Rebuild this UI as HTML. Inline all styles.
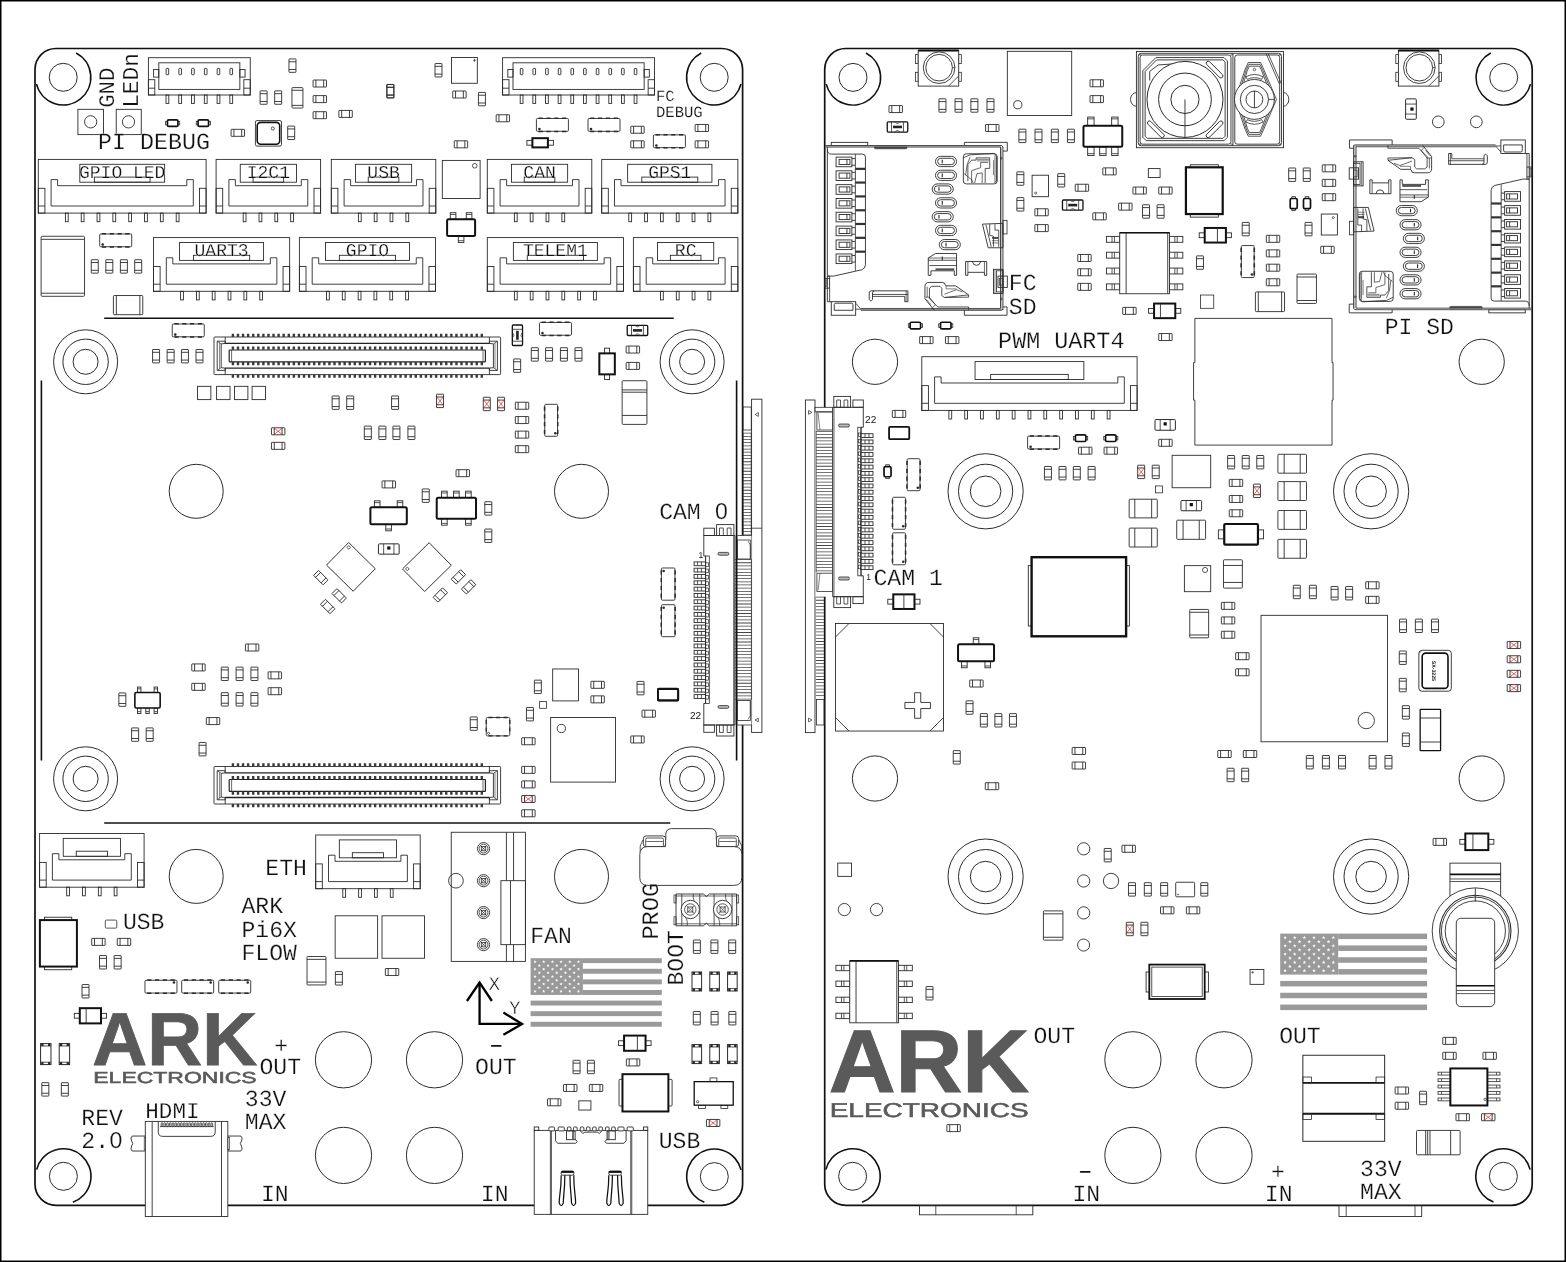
<!DOCTYPE html>
<html><head><meta charset="utf-8"><title>ARK Pi6X Flow</title>
<style>
html,body{margin:0;padding:0;background:#fff;}
body{width:1566px;height:1262px;overflow:hidden;}
svg{display:block;will-change:transform}
text{text-rendering:geometricPrecision;}
.t{font-family:"Liberation Mono","DejaVu Sans Mono",monospace;}
.s{font-family:"Liberation Sans","DejaVu Sans",sans-serif;}
</style></head><body>
<svg width="1566" height="1262" viewBox="0 0 1566 1262">
<rect x="0" y="0" width="1566" height="1262" fill="#fff"/>
<rect x="0.75" y="0.75" width="1564.5" height="1260.5" fill="none" stroke="#000" stroke-width="1.5"/>
<rect x="35" y="48.5" width="707.6" height="1156.8" rx="21" fill="none" stroke="#111" stroke-width="1.7"/>
<line x1="41.4" y1="380.5" x2="41.4" y2="760.4" stroke="#111" stroke-width="1.6"/>
<line x1="736.6" y1="380.5" x2="736.6" y2="760.4" stroke="#111" stroke-width="1.6"/>
<line x1="104.2" y1="318.3" x2="673.7" y2="318.3" stroke="#111" stroke-width="1.6"/>
<line x1="104.2" y1="823" x2="670.3" y2="823" stroke="#111" stroke-width="1.6"/>
<circle cx="63.2" cy="77.3" r="14" fill="none" stroke="#2b2b2b" stroke-width="1"/>
<path d="M76.16 52.93A27.6 27.6 0 1 1 36.42 83.98" fill="none" stroke="#111" stroke-width="1.6"/>
<circle cx="714.2" cy="77.3" r="14" fill="none" stroke="#2b2b2b" stroke-width="1"/>
<path d="M740.98 83.98A27.6 27.6 0 1 1 701.24 52.93" fill="none" stroke="#111" stroke-width="1.6"/>
<circle cx="63.4" cy="1176.3" r="14" fill="none" stroke="#2b2b2b" stroke-width="1"/>
<path d="M36.62 1169.62A27.6 27.6 0 1 1 72.84 1202.24" fill="none" stroke="#111" stroke-width="1.6"/>
<circle cx="714.3" cy="1176.6" r="14" fill="none" stroke="#2b2b2b" stroke-width="1"/>
<path d="M704.41 1202.37A27.6 27.6 0 1 1 741.08 1169.92" fill="none" stroke="#111" stroke-width="1.6"/>
<circle cx="85.6" cy="361.8" r="32" fill="none" stroke="#2b2b2b" stroke-width="1"/>
<circle cx="85.6" cy="361.8" r="22.7" fill="none" stroke="#2b2b2b" stroke-width="1"/>
<circle cx="85.6" cy="361.8" r="12.5" fill="none" stroke="#2b2b2b" stroke-width="1"/>
<circle cx="692.1" cy="361.8" r="32" fill="none" stroke="#2b2b2b" stroke-width="1"/>
<circle cx="692.1" cy="361.8" r="22.7" fill="none" stroke="#2b2b2b" stroke-width="1"/>
<circle cx="692.1" cy="361.8" r="12.5" fill="none" stroke="#2b2b2b" stroke-width="1"/>
<circle cx="85.6" cy="778.8" r="32" fill="none" stroke="#2b2b2b" stroke-width="1"/>
<circle cx="85.6" cy="778.8" r="22.7" fill="none" stroke="#2b2b2b" stroke-width="1"/>
<circle cx="85.6" cy="778.8" r="12.5" fill="none" stroke="#2b2b2b" stroke-width="1"/>
<circle cx="692.1" cy="778.8" r="32" fill="none" stroke="#2b2b2b" stroke-width="1"/>
<circle cx="692.1" cy="778.8" r="22.7" fill="none" stroke="#2b2b2b" stroke-width="1"/>
<circle cx="692.1" cy="778.8" r="12.5" fill="none" stroke="#2b2b2b" stroke-width="1"/>
<circle cx="196.2" cy="491.3" r="27" fill="none" stroke="#2b2b2b" stroke-width="1"/>
<circle cx="581.5" cy="491.3" r="27" fill="none" stroke="#2b2b2b" stroke-width="1"/>
<circle cx="196.2" cy="876.4" r="27" fill="none" stroke="#2b2b2b" stroke-width="1"/>
<circle cx="581.5" cy="876.4" r="27" fill="none" stroke="#2b2b2b" stroke-width="1"/>
<circle cx="343.5" cy="1059.8" r="28.1" fill="none" stroke="#2b2b2b" stroke-width="1"/>
<circle cx="434.5" cy="1059.8" r="28.1" fill="none" stroke="#2b2b2b" stroke-width="1"/>
<circle cx="343.5" cy="1155.4" r="28.1" fill="none" stroke="#2b2b2b" stroke-width="1"/>
<circle cx="434.5" cy="1155.4" r="28.1" fill="none" stroke="#2b2b2b" stroke-width="1"/>
<text class="t" dx="-1" x="113.67" y="106.77" font-size="22.3" text-anchor="start" fill="#111" font-weight="normal" stroke="#fff" stroke-width="0.22" transform="rotate(-90 113.67 106.77)">GND</text>
<text class="t" dx="-1.03" x="137.93" y="106.77" font-size="22.8" text-anchor="start" fill="#111" font-weight="normal" stroke="#fff" stroke-width="0.22" transform="rotate(-90 137.93 106.77)">LEDn</text>
<rect x="77.91" y="109.32" width="25.54" height="25.29" fill="none" stroke="#2b2b2b" stroke-width="0.9"/>
<circle cx="90.68" cy="121.84" r="6.13" fill="none" stroke="#2b2b2b" stroke-width="0.9"/>
<rect x="116.22" y="109.32" width="25.03" height="25.29" fill="none" stroke="#2b2b2b" stroke-width="0.9"/>
<circle cx="128.48" cy="121.84" r="6.13" fill="none" stroke="#2b2b2b" stroke-width="0.9"/>
<text class="t" dx="-1.05" x="99.11" y="148.91" font-size="23.3" text-anchor="start" fill="#111" font-weight="normal" stroke="#fff" stroke-width="0.22">PI DEBUG</text>
<rect x="148.4" y="57.7" width="101.85" height="37.3" fill="none" stroke="#2b2b2b" stroke-width="0.9"/>
<rect x="158.8" y="62.8" width="81.05" height="26.6" fill="none" stroke="#2b2b2b" stroke-width="0.9"/>
<rect x="153.6" y="69.5" width="5.2" height="7.6" fill="none" stroke="#2b2b2b" stroke-width="0.9"/>
<rect x="239.85" y="69.5" width="5.2" height="7.6" fill="none" stroke="#2b2b2b" stroke-width="0.9"/>
<rect x="148.4" y="79.7" width="6.4" height="15.3" fill="none" stroke="#2b2b2b" stroke-width="0.9"/>
<line x1="148.4" y1="88.2" x2="154.8" y2="88.2" stroke="#2b2b2b" stroke-width="0.9"/>
<rect x="243.85" y="79.7" width="6.4" height="15.3" fill="none" stroke="#2b2b2b" stroke-width="0.9"/>
<line x1="243.85" y1="88.2" x2="250.25" y2="88.2" stroke="#2b2b2b" stroke-width="0.9"/>
<rect x="166.1" y="68.4" width="2.6" height="6.3" rx="0.6" fill="none" stroke="#2b2b2b" stroke-width="0.9"/>
<rect x="166" y="95" width="2.8" height="8.4" fill="none" stroke="#2b2b2b" stroke-width="0.9"/>
<rect x="178.87" y="68.4" width="2.6" height="6.3" rx="0.6" fill="none" stroke="#2b2b2b" stroke-width="0.9"/>
<rect x="178.77" y="95" width="2.8" height="8.4" fill="none" stroke="#2b2b2b" stroke-width="0.9"/>
<rect x="191.64" y="68.4" width="2.6" height="6.3" rx="0.6" fill="none" stroke="#2b2b2b" stroke-width="0.9"/>
<rect x="191.54" y="95" width="2.8" height="8.4" fill="none" stroke="#2b2b2b" stroke-width="0.9"/>
<rect x="204.41" y="68.4" width="2.6" height="6.3" rx="0.6" fill="none" stroke="#2b2b2b" stroke-width="0.9"/>
<rect x="204.31" y="95" width="2.8" height="8.4" fill="none" stroke="#2b2b2b" stroke-width="0.9"/>
<rect x="217.18" y="68.4" width="2.6" height="6.3" rx="0.6" fill="none" stroke="#2b2b2b" stroke-width="0.9"/>
<rect x="217.08" y="95" width="2.8" height="8.4" fill="none" stroke="#2b2b2b" stroke-width="0.9"/>
<rect x="229.95" y="68.4" width="2.6" height="6.3" rx="0.6" fill="none" stroke="#2b2b2b" stroke-width="0.9"/>
<rect x="229.85" y="95" width="2.8" height="8.4" fill="none" stroke="#2b2b2b" stroke-width="0.9"/>
<g transform="translate(292.46 65.64) rotate(90)" fill="none" stroke="#2b2b2b" stroke-width="0.9"><rect x="-6.7" y="-3.5" width="13.4" height="7" rx="0.35"/><path d="M-3.89 -3.5V3.5M3.89 -3.5V3.5"/></g>
<g transform="translate(263.6 97.57) rotate(90)" fill="none" stroke="#2b2b2b" stroke-width="0.9"><rect x="-6.7" y="-3.5" width="13.4" height="7" rx="0.35"/><path d="M-3.89 -3.5V3.5M3.89 -3.5V3.5"/></g>
<g transform="translate(278.16 97.57) rotate(90)" fill="none" stroke="#2b2b2b" stroke-width="0.9"><rect x="-6.7" y="-3.5" width="13.4" height="7" rx="0.35"/><path d="M-3.89 -3.5V3.5M3.89 -3.5V3.5"/></g>
<g transform="translate(390.29 91.19) rotate(90)" fill="none" stroke="#2b2b2b" stroke-width="0.9"><rect x="-6.7" y="-3.5" width="13.4" height="7" rx="0.35"/><path d="M-3.89 -3.5V3.5M3.89 -3.5V3.5"/></g>
<rect x="291.95" y="87.61" width="10.98" height="20.43" rx="0.8" fill="none" stroke="#2b2b2b" stroke-width="0.9"/>
<line x1="291.95" y1="90.27" x2="302.94" y2="90.27" stroke="#2b2b2b" stroke-width="0.9"/>
<line x1="291.95" y1="105.39" x2="302.94" y2="105.39" stroke="#2b2b2b" stroke-width="0.9"/>
<g transform="translate(319.8 83.52)" fill="none" stroke="#2b2b2b" stroke-width="0.9"><rect x="-6.7" y="-3.5" width="13.4" height="7" rx="0.35"/><path d="M-3.89 -3.5V3.5M3.89 -3.5V3.5"/></g>
<g transform="translate(319.8 99.11)" fill="none" stroke="#2b2b2b" stroke-width="0.9"><rect x="-6.7" y="-3.5" width="13.4" height="7" rx="0.35"/><path d="M-3.89 -3.5V3.5M3.89 -3.5V3.5"/></g>
<g transform="translate(319.8 115.2)" fill="none" stroke="#2b2b2b" stroke-width="0.9"><rect x="-6.7" y="-3.5" width="13.4" height="7" rx="0.35"/><path d="M-3.89 -3.5V3.5M3.89 -3.5V3.5"/></g>
<g transform="translate(345.59 113.92)" fill="none" stroke="#2b2b2b" stroke-width="0.9"><rect x="-6.7" y="-3.5" width="13.4" height="7" rx="0.35"/><path d="M-3.89 -3.5V3.5M3.89 -3.5V3.5"/></g>
<g transform="translate(172.67 123.12)"><rect x="-7.05" y="-1.8" width="14.1" height="3.6" fill="none" stroke="#2b2b2b" stroke-width="0.8"/><rect x="-5.25" y="-3.3" width="10.5" height="6.6" rx="1.4" fill="#fff" stroke="#111" stroke-width="1.7"/></g>
<g transform="translate(203.32 123.12)"><rect x="-7.05" y="-1.8" width="14.1" height="3.6" fill="none" stroke="#2b2b2b" stroke-width="0.8"/><rect x="-5.25" y="-3.3" width="10.5" height="6.6" rx="1.4" fill="#fff" stroke="#111" stroke-width="1.7"/></g>
<g transform="translate(237.8 132.82)" fill="none" stroke="#2b2b2b" stroke-width="0.9"><rect x="-6.7" y="-3.5" width="13.4" height="7" rx="0.35"/><path d="M-3.89 -3.5V3.5M3.89 -3.5V3.5"/></g>
<g transform="translate(291.19 132.82) rotate(90)" fill="none" stroke="#2b2b2b" stroke-width="0.9"><rect x="-6.7" y="-3.5" width="13.4" height="7" rx="0.35"/><path d="M-3.89 -3.5V3.5M3.89 -3.5V3.5"/></g>
<rect x="255.43" y="120.56" width="26.05" height="25.54" rx="1.5" fill="none" stroke="#2b2b2b" stroke-width="0.9"/>
<rect x="257.22" y="122.35" width="22.48" height="21.97" rx="3.5" fill="none" stroke="#111" stroke-width="1.6"/>
<circle cx="272.8" cy="128.48" r="1.53" fill="none" stroke="#2b2b2b" stroke-width="0.8"/>
<rect x="41.12" y="236.27" width="43.42" height="60.03" rx="1" fill="none" stroke="#2b2b2b" stroke-width="0.9"/>
<line x1="41.12" y1="239.34" x2="84.55" y2="239.34" stroke="#2b2b2b" stroke-width="0.9"/>
<line x1="41.12" y1="293.23" x2="84.55" y2="293.23" stroke="#2b2b2b" stroke-width="0.9"/>
<g transform="translate(115.71 240.36)"><rect x="-16" y="-6.4" width="32" height="12.8" rx="1" fill="none" stroke="#2b2b2b" stroke-width="0.9"/><path d="M-13.8 -6.6H15M-13.8 6.6H15" stroke="#2b2b2b" stroke-width="1.5" stroke-dasharray="4.2 3.6" fill="none"/><circle cx="-13" cy="4.2" r="1.3" fill="#2b2b2b"/></g>
<g transform="translate(94.76 266.41) rotate(90)" fill="none" stroke="#2b2b2b" stroke-width="0.9"><rect x="-6.7" y="-3.5" width="13.4" height="7" rx="0.35"/><path d="M-3.89 -3.5V3.5M3.89 -3.5V3.5"/></g>
<g transform="translate(109.32 266.41) rotate(90)" fill="none" stroke="#2b2b2b" stroke-width="0.9"><rect x="-6.7" y="-3.5" width="13.4" height="7" rx="0.35"/><path d="M-3.89 -3.5V3.5M3.89 -3.5V3.5"/></g>
<g transform="translate(123.88 266.41) rotate(90)" fill="none" stroke="#2b2b2b" stroke-width="0.9"><rect x="-6.7" y="-3.5" width="13.4" height="7" rx="0.35"/><path d="M-3.89 -3.5V3.5M3.89 -3.5V3.5"/></g>
<g transform="translate(138.19 266.41) rotate(90)" fill="none" stroke="#2b2b2b" stroke-width="0.9"><rect x="-6.7" y="-3.5" width="13.4" height="7" rx="0.35"/><path d="M-3.89 -3.5V3.5M3.89 -3.5V3.5"/></g>
<rect x="113.41" y="295.53" width="29.37" height="19.16" rx="0.8" fill="none" stroke="#2b2b2b" stroke-width="0.9"/>
<line x1="116.35" y1="295.53" x2="116.35" y2="314.69" stroke="#2b2b2b" stroke-width="0.9"/>
<line x1="139.85" y1="295.53" x2="139.85" y2="314.69" stroke="#2b2b2b" stroke-width="0.9"/>
<rect x="38.3" y="159.4" width="167.81" height="53.7" fill="none" stroke="#2b2b2b" stroke-width="0.9"/>
<rect x="79.81" y="164.3" width="84.8" height="17.9" fill="none" stroke="#2b2b2b" stroke-width="0.9"/>
<rect x="94.36" y="177.1" width="55.7" height="5.1" fill="none" stroke="#2b2b2b" stroke-width="0.9"/>
<path d="M51.1 179.6 L57.6 179.6 L57.6 185.7 L186.81 185.7 L186.81 179.6 L193.31 179.6 L193.31 206 L51.1 206 Z" fill="#fff" stroke="#2b2b2b" stroke-width="0.9"/>
<rect x="38.3" y="188.3" width="6.6" height="24.8" fill="none" stroke="#2b2b2b" stroke-width="0.9"/>
<line x1="38.3" y1="206" x2="44.9" y2="206" stroke="#2b2b2b" stroke-width="0.9"/>
<rect x="199.51" y="188.3" width="6.6" height="24.8" fill="none" stroke="#2b2b2b" stroke-width="0.9"/>
<line x1="199.51" y1="206" x2="206.11" y2="206" stroke="#2b2b2b" stroke-width="0.9"/>
<rect x="65.4" y="213.1" width="2.8" height="8.6" fill="none" stroke="#2b2b2b" stroke-width="0.9"/>
<rect x="81.23" y="213.1" width="2.8" height="8.6" fill="none" stroke="#2b2b2b" stroke-width="0.9"/>
<rect x="97.06" y="213.1" width="2.8" height="8.6" fill="none" stroke="#2b2b2b" stroke-width="0.9"/>
<rect x="112.89" y="213.1" width="2.8" height="8.6" fill="none" stroke="#2b2b2b" stroke-width="0.9"/>
<rect x="128.72" y="213.1" width="2.8" height="8.6" fill="none" stroke="#2b2b2b" stroke-width="0.9"/>
<rect x="144.55" y="213.1" width="2.8" height="8.6" fill="none" stroke="#2b2b2b" stroke-width="0.9"/>
<rect x="160.38" y="213.1" width="2.8" height="8.6" fill="none" stroke="#2b2b2b" stroke-width="0.9"/>
<rect x="176.21" y="213.1" width="2.8" height="8.6" fill="none" stroke="#2b2b2b" stroke-width="0.9"/>
<text class="t" x="122.21" y="178.2" font-size="18" text-anchor="middle" fill="#111" font-weight="normal" stroke="#fff" stroke-width="0.22">GPIO LED</text>
<rect x="216.1" y="159.4" width="104.49" height="53.7" fill="none" stroke="#2b2b2b" stroke-width="0.9"/>
<rect x="240.25" y="164.3" width="56.2" height="17.9" fill="none" stroke="#2b2b2b" stroke-width="0.9"/>
<rect x="253.05" y="177.1" width="30.6" height="5.1" fill="none" stroke="#2b2b2b" stroke-width="0.9"/>
<path d="M228.9 179.6 L235.4 179.6 L235.4 185.7 L301.29 185.7 L301.29 179.6 L307.79 179.6 L307.79 206 L228.9 206 Z" fill="#fff" stroke="#2b2b2b" stroke-width="0.9"/>
<rect x="216.1" y="188.3" width="6.6" height="24.8" fill="none" stroke="#2b2b2b" stroke-width="0.9"/>
<line x1="216.1" y1="206" x2="222.7" y2="206" stroke="#2b2b2b" stroke-width="0.9"/>
<rect x="313.99" y="188.3" width="6.6" height="24.8" fill="none" stroke="#2b2b2b" stroke-width="0.9"/>
<line x1="313.99" y1="206" x2="320.59" y2="206" stroke="#2b2b2b" stroke-width="0.9"/>
<rect x="243.2" y="213.1" width="2.8" height="8.6" fill="none" stroke="#2b2b2b" stroke-width="0.9"/>
<rect x="259.03" y="213.1" width="2.8" height="8.6" fill="none" stroke="#2b2b2b" stroke-width="0.9"/>
<rect x="274.86" y="213.1" width="2.8" height="8.6" fill="none" stroke="#2b2b2b" stroke-width="0.9"/>
<rect x="290.69" y="213.1" width="2.8" height="8.6" fill="none" stroke="#2b2b2b" stroke-width="0.9"/>
<text class="t" x="268.35" y="178.2" font-size="18" text-anchor="middle" fill="#111" font-weight="normal" stroke="#fff" stroke-width="0.22">I2C1</text>
<rect x="331.3" y="159.4" width="104.49" height="53.7" fill="none" stroke="#2b2b2b" stroke-width="0.9"/>
<rect x="355.44" y="164.3" width="56.2" height="17.9" fill="none" stroke="#2b2b2b" stroke-width="0.9"/>
<rect x="368.25" y="177.1" width="30.6" height="5.1" fill="none" stroke="#2b2b2b" stroke-width="0.9"/>
<path d="M344.1 179.6 L350.6 179.6 L350.6 185.7 L416.49 185.7 L416.49 179.6 L422.99 179.6 L422.99 206 L344.1 206 Z" fill="#fff" stroke="#2b2b2b" stroke-width="0.9"/>
<rect x="331.3" y="188.3" width="6.6" height="24.8" fill="none" stroke="#2b2b2b" stroke-width="0.9"/>
<line x1="331.3" y1="206" x2="337.9" y2="206" stroke="#2b2b2b" stroke-width="0.9"/>
<rect x="429.19" y="188.3" width="6.6" height="24.8" fill="none" stroke="#2b2b2b" stroke-width="0.9"/>
<line x1="429.19" y1="206" x2="435.79" y2="206" stroke="#2b2b2b" stroke-width="0.9"/>
<rect x="358.4" y="213.1" width="2.8" height="8.6" fill="none" stroke="#2b2b2b" stroke-width="0.9"/>
<rect x="374.23" y="213.1" width="2.8" height="8.6" fill="none" stroke="#2b2b2b" stroke-width="0.9"/>
<rect x="390.06" y="213.1" width="2.8" height="8.6" fill="none" stroke="#2b2b2b" stroke-width="0.9"/>
<rect x="405.89" y="213.1" width="2.8" height="8.6" fill="none" stroke="#2b2b2b" stroke-width="0.9"/>
<text class="t" x="383.55" y="178.2" font-size="18" text-anchor="middle" fill="#111" font-weight="normal" stroke="#fff" stroke-width="0.22">USB</text>
<rect x="487.3" y="159.4" width="104.49" height="53.7" fill="none" stroke="#2b2b2b" stroke-width="0.9"/>
<rect x="511.44" y="164.3" width="56.2" height="17.9" fill="none" stroke="#2b2b2b" stroke-width="0.9"/>
<rect x="524.25" y="177.1" width="30.6" height="5.1" fill="none" stroke="#2b2b2b" stroke-width="0.9"/>
<path d="M500.1 179.6 L506.6 179.6 L506.6 185.7 L572.49 185.7 L572.49 179.6 L578.99 179.6 L578.99 206 L500.1 206 Z" fill="#fff" stroke="#2b2b2b" stroke-width="0.9"/>
<rect x="487.3" y="188.3" width="6.6" height="24.8" fill="none" stroke="#2b2b2b" stroke-width="0.9"/>
<line x1="487.3" y1="206" x2="493.9" y2="206" stroke="#2b2b2b" stroke-width="0.9"/>
<rect x="585.19" y="188.3" width="6.6" height="24.8" fill="none" stroke="#2b2b2b" stroke-width="0.9"/>
<line x1="585.19" y1="206" x2="591.79" y2="206" stroke="#2b2b2b" stroke-width="0.9"/>
<rect x="514.4" y="213.1" width="2.8" height="8.6" fill="none" stroke="#2b2b2b" stroke-width="0.9"/>
<rect x="530.23" y="213.1" width="2.8" height="8.6" fill="none" stroke="#2b2b2b" stroke-width="0.9"/>
<rect x="546.06" y="213.1" width="2.8" height="8.6" fill="none" stroke="#2b2b2b" stroke-width="0.9"/>
<rect x="561.89" y="213.1" width="2.8" height="8.6" fill="none" stroke="#2b2b2b" stroke-width="0.9"/>
<text class="t" x="539.54" y="178.2" font-size="18" text-anchor="middle" fill="#111" font-weight="normal" stroke="#fff" stroke-width="0.22">CAN</text>
<rect x="601.7" y="159.4" width="136.15" height="53.7" fill="none" stroke="#2b2b2b" stroke-width="0.9"/>
<rect x="627.63" y="164.3" width="84.3" height="17.9" fill="none" stroke="#2b2b2b" stroke-width="0.9"/>
<rect x="641.78" y="177.1" width="56" height="5.1" fill="none" stroke="#2b2b2b" stroke-width="0.9"/>
<path d="M614.5 179.6 L621 179.6 L621 185.7 L718.55 185.7 L718.55 179.6 L725.05 179.6 L725.05 206 L614.5 206 Z" fill="#fff" stroke="#2b2b2b" stroke-width="0.9"/>
<rect x="601.7" y="188.3" width="6.6" height="24.8" fill="none" stroke="#2b2b2b" stroke-width="0.9"/>
<line x1="601.7" y1="206" x2="608.3" y2="206" stroke="#2b2b2b" stroke-width="0.9"/>
<rect x="731.25" y="188.3" width="6.6" height="24.8" fill="none" stroke="#2b2b2b" stroke-width="0.9"/>
<line x1="731.25" y1="206" x2="737.85" y2="206" stroke="#2b2b2b" stroke-width="0.9"/>
<rect x="628.8" y="213.1" width="2.8" height="8.6" fill="none" stroke="#2b2b2b" stroke-width="0.9"/>
<rect x="644.63" y="213.1" width="2.8" height="8.6" fill="none" stroke="#2b2b2b" stroke-width="0.9"/>
<rect x="660.46" y="213.1" width="2.8" height="8.6" fill="none" stroke="#2b2b2b" stroke-width="0.9"/>
<rect x="676.29" y="213.1" width="2.8" height="8.6" fill="none" stroke="#2b2b2b" stroke-width="0.9"/>
<rect x="692.12" y="213.1" width="2.8" height="8.6" fill="none" stroke="#2b2b2b" stroke-width="0.9"/>
<rect x="707.95" y="213.1" width="2.8" height="8.6" fill="none" stroke="#2b2b2b" stroke-width="0.9"/>
<text class="t" x="669.78" y="178.2" font-size="18" text-anchor="middle" fill="#111" font-weight="normal" stroke="#fff" stroke-width="0.22">GPS1</text>
<rect x="153.5" y="237.6" width="136.15" height="53.7" fill="none" stroke="#2b2b2b" stroke-width="0.9"/>
<rect x="179.57" y="242.5" width="84" height="17.9" fill="none" stroke="#2b2b2b" stroke-width="0.9"/>
<rect x="193.47" y="255.3" width="56.2" height="5.1" fill="none" stroke="#2b2b2b" stroke-width="0.9"/>
<path d="M166.3 257.8 L172.8 257.8 L172.8 263.9 L270.35 263.9 L270.35 257.8 L276.85 257.8 L276.85 284.2 L166.3 284.2 Z" fill="#fff" stroke="#2b2b2b" stroke-width="0.9"/>
<rect x="153.5" y="266.5" width="6.6" height="24.8" fill="none" stroke="#2b2b2b" stroke-width="0.9"/>
<line x1="153.5" y1="284.2" x2="160.1" y2="284.2" stroke="#2b2b2b" stroke-width="0.9"/>
<rect x="283.05" y="266.5" width="6.6" height="24.8" fill="none" stroke="#2b2b2b" stroke-width="0.9"/>
<line x1="283.05" y1="284.2" x2="289.65" y2="284.2" stroke="#2b2b2b" stroke-width="0.9"/>
<rect x="180.6" y="291.3" width="2.8" height="8.6" fill="none" stroke="#2b2b2b" stroke-width="0.9"/>
<rect x="196.43" y="291.3" width="2.8" height="8.6" fill="none" stroke="#2b2b2b" stroke-width="0.9"/>
<rect x="212.26" y="291.3" width="2.8" height="8.6" fill="none" stroke="#2b2b2b" stroke-width="0.9"/>
<rect x="228.09" y="291.3" width="2.8" height="8.6" fill="none" stroke="#2b2b2b" stroke-width="0.9"/>
<rect x="243.92" y="291.3" width="2.8" height="8.6" fill="none" stroke="#2b2b2b" stroke-width="0.9"/>
<rect x="259.75" y="291.3" width="2.8" height="8.6" fill="none" stroke="#2b2b2b" stroke-width="0.9"/>
<text class="t" x="221.57" y="256.4" font-size="18" text-anchor="middle" fill="#111" font-weight="normal" stroke="#fff" stroke-width="0.22">UART3</text>
<rect x="299.4" y="237.6" width="136.15" height="53.7" fill="none" stroke="#2b2b2b" stroke-width="0.9"/>
<rect x="325.47" y="242.5" width="84" height="17.9" fill="none" stroke="#2b2b2b" stroke-width="0.9"/>
<rect x="339.37" y="255.3" width="56.2" height="5.1" fill="none" stroke="#2b2b2b" stroke-width="0.9"/>
<path d="M312.2 257.8 L318.7 257.8 L318.7 263.9 L416.25 263.9 L416.25 257.8 L422.75 257.8 L422.75 284.2 L312.2 284.2 Z" fill="#fff" stroke="#2b2b2b" stroke-width="0.9"/>
<rect x="299.4" y="266.5" width="6.6" height="24.8" fill="none" stroke="#2b2b2b" stroke-width="0.9"/>
<line x1="299.4" y1="284.2" x2="306" y2="284.2" stroke="#2b2b2b" stroke-width="0.9"/>
<rect x="428.95" y="266.5" width="6.6" height="24.8" fill="none" stroke="#2b2b2b" stroke-width="0.9"/>
<line x1="428.95" y1="284.2" x2="435.55" y2="284.2" stroke="#2b2b2b" stroke-width="0.9"/>
<rect x="326.5" y="291.3" width="2.8" height="8.6" fill="none" stroke="#2b2b2b" stroke-width="0.9"/>
<rect x="342.33" y="291.3" width="2.8" height="8.6" fill="none" stroke="#2b2b2b" stroke-width="0.9"/>
<rect x="358.16" y="291.3" width="2.8" height="8.6" fill="none" stroke="#2b2b2b" stroke-width="0.9"/>
<rect x="373.99" y="291.3" width="2.8" height="8.6" fill="none" stroke="#2b2b2b" stroke-width="0.9"/>
<rect x="389.82" y="291.3" width="2.8" height="8.6" fill="none" stroke="#2b2b2b" stroke-width="0.9"/>
<rect x="405.65" y="291.3" width="2.8" height="8.6" fill="none" stroke="#2b2b2b" stroke-width="0.9"/>
<text class="t" x="367.47" y="256.4" font-size="18" text-anchor="middle" fill="#111" font-weight="normal" stroke="#fff" stroke-width="0.22">GPIO</text>
<rect x="487.3" y="237.6" width="136.15" height="53.7" fill="none" stroke="#2b2b2b" stroke-width="0.9"/>
<rect x="513.38" y="242.5" width="84" height="17.9" fill="none" stroke="#2b2b2b" stroke-width="0.9"/>
<rect x="527.27" y="255.3" width="56.2" height="5.1" fill="none" stroke="#2b2b2b" stroke-width="0.9"/>
<path d="M500.1 257.8 L506.6 257.8 L506.6 263.9 L604.15 263.9 L604.15 257.8 L610.65 257.8 L610.65 284.2 L500.1 284.2 Z" fill="#fff" stroke="#2b2b2b" stroke-width="0.9"/>
<rect x="487.3" y="266.5" width="6.6" height="24.8" fill="none" stroke="#2b2b2b" stroke-width="0.9"/>
<line x1="487.3" y1="284.2" x2="493.9" y2="284.2" stroke="#2b2b2b" stroke-width="0.9"/>
<rect x="616.85" y="266.5" width="6.6" height="24.8" fill="none" stroke="#2b2b2b" stroke-width="0.9"/>
<line x1="616.85" y1="284.2" x2="623.45" y2="284.2" stroke="#2b2b2b" stroke-width="0.9"/>
<rect x="514.4" y="291.3" width="2.8" height="8.6" fill="none" stroke="#2b2b2b" stroke-width="0.9"/>
<rect x="530.23" y="291.3" width="2.8" height="8.6" fill="none" stroke="#2b2b2b" stroke-width="0.9"/>
<rect x="546.06" y="291.3" width="2.8" height="8.6" fill="none" stroke="#2b2b2b" stroke-width="0.9"/>
<rect x="561.89" y="291.3" width="2.8" height="8.6" fill="none" stroke="#2b2b2b" stroke-width="0.9"/>
<rect x="577.72" y="291.3" width="2.8" height="8.6" fill="none" stroke="#2b2b2b" stroke-width="0.9"/>
<rect x="593.55" y="291.3" width="2.8" height="8.6" fill="none" stroke="#2b2b2b" stroke-width="0.9"/>
<text class="t" x="555.38" y="256.4" font-size="18" text-anchor="middle" fill="#111" font-weight="normal" stroke="#fff" stroke-width="0.22">TELEM1</text>
<rect x="633.4" y="237.6" width="104.49" height="53.7" fill="none" stroke="#2b2b2b" stroke-width="0.9"/>
<rect x="657.54" y="242.5" width="56.2" height="17.9" fill="none" stroke="#2b2b2b" stroke-width="0.9"/>
<rect x="670.35" y="255.3" width="30.6" height="5.1" fill="none" stroke="#2b2b2b" stroke-width="0.9"/>
<path d="M646.2 257.8 L652.7 257.8 L652.7 263.9 L718.59 263.9 L718.59 257.8 L725.09 257.8 L725.09 284.2 L646.2 284.2 Z" fill="#fff" stroke="#2b2b2b" stroke-width="0.9"/>
<rect x="633.4" y="266.5" width="6.6" height="24.8" fill="none" stroke="#2b2b2b" stroke-width="0.9"/>
<line x1="633.4" y1="284.2" x2="640" y2="284.2" stroke="#2b2b2b" stroke-width="0.9"/>
<rect x="731.29" y="266.5" width="6.6" height="24.8" fill="none" stroke="#2b2b2b" stroke-width="0.9"/>
<line x1="731.29" y1="284.2" x2="737.89" y2="284.2" stroke="#2b2b2b" stroke-width="0.9"/>
<rect x="660.5" y="291.3" width="2.8" height="8.6" fill="none" stroke="#2b2b2b" stroke-width="0.9"/>
<rect x="676.33" y="291.3" width="2.8" height="8.6" fill="none" stroke="#2b2b2b" stroke-width="0.9"/>
<rect x="692.16" y="291.3" width="2.8" height="8.6" fill="none" stroke="#2b2b2b" stroke-width="0.9"/>
<rect x="707.99" y="291.3" width="2.8" height="8.6" fill="none" stroke="#2b2b2b" stroke-width="0.9"/>
<text class="t" x="685.64" y="256.4" font-size="18" text-anchor="middle" fill="#111" font-weight="normal" stroke="#fff" stroke-width="0.22">RC</text>
<g transform="translate(438.49 70.24) rotate(90)" fill="none" stroke="#2b2b2b" stroke-width="0.9"><rect x="-6.7" y="-3.5" width="13.4" height="7" rx="0.35"/><path d="M-3.89 -3.5V3.5M3.89 -3.5V3.5"/></g>
<g transform="translate(390.47 91.19) rotate(90)" fill="none" stroke="#2b2b2b" stroke-width="0.9"><rect x="-6.7" y="-3.5" width="13.4" height="7" rx="0.35"/><path d="M-3.89 -3.5V3.5M3.89 -3.5V3.5"/></g>
<rect x="451.52" y="57.47" width="25.8" height="25.8" fill="none" stroke="#2b2b2b" stroke-width="0.9"/>
<line x1="472.98" y1="60.28" x2="476.04" y2="60.28" stroke="#2b2b2b" stroke-width="0.7"/>
<line x1="474.51" y1="58.75" x2="474.51" y2="61.81" stroke="#2b2b2b" stroke-width="0.7"/>
<g transform="translate(459.44 94.51)" fill="none" stroke="#2b2b2b" stroke-width="0.9"><rect x="-6.7" y="-3.5" width="13.4" height="7" rx="0.35"/><path d="M-3.89 -3.5V3.5M3.89 -3.5V3.5"/></g>
<g transform="translate(481.92 99.11) rotate(90)" fill="none" stroke="#2b2b2b" stroke-width="0.9"><rect x="-6.7" y="-3.5" width="13.4" height="7" rx="0.35"/><path d="M-3.89 -3.5V3.5M3.89 -3.5V3.5"/></g>
<g transform="translate(502.86 118.26)" fill="none" stroke="#2b2b2b" stroke-width="0.9"><rect x="-6.7" y="-3.5" width="13.4" height="7" rx="0.35"/><path d="M-3.89 -3.5V3.5M3.89 -3.5V3.5"/></g>
<g transform="translate(460.97 144.32)" fill="none" stroke="#2b2b2b" stroke-width="0.9"><rect x="-6.7" y="-3.5" width="13.4" height="7" rx="0.35"/><path d="M-3.89 -3.5V3.5M3.89 -3.5V3.5"/></g>
<g transform="translate(552.41 124.9)"><rect x="-16" y="-6.4" width="32" height="12.8" rx="1" fill="none" stroke="#2b2b2b" stroke-width="0.9"/><path d="M-13.8 -6.6H15M-13.8 6.6H15" stroke="#2b2b2b" stroke-width="1.5" stroke-dasharray="4.2 3.6" fill="none"/><circle cx="-13" cy="4.2" r="1.3" fill="#2b2b2b"/></g>
<g transform="translate(604.01 124.9)"><rect x="-16" y="-6.4" width="32" height="12.8" rx="1" fill="none" stroke="#2b2b2b" stroke-width="0.9"/><path d="M-13.8 -6.6H15M-13.8 6.6H15" stroke="#2b2b2b" stroke-width="1.5" stroke-dasharray="4.2 3.6" fill="none"/><circle cx="-13" cy="4.2" r="1.3" fill="#2b2b2b"/></g>
<g transform="translate(669.4 141.25)"><rect x="-16" y="-6.4" width="32" height="12.8" rx="1" fill="none" stroke="#2b2b2b" stroke-width="0.9"/><path d="M-13.8 -6.6H15M-13.8 6.6H15" stroke="#2b2b2b" stroke-width="1.5" stroke-dasharray="4.2 3.6" fill="none"/><circle cx="-13" cy="4.2" r="1.3" fill="#2b2b2b"/></g>
<g transform="translate(637.47 129.76)" fill="none" stroke="#2b2b2b" stroke-width="0.9"><rect x="-6.7" y="-3.5" width="13.4" height="7" rx="0.35"/><path d="M-3.89 -3.5V3.5M3.89 -3.5V3.5"/></g>
<g transform="translate(637.47 144.32)" fill="none" stroke="#2b2b2b" stroke-width="0.9"><rect x="-6.7" y="-3.5" width="13.4" height="7" rx="0.35"/><path d="M-3.89 -3.5V3.5M3.89 -3.5V3.5"/></g>
<g transform="translate(701.84 127.97)" fill="none" stroke="#2b2b2b" stroke-width="0.9"><rect x="-6.7" y="-3.5" width="13.4" height="7" rx="0.35"/><path d="M-3.89 -3.5V3.5M3.89 -3.5V3.5"/></g>
<g transform="translate(701.84 144.32)" fill="none" stroke="#2b2b2b" stroke-width="0.9"><rect x="-6.7" y="-3.5" width="13.4" height="7" rx="0.35"/><path d="M-3.89 -3.5V3.5M3.89 -3.5V3.5"/></g>
<rect x="526.9" y="140.38" width="26.5" height="4.8" fill="none" stroke="#2b2b2b" stroke-width="0.9"/>
<rect x="532.4" y="138.18" width="15.5" height="9.2" fill="#fff" stroke="#111" stroke-width="2"/>
<rect x="502.6" y="57.7" width="151.94" height="37.3" fill="none" stroke="#2b2b2b" stroke-width="0.9"/>
<rect x="513" y="62.8" width="131.14" height="26.6" fill="none" stroke="#2b2b2b" stroke-width="0.9"/>
<rect x="507.8" y="69.5" width="5.2" height="7.6" fill="none" stroke="#2b2b2b" stroke-width="0.9"/>
<rect x="644.14" y="69.5" width="5.2" height="7.6" fill="none" stroke="#2b2b2b" stroke-width="0.9"/>
<rect x="502.6" y="79.7" width="6.4" height="15.3" fill="none" stroke="#2b2b2b" stroke-width="0.9"/>
<line x1="502.6" y1="88.2" x2="509" y2="88.2" stroke="#2b2b2b" stroke-width="0.9"/>
<rect x="648.14" y="79.7" width="6.4" height="15.3" fill="none" stroke="#2b2b2b" stroke-width="0.9"/>
<line x1="648.14" y1="88.2" x2="654.54" y2="88.2" stroke="#2b2b2b" stroke-width="0.9"/>
<rect x="520.3" y="68.4" width="2.6" height="6.3" rx="0.6" fill="none" stroke="#2b2b2b" stroke-width="0.9"/>
<rect x="520.2" y="95" width="2.8" height="8.4" fill="none" stroke="#2b2b2b" stroke-width="0.9"/>
<rect x="532.96" y="68.4" width="2.6" height="6.3" rx="0.6" fill="none" stroke="#2b2b2b" stroke-width="0.9"/>
<rect x="532.86" y="95" width="2.8" height="8.4" fill="none" stroke="#2b2b2b" stroke-width="0.9"/>
<rect x="545.62" y="68.4" width="2.6" height="6.3" rx="0.6" fill="none" stroke="#2b2b2b" stroke-width="0.9"/>
<rect x="545.52" y="95" width="2.8" height="8.4" fill="none" stroke="#2b2b2b" stroke-width="0.9"/>
<rect x="558.28" y="68.4" width="2.6" height="6.3" rx="0.6" fill="none" stroke="#2b2b2b" stroke-width="0.9"/>
<rect x="558.18" y="95" width="2.8" height="8.4" fill="none" stroke="#2b2b2b" stroke-width="0.9"/>
<rect x="570.94" y="68.4" width="2.6" height="6.3" rx="0.6" fill="none" stroke="#2b2b2b" stroke-width="0.9"/>
<rect x="570.84" y="95" width="2.8" height="8.4" fill="none" stroke="#2b2b2b" stroke-width="0.9"/>
<rect x="583.6" y="68.4" width="2.6" height="6.3" rx="0.6" fill="none" stroke="#2b2b2b" stroke-width="0.9"/>
<rect x="583.5" y="95" width="2.8" height="8.4" fill="none" stroke="#2b2b2b" stroke-width="0.9"/>
<rect x="596.26" y="68.4" width="2.6" height="6.3" rx="0.6" fill="none" stroke="#2b2b2b" stroke-width="0.9"/>
<rect x="596.16" y="95" width="2.8" height="8.4" fill="none" stroke="#2b2b2b" stroke-width="0.9"/>
<rect x="608.92" y="68.4" width="2.6" height="6.3" rx="0.6" fill="none" stroke="#2b2b2b" stroke-width="0.9"/>
<rect x="608.82" y="95" width="2.8" height="8.4" fill="none" stroke="#2b2b2b" stroke-width="0.9"/>
<rect x="621.58" y="68.4" width="2.6" height="6.3" rx="0.6" fill="none" stroke="#2b2b2b" stroke-width="0.9"/>
<rect x="621.48" y="95" width="2.8" height="8.4" fill="none" stroke="#2b2b2b" stroke-width="0.9"/>
<rect x="634.24" y="68.4" width="2.6" height="6.3" rx="0.6" fill="none" stroke="#2b2b2b" stroke-width="0.9"/>
<rect x="634.14" y="95" width="2.8" height="8.4" fill="none" stroke="#2b2b2b" stroke-width="0.9"/>
<text class="t" dx="-0.7" x="656.63" y="101.4" font-size="15.6" text-anchor="start" fill="#111" font-weight="normal" stroke="#fff" stroke-width="0.15">FC</text>
<text class="t" dx="-0.7" x="656.63" y="116.99" font-size="15.6" text-anchor="start" fill="#111" font-weight="normal" stroke="#fff" stroke-width="0.15">DEBUG</text>
<rect x="442.32" y="160.41" width="37.8" height="38.06" fill="none" stroke="#2b2b2b" stroke-width="0.9"/>
<circle cx="474.76" cy="165.77" r="2.3" fill="none" stroke="#2b2b2b" stroke-width="0.8"/>
<rect x="450.3" y="212.69" width="5.6" height="6.5" fill="none" stroke="#2b2b2b" stroke-width="0.9"/>
<line x1="450.3" y1="214.49" x2="455.9" y2="214.49" stroke="#2b2b2b" stroke-width="0.8"/>
<rect x="466.3" y="212.69" width="5.6" height="6.5" fill="none" stroke="#2b2b2b" stroke-width="0.9"/>
<line x1="466.3" y1="214.49" x2="471.9" y2="214.49" stroke="#2b2b2b" stroke-width="0.8"/>
<rect x="458.3" y="235.99" width="5.6" height="6.5" fill="none" stroke="#2b2b2b" stroke-width="0.9"/>
<line x1="458.3" y1="240.69" x2="463.9" y2="240.69" stroke="#2b2b2b" stroke-width="0.8"/>
<rect x="447.1" y="219.19" width="28" height="16.8" rx="1.5" fill="#fff" stroke="#111" stroke-width="2"/>
<g transform="translate(188.25 330.4)"><rect x="-16" y="-6.4" width="32" height="12.8" rx="1" fill="none" stroke="#2b2b2b" stroke-width="0.9"/><path d="M-13.8 -6.6H15M-13.8 6.6H15" stroke="#2b2b2b" stroke-width="1.5" stroke-dasharray="4.2 3.6" fill="none"/><circle cx="-13" cy="4.2" r="1.3" fill="#2b2b2b"/></g>
<g transform="translate(156.07 356.19) rotate(90)" fill="none" stroke="#2b2b2b" stroke-width="0.9"><rect x="-6.7" y="-3.5" width="13.4" height="7" rx="0.35"/><path d="M-3.89 -3.5V3.5M3.89 -3.5V3.5"/></g>
<g transform="translate(170.63 356.19) rotate(90)" fill="none" stroke="#2b2b2b" stroke-width="0.9"><rect x="-6.7" y="-3.5" width="13.4" height="7" rx="0.35"/><path d="M-3.89 -3.5V3.5M3.89 -3.5V3.5"/></g>
<g transform="translate(184.93 356.19) rotate(90)" fill="none" stroke="#2b2b2b" stroke-width="0.9"><rect x="-6.7" y="-3.5" width="13.4" height="7" rx="0.35"/><path d="M-3.89 -3.5V3.5M3.89 -3.5V3.5"/></g>
<g transform="translate(199.49 356.19) rotate(90)" fill="none" stroke="#2b2b2b" stroke-width="0.9"><rect x="-6.7" y="-3.5" width="13.4" height="7" rx="0.35"/><path d="M-3.89 -3.5V3.5M3.89 -3.5V3.5"/></g>
<rect x="214" y="337" width="286.6" height="37.6" rx="0.8" fill="none" stroke="#2b2b2b" stroke-width="0.9"/>
<path d="M217.2 341.2 L225.2 341.2 L225.2 343.4 L221.2 343.9 L221.2 367.7 L225.2 368.1 L225.2 370.4 L217.2 370.4 Z" fill="none" stroke="#2b2b2b" stroke-width="0.9"/>
<line x1="217.2" y1="341.2" x2="221.2" y2="343.9" stroke="#2b2b2b" stroke-width="0.7"/>
<line x1="217.2" y1="370.4" x2="221.2" y2="367.7" stroke="#2b2b2b" stroke-width="0.7"/>
<line x1="219.6" y1="343" x2="219.6" y2="368.6" stroke="#2b2b2b" stroke-width="0.6"/>
<line x1="225.2" y1="337" x2="225.2" y2="343.4" stroke="#2b2b2b" stroke-width="0.9"/>
<line x1="225.2" y1="374.6" x2="225.2" y2="368.1" stroke="#2b2b2b" stroke-width="0.9"/>
<path d="M497.4 341.2 L489.4 341.2 L489.4 343.4 L493.4 343.9 L493.4 367.7 L489.4 368.1 L489.4 370.4 L497.4 370.4 Z" fill="none" stroke="#2b2b2b" stroke-width="0.9"/>
<line x1="497.4" y1="341.2" x2="493.4" y2="343.9" stroke="#2b2b2b" stroke-width="0.7"/>
<line x1="497.4" y1="370.4" x2="493.4" y2="367.7" stroke="#2b2b2b" stroke-width="0.7"/>
<line x1="495" y1="343" x2="495" y2="368.6" stroke="#2b2b2b" stroke-width="0.6"/>
<line x1="489.4" y1="337" x2="489.4" y2="343.4" stroke="#2b2b2b" stroke-width="0.9"/>
<line x1="489.4" y1="374.6" x2="489.4" y2="368.1" stroke="#2b2b2b" stroke-width="0.9"/>
<line x1="225.2" y1="343.4" x2="489.4" y2="343.4" stroke="#222" stroke-width="1.4"/>
<line x1="225.2" y1="368.1" x2="489.4" y2="368.1" stroke="#222" stroke-width="1.4"/>
<rect x="229.2" y="350" width="256.2" height="11.9" rx="0.6" fill="none" stroke="#222" stroke-width="1.2"/>
<line x1="231.6" y1="350" x2="231.6" y2="361.9" stroke="#2b2b2b" stroke-width="0.7"/>
<line x1="483" y1="350" x2="483" y2="361.9" stroke="#2b2b2b" stroke-width="0.7"/>
<line x1="231.7" y1="335.4" x2="483" y2="335.4" stroke="#3a3a3a" stroke-width="3.2" stroke-dasharray="2.4 2.68"/>
<line x1="231.7" y1="348.2" x2="483" y2="348.2" stroke="#3a3a3a" stroke-width="3.2" stroke-dasharray="2.4 2.68"/>
<line x1="231.7" y1="363.7" x2="483" y2="363.7" stroke="#3a3a3a" stroke-width="3.2" stroke-dasharray="2.4 2.68"/>
<line x1="231.7" y1="376.2" x2="483" y2="376.2" stroke="#3a3a3a" stroke-width="3.2" stroke-dasharray="2.4 2.68"/>
<rect x="197.45" y="386.33" width="13.41" height="13.28" fill="none" stroke="#2b2b2b" stroke-width="0.9"/>
<rect x="216.6" y="386.33" width="13.41" height="13.28" fill="none" stroke="#2b2b2b" stroke-width="0.9"/>
<rect x="234.48" y="386.33" width="13.41" height="13.28" fill="none" stroke="#2b2b2b" stroke-width="0.9"/>
<rect x="252.11" y="386.33" width="13.41" height="13.28" fill="none" stroke="#2b2b2b" stroke-width="0.9"/>
<g transform="translate(335.63 402.68) rotate(90)" fill="none" stroke="#2b2b2b" stroke-width="0.9"><rect x="-6.7" y="-3.5" width="13.4" height="7" rx="0.35"/><path d="M-3.89 -3.5V3.5M3.89 -3.5V3.5"/></g>
<g transform="translate(350.19 402.68) rotate(90)" fill="none" stroke="#2b2b2b" stroke-width="0.9"><rect x="-6.7" y="-3.5" width="13.4" height="7" rx="0.35"/><path d="M-3.89 -3.5V3.5M3.89 -3.5V3.5"/></g>
<g transform="translate(278.16 431.29)" fill="none" stroke="#2b2b2b" stroke-width="0.9"><rect x="-6.7" y="-3.5" width="13.4" height="7" rx="0.35"/><path d="M-3.89 -3.5V3.5M3.89 -3.5V3.5"/><path d="M-3.89 -3L3.89 3M-3.89 3L3.89 -3" stroke="#e02020" stroke-width="0.7"/></g>
<g transform="translate(278.16 445.85)" fill="none" stroke="#2b2b2b" stroke-width="0.9"><rect x="-6.7" y="-3.5" width="13.4" height="7" rx="0.35"/><path d="M-3.89 -3.5V3.5M3.89 -3.5V3.5"/></g>
<g transform="translate(367.82 432.82) rotate(90)" fill="none" stroke="#2b2b2b" stroke-width="0.9"><rect x="-6.7" y="-3.5" width="13.4" height="7" rx="0.35"/><path d="M-3.89 -3.5V3.5M3.89 -3.5V3.5"/></g>
<g transform="translate(382.38 432.82) rotate(90)" fill="none" stroke="#2b2b2b" stroke-width="0.9"><rect x="-6.7" y="-3.5" width="13.4" height="7" rx="0.35"/><path d="M-3.89 -3.5V3.5M3.89 -3.5V3.5"/></g>
<g transform="translate(396.42 432.82) rotate(90)" fill="none" stroke="#2b2b2b" stroke-width="0.9"><rect x="-6.7" y="-3.5" width="13.4" height="7" rx="0.35"/><path d="M-3.89 -3.5V3.5M3.89 -3.5V3.5"/></g>
<g transform="translate(388.76 484.42)" fill="none" stroke="#2b2b2b" stroke-width="0.9"><rect x="-6.7" y="-3.5" width="13.4" height="7" rx="0.35"/><path d="M-3.89 -3.5V3.5M3.89 -3.5V3.5"/></g>
<rect x="374.4" y="500.8" width="5.6" height="6.5" fill="none" stroke="#2b2b2b" stroke-width="0.9"/>
<line x1="374.4" y1="502.6" x2="380" y2="502.6" stroke="#2b2b2b" stroke-width="0.8"/>
<rect x="397.2" y="500.8" width="5.6" height="6.5" fill="none" stroke="#2b2b2b" stroke-width="0.9"/>
<line x1="397.2" y1="502.6" x2="402.8" y2="502.6" stroke="#2b2b2b" stroke-width="0.8"/>
<rect x="385.8" y="524.3" width="5.6" height="6.5" fill="none" stroke="#2b2b2b" stroke-width="0.9"/>
<line x1="385.8" y1="529" x2="391.4" y2="529" stroke="#2b2b2b" stroke-width="0.8"/>
<rect x="370.4" y="507.3" width="36.4" height="17" rx="1.5" fill="#fff" stroke="#111" stroke-width="2"/>
<g transform="translate(388.8 549)"><rect x="-10.35" y="-5.15" width="20.7" height="10.3" rx="1" fill="#fff" stroke="#2b2b2b" stroke-width="1"/><path d="M-5.15 -5.15V5.15M5.15 -5.15V5.15" stroke="#2b2b2b" stroke-width="0.8"/><rect x="-1.6" y="-2.6" width="3.2" height="3.2" fill="#111"/></g>
<g transform="translate(350.9 566.9) rotate(44.5)"><rect x="-18.7" y="-15.8" width="37.4" height="31.6" fill="none" stroke="#2b2b2b" stroke-width="0.9"/><circle cx="-15.2" cy="-12.4" r="1.5" fill="none" stroke="#2b2b2b" stroke-width="0.7"/></g>
<g transform="translate(426.9 567.1) rotate(-44.5)"><rect x="-18.7" y="-15.8" width="37.4" height="31.6" fill="none" stroke="#2b2b2b" stroke-width="0.9"/><circle cx="-15.2" cy="-12.4" r="1.5" fill="none" stroke="#2b2b2b" stroke-width="0.7"/></g>
<g transform="translate(320.82 577.65) rotate(45)" fill="none" stroke="#2b2b2b" stroke-width="0.9"><rect x="-6.7" y="-3.5" width="13.4" height="7" rx="0.35"/><path d="M-3.89 -3.5V3.5M3.89 -3.5V3.5"/></g>
<g transform="translate(339.21 595.79) rotate(45)" fill="none" stroke="#2b2b2b" stroke-width="0.9"><rect x="-6.7" y="-3.5" width="13.4" height="7" rx="0.35"/><path d="M-3.89 -3.5V3.5M3.89 -3.5V3.5"/></g>
<g transform="translate(327.71 606.51) rotate(45)" fill="none" stroke="#2b2b2b" stroke-width="0.9"><rect x="-6.7" y="-3.5" width="13.4" height="7" rx="0.35"/><path d="M-3.89 -3.5V3.5M3.89 -3.5V3.5"/></g>
<g transform="translate(458.42 576.88) rotate(-45)" fill="none" stroke="#2b2b2b" stroke-width="0.9"><rect x="-6.7" y="-3.5" width="13.4" height="7" rx="0.35"/><path d="M-3.89 -3.5V3.5M3.89 -3.5V3.5"/></g>
<g transform="translate(468.63 586.85) rotate(-45)" fill="none" stroke="#2b2b2b" stroke-width="0.9"><rect x="-6.7" y="-3.5" width="13.4" height="7" rx="0.35"/><path d="M-3.89 -3.5V3.5M3.89 -3.5V3.5"/></g>
<g transform="translate(440.28 595.02) rotate(-45)" fill="none" stroke="#2b2b2b" stroke-width="0.9"><rect x="-6.7" y="-3.5" width="13.4" height="7" rx="0.35"/><path d="M-3.89 -3.5V3.5M3.89 -3.5V3.5"/></g>
<g transform="translate(517.42 335.25) rotate(90)"><rect x="-10.25" y="-5.1" width="20.5" height="10.2" rx="1" fill="#fff" stroke="#111" stroke-width="1.3"/><path d="M-5.95 -5.1V5.1M5.95 -5.1V5.1" stroke="#2b2b2b" stroke-width="0.8"/><rect x="-4.5" y="-1.3" width="9" height="2.6" fill="#222"/><path d="M-2.5 -5.1Q0 -1.9 2.5 -5.1M-2.5 5.1Q0 1.9 2.5 5.1" stroke="#2b2b2b" stroke-width="0.7" fill="none"/></g>
<g transform="translate(555.48 328.86)"><rect x="-16" y="-6.4" width="32" height="12.8" rx="1" fill="none" stroke="#2b2b2b" stroke-width="0.9"/><path d="M-13.8 -6.6H15M-13.8 6.6H15" stroke="#2b2b2b" stroke-width="1.5" stroke-dasharray="4.2 3.6" fill="none"/><circle cx="-13" cy="4.2" r="1.3" fill="#2b2b2b"/></g>
<g transform="translate(637.47 330.4)"><rect x="-10.25" y="-5.1" width="20.5" height="10.2" rx="1" fill="#fff" stroke="#111" stroke-width="1.3"/><path d="M-5.95 -5.1V5.1M5.95 -5.1V5.1" stroke="#2b2b2b" stroke-width="0.8"/><rect x="-4.5" y="-1.3" width="9" height="2.6" fill="#222"/><path d="M-2.5 -5.1Q0 -1.9 2.5 -5.1M-2.5 5.1Q0 1.9 2.5 5.1" stroke="#2b2b2b" stroke-width="0.7" fill="none"/></g>
<g transform="translate(534.79 354.41) rotate(90)" fill="none" stroke="#2b2b2b" stroke-width="0.9"><rect x="-6.7" y="-3.5" width="13.4" height="7" rx="0.35"/><path d="M-3.89 -3.5V3.5M3.89 -3.5V3.5"/></g>
<g transform="translate(549.09 354.41) rotate(90)" fill="none" stroke="#2b2b2b" stroke-width="0.9"><rect x="-6.7" y="-3.5" width="13.4" height="7" rx="0.35"/><path d="M-3.89 -3.5V3.5M3.89 -3.5V3.5"/></g>
<g transform="translate(563.91 354.41) rotate(90)" fill="none" stroke="#2b2b2b" stroke-width="0.9"><rect x="-6.7" y="-3.5" width="13.4" height="7" rx="0.35"/><path d="M-3.89 -3.5V3.5M3.89 -3.5V3.5"/></g>
<g transform="translate(578.47 354.41) rotate(90)" fill="none" stroke="#2b2b2b" stroke-width="0.9"><rect x="-6.7" y="-3.5" width="13.4" height="7" rx="0.35"/><path d="M-3.89 -3.5V3.5M3.89 -3.5V3.5"/></g>
<g transform="translate(517.16 365.64) rotate(90)" fill="none" stroke="#2b2b2b" stroke-width="0.9"><rect x="-6.7" y="-3.5" width="13.4" height="7" rx="0.35"/><path d="M-3.89 -3.5V3.5M3.89 -3.5V3.5"/></g>
<rect x="604.58" y="348.16" width="5" height="31.4" fill="none" stroke="#2b2b2b" stroke-width="0.9"/>
<rect x="599.33" y="353.36" width="15.5" height="21" fill="#fff" stroke="#111" stroke-width="2"/>
<g transform="translate(632.87 349.55)" fill="none" stroke="#2b2b2b" stroke-width="0.9"><rect x="-6.7" y="-3.5" width="13.4" height="7" rx="0.35"/><path d="M-3.89 -3.5V3.5M3.89 -3.5V3.5"/></g>
<g transform="translate(632.87 365.9)" fill="none" stroke="#2b2b2b" stroke-width="0.9"><rect x="-6.7" y="-3.5" width="13.4" height="7" rx="0.35"/><path d="M-3.89 -3.5V3.5M3.89 -3.5V3.5"/></g>
<rect x="622.15" y="380.72" width="24.78" height="43.68" rx="1" fill="none" stroke="#2b2b2b" stroke-width="0.9"/>
<line x1="622.15" y1="389.91" x2="646.92" y2="389.91" stroke="#2b2b2b" stroke-width="0.9"/>
<line x1="622.15" y1="392.21" x2="646.92" y2="392.21" stroke="#2b2b2b" stroke-width="0.9"/>
<line x1="622.15" y1="415.45" x2="646.92" y2="415.45" stroke="#2b2b2b" stroke-width="0.9"/>
<g transform="translate(395.07 402.68) rotate(90)" fill="none" stroke="#2b2b2b" stroke-width="0.9"><rect x="-6.7" y="-3.5" width="13.4" height="7" rx="0.35"/><path d="M-3.89 -3.5V3.5M3.89 -3.5V3.5"/></g>
<g transform="translate(440.03 400.89) rotate(90)" fill="none" stroke="#2b2b2b" stroke-width="0.9"><rect x="-6.7" y="-3.5" width="13.4" height="7" rx="0.35"/><path d="M-3.89 -3.5V3.5M3.89 -3.5V3.5"/><path d="M-3.89 -3L3.89 3M-3.89 3L3.89 -3" stroke="#e02020" stroke-width="0.7"/></g>
<g transform="translate(486.77 403.96) rotate(90)" fill="none" stroke="#2b2b2b" stroke-width="0.9"><rect x="-6.7" y="-3.5" width="13.4" height="7" rx="0.35"/><path d="M-3.89 -3.5V3.5M3.89 -3.5V3.5"/><path d="M-3.89 -3L3.89 3M-3.89 3L3.89 -3" stroke="#e02020" stroke-width="0.7"/></g>
<g transform="translate(501.07 403.96) rotate(90)" fill="none" stroke="#2b2b2b" stroke-width="0.9"><rect x="-6.7" y="-3.5" width="13.4" height="7" rx="0.35"/><path d="M-3.89 -3.5V3.5M3.89 -3.5V3.5"/><path d="M-3.89 -3L3.89 3M-3.89 3L3.89 -3" stroke="#e02020" stroke-width="0.7"/></g>
<g transform="translate(411.42 432.82) rotate(90)" fill="none" stroke="#2b2b2b" stroke-width="0.9"><rect x="-6.7" y="-3.5" width="13.4" height="7" rx="0.35"/><path d="M-3.89 -3.5V3.5M3.89 -3.5V3.5"/></g>
<g transform="translate(522.02 405.75)" fill="none" stroke="#2b2b2b" stroke-width="0.9"><rect x="-6.7" y="-3.5" width="13.4" height="7" rx="0.35"/><path d="M-3.89 -3.5V3.5M3.89 -3.5V3.5"/></g>
<g transform="translate(522.02 420.05)" fill="none" stroke="#2b2b2b" stroke-width="0.9"><rect x="-6.7" y="-3.5" width="13.4" height="7" rx="0.35"/><path d="M-3.89 -3.5V3.5M3.89 -3.5V3.5"/></g>
<g transform="translate(522.02 434.61)" fill="none" stroke="#2b2b2b" stroke-width="0.9"><rect x="-6.7" y="-3.5" width="13.4" height="7" rx="0.35"/><path d="M-3.89 -3.5V3.5M3.89 -3.5V3.5"/></g>
<g transform="translate(522.02 449.17)" fill="none" stroke="#2b2b2b" stroke-width="0.9"><rect x="-6.7" y="-3.5" width="13.4" height="7" rx="0.35"/><path d="M-3.89 -3.5V3.5M3.89 -3.5V3.5"/></g>
<g transform="translate(551.14 420.31) rotate(90)"><rect x="-16" y="-6.4" width="32" height="12.8" rx="1" fill="none" stroke="#2b2b2b" stroke-width="0.9"/><path d="M-13.8 -6.6H15M-13.8 6.6H15" stroke="#2b2b2b" stroke-width="1.5" stroke-dasharray="4.2 3.6" fill="none"/><circle cx="13" cy="-4.2" r="1.3" fill="#2b2b2b"/></g>
<g transform="translate(462.76 473.18)" fill="none" stroke="#2b2b2b" stroke-width="0.9"><rect x="-6.7" y="-3.5" width="13.4" height="7" rx="0.35"/><path d="M-3.89 -3.5V3.5M3.89 -3.5V3.5"/></g>
<g transform="translate(425.72 495.66) rotate(90)" fill="none" stroke="#2b2b2b" stroke-width="0.9"><rect x="-6.7" y="-3.5" width="13.4" height="7" rx="0.35"/><path d="M-3.89 -3.5V3.5M3.89 -3.5V3.5"/></g>
<rect x="441.57" y="491.17" width="5.6" height="6.5" fill="none" stroke="#2b2b2b" stroke-width="0.9"/>
<line x1="441.57" y1="492.97" x2="447.17" y2="492.97" stroke="#2b2b2b" stroke-width="0.8"/>
<rect x="453.57" y="491.17" width="5.6" height="6.5" fill="none" stroke="#2b2b2b" stroke-width="0.9"/>
<line x1="453.57" y1="492.97" x2="459.17" y2="492.97" stroke="#2b2b2b" stroke-width="0.8"/>
<rect x="465.57" y="491.17" width="5.6" height="6.5" fill="none" stroke="#2b2b2b" stroke-width="0.9"/>
<line x1="465.57" y1="492.97" x2="471.17" y2="492.97" stroke="#2b2b2b" stroke-width="0.8"/>
<rect x="441.57" y="518.67" width="5.6" height="6.5" fill="none" stroke="#2b2b2b" stroke-width="0.9"/>
<line x1="441.57" y1="523.37" x2="447.17" y2="523.37" stroke="#2b2b2b" stroke-width="0.8"/>
<rect x="465.57" y="518.67" width="5.6" height="6.5" fill="none" stroke="#2b2b2b" stroke-width="0.9"/>
<line x1="465.57" y1="523.37" x2="471.17" y2="523.37" stroke="#2b2b2b" stroke-width="0.8"/>
<rect x="436.72" y="497.67" width="39.3" height="21" rx="1.5" fill="#fff" stroke="#111" stroke-width="2"/>
<g transform="translate(488.3 508.43) rotate(90)" fill="none" stroke="#2b2b2b" stroke-width="0.9"><rect x="-6.7" y="-3.5" width="13.4" height="7" rx="0.35"/><path d="M-3.89 -3.5V3.5M3.89 -3.5V3.5"/></g>
<g transform="translate(488.3 535.76) rotate(90)" fill="none" stroke="#2b2b2b" stroke-width="0.9"><rect x="-6.7" y="-3.5" width="13.4" height="7" rx="0.35"/><path d="M-3.89 -3.5V3.5M3.89 -3.5V3.5"/></g>
<text class="t" dx="-1.04" x="660.2" y="519.16" font-size="23.1" text-anchor="start" fill="#111" font-weight="normal" stroke="#fff" stroke-width="0.22">CAM <tspan class="s" dx="0.4">0</tspan></text>
<g transform="translate(252.11 647.51)" fill="none" stroke="#2b2b2b" stroke-width="0.9"><rect x="-6.7" y="-3.5" width="13.4" height="7" rx="0.35"/><path d="M-3.89 -3.5V3.5M3.89 -3.5V3.5"/></g>
<g transform="translate(198.47 667.43)" fill="none" stroke="#2b2b2b" stroke-width="0.9"><rect x="-6.7" y="-3.5" width="13.4" height="7" rx="0.35"/><path d="M-3.89 -3.5V3.5M3.89 -3.5V3.5"/></g>
<g transform="translate(198.47 686.85)" fill="none" stroke="#2b2b2b" stroke-width="0.9"><rect x="-6.7" y="-3.5" width="13.4" height="7" rx="0.35"/><path d="M-3.89 -3.5V3.5M3.89 -3.5V3.5"/></g>
<g transform="translate(224.78 673.82) rotate(90)" fill="none" stroke="#2b2b2b" stroke-width="0.9"><rect x="-6.7" y="-3.5" width="13.4" height="7" rx="0.35"/><path d="M-3.89 -3.5V3.5M3.89 -3.5V3.5"/></g>
<g transform="translate(224.78 699.36) rotate(90)" fill="none" stroke="#2b2b2b" stroke-width="0.9"><rect x="-6.7" y="-3.5" width="13.4" height="7" rx="0.35"/><path d="M-3.89 -3.5V3.5M3.89 -3.5V3.5"/></g>
<g transform="translate(239.59 673.82) rotate(90)" fill="none" stroke="#2b2b2b" stroke-width="0.9"><rect x="-6.7" y="-3.5" width="13.4" height="7" rx="0.35"/><path d="M-3.89 -3.5V3.5M3.89 -3.5V3.5"/></g>
<g transform="translate(239.59 699.36) rotate(90)" fill="none" stroke="#2b2b2b" stroke-width="0.9"><rect x="-6.7" y="-3.5" width="13.4" height="7" rx="0.35"/><path d="M-3.89 -3.5V3.5M3.89 -3.5V3.5"/></g>
<g transform="translate(254.41 673.82) rotate(90)" fill="none" stroke="#2b2b2b" stroke-width="0.9"><rect x="-6.7" y="-3.5" width="13.4" height="7" rx="0.35"/><path d="M-3.89 -3.5V3.5M3.89 -3.5V3.5"/></g>
<g transform="translate(254.41 699.36) rotate(90)" fill="none" stroke="#2b2b2b" stroke-width="0.9"><rect x="-6.7" y="-3.5" width="13.4" height="7" rx="0.35"/><path d="M-3.89 -3.5V3.5M3.89 -3.5V3.5"/></g>
<g transform="translate(274.84 675.35)" fill="none" stroke="#2b2b2b" stroke-width="0.9"><rect x="-6.7" y="-3.5" width="13.4" height="7" rx="0.35"/><path d="M-3.89 -3.5V3.5M3.89 -3.5V3.5"/></g>
<g transform="translate(274.84 691.19)" fill="none" stroke="#2b2b2b" stroke-width="0.9"><rect x="-6.7" y="-3.5" width="13.4" height="7" rx="0.35"/><path d="M-3.89 -3.5V3.5M3.89 -3.5V3.5"/></g>
<g transform="translate(122.35 699.62) rotate(90)" fill="none" stroke="#2b2b2b" stroke-width="0.9"><rect x="-6.7" y="-3.5" width="13.4" height="7" rx="0.35"/><path d="M-3.89 -3.5V3.5M3.89 -3.5V3.5"/></g>
<rect x="137.51" y="687.06" width="3.4" height="5.4" fill="none" stroke="#2b2b2b" stroke-width="0.9"/>
<line x1="137.51" y1="688.86" x2="140.91" y2="688.86" stroke="#2b2b2b" stroke-width="0.8"/>
<rect x="154.11" y="687.06" width="3.4" height="5.4" fill="none" stroke="#2b2b2b" stroke-width="0.9"/>
<line x1="154.11" y1="688.86" x2="157.51" y2="688.86" stroke="#2b2b2b" stroke-width="0.8"/>
<rect x="137.51" y="708.06" width="3.4" height="5.4" fill="none" stroke="#2b2b2b" stroke-width="0.9"/>
<line x1="137.51" y1="711.66" x2="140.91" y2="711.66" stroke="#2b2b2b" stroke-width="0.8"/>
<rect x="145.81" y="708.06" width="3.4" height="5.4" fill="none" stroke="#2b2b2b" stroke-width="0.9"/>
<line x1="145.81" y1="711.66" x2="149.21" y2="711.66" stroke="#2b2b2b" stroke-width="0.8"/>
<rect x="154.11" y="708.06" width="3.4" height="5.4" fill="none" stroke="#2b2b2b" stroke-width="0.9"/>
<line x1="154.11" y1="711.66" x2="157.51" y2="711.66" stroke="#2b2b2b" stroke-width="0.8"/>
<rect x="134.86" y="692.46" width="25.3" height="15.6" rx="1.5" fill="#fff" stroke="#111" stroke-width="1.6"/>
<g transform="translate(213.03 721.07)" fill="none" stroke="#2b2b2b" stroke-width="0.9"><rect x="-6.7" y="-3.5" width="13.4" height="7" rx="0.35"/><path d="M-3.89 -3.5V3.5M3.89 -3.5V3.5"/></g>
<g transform="translate(135.12 734.61) rotate(90)" fill="none" stroke="#2b2b2b" stroke-width="0.9"><rect x="-6.7" y="-3.5" width="13.4" height="7" rx="0.35"/><path d="M-3.89 -3.5V3.5M3.89 -3.5V3.5"/></g>
<g transform="translate(149.68 734.61) rotate(90)" fill="none" stroke="#2b2b2b" stroke-width="0.9"><rect x="-6.7" y="-3.5" width="13.4" height="7" rx="0.35"/><path d="M-3.89 -3.5V3.5M3.89 -3.5V3.5"/></g>
<g transform="translate(202.55 749.17) rotate(90)" fill="none" stroke="#2b2b2b" stroke-width="0.9"><rect x="-6.7" y="-3.5" width="13.4" height="7" rx="0.35"/><path d="M-3.89 -3.5V3.5M3.89 -3.5V3.5"/></g>
<rect x="214" y="766.5" width="286.6" height="37.5" rx="0.8" fill="none" stroke="#2b2b2b" stroke-width="0.9"/>
<path d="M217.2 770.7 L225.2 770.7 L225.2 772.9 L221.2 773.4 L221.2 797.1 L225.2 797.5 L225.2 799.8 L217.2 799.8 Z" fill="none" stroke="#2b2b2b" stroke-width="0.9"/>
<line x1="217.2" y1="770.7" x2="221.2" y2="773.4" stroke="#2b2b2b" stroke-width="0.7"/>
<line x1="217.2" y1="799.8" x2="221.2" y2="797.1" stroke="#2b2b2b" stroke-width="0.7"/>
<line x1="219.6" y1="772.5" x2="219.6" y2="798" stroke="#2b2b2b" stroke-width="0.6"/>
<line x1="225.2" y1="766.5" x2="225.2" y2="772.9" stroke="#2b2b2b" stroke-width="0.9"/>
<line x1="225.2" y1="804" x2="225.2" y2="797.5" stroke="#2b2b2b" stroke-width="0.9"/>
<path d="M497.4 770.7 L489.4 770.7 L489.4 772.9 L493.4 773.4 L493.4 797.1 L489.4 797.5 L489.4 799.8 L497.4 799.8 Z" fill="none" stroke="#2b2b2b" stroke-width="0.9"/>
<line x1="497.4" y1="770.7" x2="493.4" y2="773.4" stroke="#2b2b2b" stroke-width="0.7"/>
<line x1="497.4" y1="799.8" x2="493.4" y2="797.1" stroke="#2b2b2b" stroke-width="0.7"/>
<line x1="495" y1="772.5" x2="495" y2="798" stroke="#2b2b2b" stroke-width="0.6"/>
<line x1="489.4" y1="766.5" x2="489.4" y2="772.9" stroke="#2b2b2b" stroke-width="0.9"/>
<line x1="489.4" y1="804" x2="489.4" y2="797.5" stroke="#2b2b2b" stroke-width="0.9"/>
<line x1="225.2" y1="772.9" x2="489.4" y2="772.9" stroke="#222" stroke-width="1.4"/>
<line x1="225.2" y1="797.5" x2="489.4" y2="797.5" stroke="#222" stroke-width="1.4"/>
<rect x="229.2" y="779.5" width="256.2" height="11.8" rx="0.6" fill="none" stroke="#222" stroke-width="1.2"/>
<line x1="231.6" y1="779.5" x2="231.6" y2="791.3" stroke="#2b2b2b" stroke-width="0.7"/>
<line x1="483" y1="779.5" x2="483" y2="791.3" stroke="#2b2b2b" stroke-width="0.7"/>
<line x1="231.7" y1="764.9" x2="483" y2="764.9" stroke="#3a3a3a" stroke-width="3.2" stroke-dasharray="2.4 2.68"/>
<line x1="231.7" y1="777.7" x2="483" y2="777.7" stroke="#3a3a3a" stroke-width="3.2" stroke-dasharray="2.4 2.68"/>
<line x1="231.7" y1="793.1" x2="483" y2="793.1" stroke="#3a3a3a" stroke-width="3.2" stroke-dasharray="2.4 2.68"/>
<line x1="231.7" y1="805.6" x2="483" y2="805.6" stroke="#3a3a3a" stroke-width="3.2" stroke-dasharray="2.4 2.68"/>
<rect x="39.6" y="833.5" width="104.49" height="53.7" fill="none" stroke="#2b2b2b" stroke-width="0.9"/>
<rect x="63.24" y="838.4" width="57.2" height="17.9" fill="none" stroke="#2b2b2b" stroke-width="0.9"/>
<rect x="76.25" y="851.2" width="31.2" height="5.1" fill="none" stroke="#2b2b2b" stroke-width="0.9"/>
<path d="M52.4 853.7 L58.9 853.7 L58.9 859.8 L124.79 859.8 L124.79 853.7 L131.29 853.7 L131.29 880.1 L52.4 880.1 Z" fill="#fff" stroke="#2b2b2b" stroke-width="0.9"/>
<rect x="39.6" y="862.4" width="6.6" height="24.8" fill="none" stroke="#2b2b2b" stroke-width="0.9"/>
<line x1="39.6" y1="880.1" x2="46.2" y2="880.1" stroke="#2b2b2b" stroke-width="0.9"/>
<rect x="137.49" y="862.4" width="6.6" height="24.8" fill="none" stroke="#2b2b2b" stroke-width="0.9"/>
<line x1="137.49" y1="880.1" x2="144.09" y2="880.1" stroke="#2b2b2b" stroke-width="0.9"/>
<rect x="66.7" y="887.2" width="2.8" height="8.6" fill="none" stroke="#2b2b2b" stroke-width="0.9"/>
<rect x="82.53" y="887.2" width="2.8" height="8.6" fill="none" stroke="#2b2b2b" stroke-width="0.9"/>
<rect x="98.36" y="887.2" width="2.8" height="8.6" fill="none" stroke="#2b2b2b" stroke-width="0.9"/>
<rect x="114.19" y="887.2" width="2.8" height="8.6" fill="none" stroke="#2b2b2b" stroke-width="0.9"/>
<text class="t" dx="-1.04" x="266.41" y="875.35" font-size="23.1" text-anchor="start" fill="#111" font-weight="normal" stroke="#fff" stroke-width="0.22">ETH</text>
<rect x="315.7" y="835" width="104.49" height="53.7" fill="none" stroke="#2b2b2b" stroke-width="0.9"/>
<rect x="339.34" y="839.9" width="57.2" height="17.9" fill="none" stroke="#2b2b2b" stroke-width="0.9"/>
<rect x="352.34" y="852.7" width="31.2" height="5.1" fill="none" stroke="#2b2b2b" stroke-width="0.9"/>
<path d="M328.5 855.2 L335 855.2 L335 861.3 L400.89 861.3 L400.89 855.2 L407.39 855.2 L407.39 881.6 L328.5 881.6 Z" fill="#fff" stroke="#2b2b2b" stroke-width="0.9"/>
<rect x="315.7" y="863.9" width="6.6" height="24.8" fill="none" stroke="#2b2b2b" stroke-width="0.9"/>
<line x1="315.7" y1="881.6" x2="322.3" y2="881.6" stroke="#2b2b2b" stroke-width="0.9"/>
<rect x="413.59" y="863.9" width="6.6" height="24.8" fill="none" stroke="#2b2b2b" stroke-width="0.9"/>
<line x1="413.59" y1="881.6" x2="420.19" y2="881.6" stroke="#2b2b2b" stroke-width="0.9"/>
<rect x="342.8" y="888.7" width="2.8" height="8.6" fill="none" stroke="#2b2b2b" stroke-width="0.9"/>
<rect x="358.63" y="888.7" width="2.8" height="8.6" fill="none" stroke="#2b2b2b" stroke-width="0.9"/>
<rect x="374.46" y="888.7" width="2.8" height="8.6" fill="none" stroke="#2b2b2b" stroke-width="0.9"/>
<rect x="390.29" y="888.7" width="2.8" height="8.6" fill="none" stroke="#2b2b2b" stroke-width="0.9"/>
<g transform="translate(537.85 686.85) rotate(90)" fill="none" stroke="#2b2b2b" stroke-width="0.9"><rect x="-6.7" y="-3.5" width="13.4" height="7" rx="0.35"/><path d="M-3.89 -3.5V3.5M3.89 -3.5V3.5"/></g>
<rect x="552.67" y="668.97" width="25.8" height="31.93" fill="none" stroke="#2b2b2b" stroke-width="0.9"/>
<g transform="translate(597.62 684.8)" fill="none" stroke="#2b2b2b" stroke-width="0.9"><rect x="-6.7" y="-3.5" width="13.4" height="7" rx="0.35"/><path d="M-3.89 -3.5V3.5M3.89 -3.5V3.5"/></g>
<g transform="translate(597.62 699.36)" fill="none" stroke="#2b2b2b" stroke-width="0.9"><rect x="-6.7" y="-3.5" width="13.4" height="7" rx="0.35"/><path d="M-3.89 -3.5V3.5M3.89 -3.5V3.5"/></g>
<g transform="translate(640.54 688.12) rotate(90)" fill="none" stroke="#2b2b2b" stroke-width="0.9"><rect x="-6.7" y="-3.5" width="13.4" height="7" rx="0.35"/><path d="M-3.89 -3.5V3.5M3.89 -3.5V3.5"/></g>
<rect x="657.91" y="688.63" width="20.18" height="11.75" rx="1" fill="none" stroke="#111" stroke-width="1.8"/>
<rect x="539.64" y="701.4" width="6.9" height="6.9" fill="none" stroke="#2b2b2b" stroke-width="0.8"/>
<g transform="translate(529.94 714.18) rotate(90)" fill="none" stroke="#2b2b2b" stroke-width="0.9"><rect x="-6.7" y="-3.5" width="13.4" height="7" rx="0.35"/><path d="M-3.89 -3.5V3.5M3.89 -3.5V3.5"/></g>
<g transform="translate(648.71 713.67)" fill="none" stroke="#2b2b2b" stroke-width="0.9"><rect x="-6.7" y="-3.5" width="13.4" height="7" rx="0.35"/><path d="M-3.89 -3.5V3.5M3.89 -3.5V3.5"/></g>
<g transform="translate(473.74 723.63) rotate(90)" fill="none" stroke="#2b2b2b" stroke-width="0.9"><rect x="-6.7" y="-3.5" width="13.4" height="7" rx="0.35"/><path d="M-3.89 -3.5V3.5M3.89 -3.5V3.5"/></g>
<rect x="486.26" y="717.5" width="23.5" height="18.39" rx="1.2" fill="none" stroke="#2b2b2b" stroke-width="0.9"/>
<line x1="488.56" y1="717.5" x2="507.71" y2="717.5" stroke="#2b2b2b" stroke-width="1.3" stroke-dasharray="4 3.5"/>
<line x1="488.56" y1="735.89" x2="507.71" y2="735.89" stroke="#2b2b2b" stroke-width="1.3" stroke-dasharray="4 3.5"/>
<line x1="486.26" y1="720.05" x2="486.26" y2="733.84" stroke="#2b2b2b" stroke-width="1.3" stroke-dasharray="4 3.5"/>
<line x1="509.76" y1="720.05" x2="509.76" y2="733.84" stroke="#2b2b2b" stroke-width="1.3" stroke-dasharray="4 3.5"/>
<circle cx="488.56" cy="733.33" r="1.02" fill="none" stroke="#2b2b2b" stroke-width="0.7"/>
<rect x="550.63" y="717.5" width="64.88" height="64.62" fill="none" stroke="#2b2b2b" stroke-width="0.9"/>
<circle cx="561.35" cy="728.48" r="4.09" fill="none" stroke="#2b2b2b" stroke-width="0.9"/>
<g transform="translate(528.4 741.25)" fill="none" stroke="#2b2b2b" stroke-width="0.9"><rect x="-6.7" y="-3.5" width="13.4" height="7" rx="0.35"/><path d="M-3.89 -3.5V3.5M3.89 -3.5V3.5"/></g>
<g transform="translate(637.47 739.46)" fill="none" stroke="#2b2b2b" stroke-width="0.9"><rect x="-6.7" y="-3.5" width="13.4" height="7" rx="0.35"/><path d="M-3.89 -3.5V3.5M3.89 -3.5V3.5"/></g>
<g transform="translate(528.4 769.86)" fill="none" stroke="#2b2b2b" stroke-width="0.9"><rect x="-6.7" y="-3.5" width="13.4" height="7" rx="0.35"/><path d="M-3.89 -3.5V3.5M3.89 -3.5V3.5"/></g>
<g transform="translate(528.4 784.42)" fill="none" stroke="#2b2b2b" stroke-width="0.9"><rect x="-6.7" y="-3.5" width="13.4" height="7" rx="0.35"/><path d="M-3.89 -3.5V3.5M3.89 -3.5V3.5"/></g>
<g transform="translate(528.4 798.98)" fill="none" stroke="#2b2b2b" stroke-width="0.9"><rect x="-6.7" y="-3.5" width="13.4" height="7" rx="0.35"/><path d="M-3.89 -3.5V3.5M3.89 -3.5V3.5"/><path d="M-3.89 -3L3.89 3M-3.89 3L3.89 -3" stroke="#e02020" stroke-width="0.7"/></g>
<g transform="translate(528.4 813.28)" fill="none" stroke="#2b2b2b" stroke-width="0.9"><rect x="-6.7" y="-3.5" width="13.4" height="7" rx="0.35"/><path d="M-3.89 -3.5V3.5M3.89 -3.5V3.5"/></g>
<rect x="751.6" y="399.2" width="10.3" height="333.2" fill="none" stroke="#2b2b2b" stroke-width="0.9"/>
<line x1="751.6" y1="528.2" x2="761.9" y2="528.2" stroke="#2b2b2b" stroke-width="0.8"/>
<path d="M755 414.5 L758.4 412.6 L758.4 416.4 Z" fill="none" stroke="#2b2b2b" stroke-width="0.7"/>
<path d="M755 720 L758.4 718.1 L758.4 721.9 Z" fill="none" stroke="#2b2b2b" stroke-width="0.7"/>
<rect x="743" y="407" width="8.2" height="23" fill="none" stroke="#2b2b2b" stroke-width="0.8"/>
<path d="M747.1 432.8V534.7" stroke="#444" stroke-width="8.2" stroke-dasharray="0.8 2.37" fill="none"/>
<line x1="743" y1="432.8" x2="743" y2="534.7" stroke="#2b2b2b" stroke-width="0.7"/>
<line x1="751.2" y1="432.8" x2="751.2" y2="534.7" stroke="#2b2b2b" stroke-width="0.7"/>
<rect x="737.4" y="535.5" width="14" height="189.5" fill="#fff"/>
<path d="M742.9 559.2V699.5" stroke="#444" stroke-width="17" stroke-dasharray="0.8 2.37" fill="none"/>
<line x1="734.4" y1="559.2" x2="734.4" y2="699.5" stroke="#2b2b2b" stroke-width="0.7"/>
<line x1="751.4" y1="559.2" x2="751.4" y2="699.5" stroke="#2b2b2b" stroke-width="0.7"/>
<line x1="736.6" y1="535.5" x2="736.6" y2="725" stroke="#111" stroke-width="1.6"/>
<rect x="737.4" y="540" width="12.9" height="19" fill="none" stroke="#2b2b2b" stroke-width="0.8"/>
<rect x="737.4" y="700.5" width="12.9" height="20" fill="none" stroke="#2b2b2b" stroke-width="0.8"/>
<path d="M748 541 L750.3 545 L750.3 559" fill="none" stroke="#2b2b2b" stroke-width="0.6"/>
<path d="M748 719.5 L750.3 715.5 L750.3 700.5" fill="none" stroke="#2b2b2b" stroke-width="0.6"/>
<line x1="737.4" y1="535.5" x2="751.6" y2="535.5" stroke="#2b2b2b" stroke-width="0.8"/>
<line x1="737.4" y1="725" x2="751.6" y2="725" stroke="#2b2b2b" stroke-width="0.8"/>
<path d="M703.8 535.5 L734.8 535.5 L734.8 725 L703.8 725 L703.8 703.5 L705.6 703.5 L705.6 556 L703.8 556 Z" fill="#fff" stroke="#2b2b2b" stroke-width="0.9"/>
<rect x="703.8" y="528.2" width="10.6" height="7.3" fill="none" stroke="#2b2b2b" stroke-width="0.9"/>
<rect x="716.6" y="524.6" width="17.3" height="10.9" fill="none" stroke="#2b2b2b" stroke-width="0.9"/>
<path d="M719.5 535.5 L719.5 528 L723.3 528 L723.3 535.5" fill="none" stroke="#2b2b2b" stroke-width="0.8"/>
<path d="M727.2 535.5 L727.2 528 L731 528 L731 535.5" fill="none" stroke="#2b2b2b" stroke-width="0.8"/>
<rect x="703.8" y="725" width="10.6" height="7.3" fill="none" stroke="#2b2b2b" stroke-width="0.9"/>
<rect x="716.6" y="725" width="17.3" height="11" fill="none" stroke="#2b2b2b" stroke-width="0.9"/>
<path d="M719.5 725 L719.5 732.5 L723.3 732.5 L723.3 725" fill="none" stroke="#2b2b2b" stroke-width="0.8"/>
<path d="M727.2 725 L727.2 732.5 L731 732.5 L731 725" fill="none" stroke="#2b2b2b" stroke-width="0.8"/>
<rect x="718" y="552.4" width="10.8" height="2.8" rx="1.2" fill="#bbb" stroke="#2b2b2b" stroke-width="0.8"/>
<rect x="718" y="705.6" width="10.8" height="2.7" rx="1.2" fill="#bbb" stroke="#2b2b2b" stroke-width="0.8"/>
<line x1="733.6" y1="535.5" x2="733.6" y2="725" stroke="#2b2b2b" stroke-width="0.7"/>
<rect x="705.6" y="556" width="3.7" height="147.5" fill="none" stroke="#2b2b2b" stroke-width="0.8"/>
<rect x="694.1" y="561.9" width="11.5" height="3.8" fill="#fff" stroke="#2b2b2b" stroke-width="0.9"/>
<line x1="697.6" y1="561.9" x2="697.6" y2="565.7" stroke="#2b2b2b" stroke-width="0.8"/>
<line x1="701.4" y1="561.9" x2="701.4" y2="565.7" stroke="#2b2b2b" stroke-width="0.8"/>
<rect x="705.6" y="562.8" width="2.8" height="3.6" fill="none" stroke="#2b2b2b" stroke-width="0.7"/>
<rect x="694.1" y="568.22" width="11.5" height="3.8" fill="#fff" stroke="#2b2b2b" stroke-width="0.9"/>
<line x1="697.6" y1="568.22" x2="697.6" y2="572.02" stroke="#2b2b2b" stroke-width="0.8"/>
<line x1="701.4" y1="568.22" x2="701.4" y2="572.02" stroke="#2b2b2b" stroke-width="0.8"/>
<rect x="705.6" y="569.12" width="2.8" height="3.6" fill="none" stroke="#2b2b2b" stroke-width="0.7"/>
<rect x="694.1" y="574.54" width="11.5" height="3.8" fill="#fff" stroke="#2b2b2b" stroke-width="0.9"/>
<line x1="697.6" y1="574.54" x2="697.6" y2="578.34" stroke="#2b2b2b" stroke-width="0.8"/>
<line x1="701.4" y1="574.54" x2="701.4" y2="578.34" stroke="#2b2b2b" stroke-width="0.8"/>
<rect x="705.6" y="575.44" width="2.8" height="3.6" fill="none" stroke="#2b2b2b" stroke-width="0.7"/>
<rect x="694.1" y="580.86" width="11.5" height="3.8" fill="#fff" stroke="#2b2b2b" stroke-width="0.9"/>
<line x1="697.6" y1="580.86" x2="697.6" y2="584.66" stroke="#2b2b2b" stroke-width="0.8"/>
<line x1="701.4" y1="580.86" x2="701.4" y2="584.66" stroke="#2b2b2b" stroke-width="0.8"/>
<rect x="705.6" y="581.76" width="2.8" height="3.6" fill="none" stroke="#2b2b2b" stroke-width="0.7"/>
<rect x="694.1" y="587.18" width="11.5" height="3.8" fill="#fff" stroke="#2b2b2b" stroke-width="0.9"/>
<line x1="697.6" y1="587.18" x2="697.6" y2="590.98" stroke="#2b2b2b" stroke-width="0.8"/>
<line x1="701.4" y1="587.18" x2="701.4" y2="590.98" stroke="#2b2b2b" stroke-width="0.8"/>
<rect x="705.6" y="588.08" width="2.8" height="3.6" fill="none" stroke="#2b2b2b" stroke-width="0.7"/>
<rect x="694.1" y="593.5" width="11.5" height="3.8" fill="#fff" stroke="#2b2b2b" stroke-width="0.9"/>
<line x1="697.6" y1="593.5" x2="697.6" y2="597.3" stroke="#2b2b2b" stroke-width="0.8"/>
<line x1="701.4" y1="593.5" x2="701.4" y2="597.3" stroke="#2b2b2b" stroke-width="0.8"/>
<rect x="705.6" y="594.4" width="2.8" height="3.6" fill="none" stroke="#2b2b2b" stroke-width="0.7"/>
<rect x="694.1" y="599.82" width="11.5" height="3.8" fill="#fff" stroke="#2b2b2b" stroke-width="0.9"/>
<line x1="697.6" y1="599.82" x2="697.6" y2="603.62" stroke="#2b2b2b" stroke-width="0.8"/>
<line x1="701.4" y1="599.82" x2="701.4" y2="603.62" stroke="#2b2b2b" stroke-width="0.8"/>
<rect x="705.6" y="600.72" width="2.8" height="3.6" fill="none" stroke="#2b2b2b" stroke-width="0.7"/>
<rect x="694.1" y="606.14" width="11.5" height="3.8" fill="#fff" stroke="#2b2b2b" stroke-width="0.9"/>
<line x1="697.6" y1="606.14" x2="697.6" y2="609.94" stroke="#2b2b2b" stroke-width="0.8"/>
<line x1="701.4" y1="606.14" x2="701.4" y2="609.94" stroke="#2b2b2b" stroke-width="0.8"/>
<rect x="705.6" y="607.04" width="2.8" height="3.6" fill="none" stroke="#2b2b2b" stroke-width="0.7"/>
<rect x="694.1" y="612.46" width="11.5" height="3.8" fill="#fff" stroke="#2b2b2b" stroke-width="0.9"/>
<line x1="697.6" y1="612.46" x2="697.6" y2="616.26" stroke="#2b2b2b" stroke-width="0.8"/>
<line x1="701.4" y1="612.46" x2="701.4" y2="616.26" stroke="#2b2b2b" stroke-width="0.8"/>
<rect x="705.6" y="613.36" width="2.8" height="3.6" fill="none" stroke="#2b2b2b" stroke-width="0.7"/>
<rect x="694.1" y="618.78" width="11.5" height="3.8" fill="#fff" stroke="#2b2b2b" stroke-width="0.9"/>
<line x1="697.6" y1="618.78" x2="697.6" y2="622.58" stroke="#2b2b2b" stroke-width="0.8"/>
<line x1="701.4" y1="618.78" x2="701.4" y2="622.58" stroke="#2b2b2b" stroke-width="0.8"/>
<rect x="705.6" y="619.68" width="2.8" height="3.6" fill="none" stroke="#2b2b2b" stroke-width="0.7"/>
<rect x="694.1" y="625.1" width="11.5" height="3.8" fill="#fff" stroke="#2b2b2b" stroke-width="0.9"/>
<line x1="697.6" y1="625.1" x2="697.6" y2="628.9" stroke="#2b2b2b" stroke-width="0.8"/>
<line x1="701.4" y1="625.1" x2="701.4" y2="628.9" stroke="#2b2b2b" stroke-width="0.8"/>
<rect x="705.6" y="626" width="2.8" height="3.6" fill="none" stroke="#2b2b2b" stroke-width="0.7"/>
<rect x="694.1" y="631.42" width="11.5" height="3.8" fill="#fff" stroke="#2b2b2b" stroke-width="0.9"/>
<line x1="697.6" y1="631.42" x2="697.6" y2="635.22" stroke="#2b2b2b" stroke-width="0.8"/>
<line x1="701.4" y1="631.42" x2="701.4" y2="635.22" stroke="#2b2b2b" stroke-width="0.8"/>
<rect x="705.6" y="632.32" width="2.8" height="3.6" fill="none" stroke="#2b2b2b" stroke-width="0.7"/>
<rect x="694.1" y="637.74" width="11.5" height="3.8" fill="#fff" stroke="#2b2b2b" stroke-width="0.9"/>
<line x1="697.6" y1="637.74" x2="697.6" y2="641.54" stroke="#2b2b2b" stroke-width="0.8"/>
<line x1="701.4" y1="637.74" x2="701.4" y2="641.54" stroke="#2b2b2b" stroke-width="0.8"/>
<rect x="705.6" y="638.64" width="2.8" height="3.6" fill="none" stroke="#2b2b2b" stroke-width="0.7"/>
<rect x="694.1" y="644.06" width="11.5" height="3.8" fill="#fff" stroke="#2b2b2b" stroke-width="0.9"/>
<line x1="697.6" y1="644.06" x2="697.6" y2="647.86" stroke="#2b2b2b" stroke-width="0.8"/>
<line x1="701.4" y1="644.06" x2="701.4" y2="647.86" stroke="#2b2b2b" stroke-width="0.8"/>
<rect x="705.6" y="644.96" width="2.8" height="3.6" fill="none" stroke="#2b2b2b" stroke-width="0.7"/>
<rect x="694.1" y="650.38" width="11.5" height="3.8" fill="#fff" stroke="#2b2b2b" stroke-width="0.9"/>
<line x1="697.6" y1="650.38" x2="697.6" y2="654.18" stroke="#2b2b2b" stroke-width="0.8"/>
<line x1="701.4" y1="650.38" x2="701.4" y2="654.18" stroke="#2b2b2b" stroke-width="0.8"/>
<rect x="705.6" y="651.28" width="2.8" height="3.6" fill="none" stroke="#2b2b2b" stroke-width="0.7"/>
<rect x="694.1" y="656.7" width="11.5" height="3.8" fill="#fff" stroke="#2b2b2b" stroke-width="0.9"/>
<line x1="697.6" y1="656.7" x2="697.6" y2="660.5" stroke="#2b2b2b" stroke-width="0.8"/>
<line x1="701.4" y1="656.7" x2="701.4" y2="660.5" stroke="#2b2b2b" stroke-width="0.8"/>
<rect x="705.6" y="657.6" width="2.8" height="3.6" fill="none" stroke="#2b2b2b" stroke-width="0.7"/>
<rect x="694.1" y="663.02" width="11.5" height="3.8" fill="#fff" stroke="#2b2b2b" stroke-width="0.9"/>
<line x1="697.6" y1="663.02" x2="697.6" y2="666.82" stroke="#2b2b2b" stroke-width="0.8"/>
<line x1="701.4" y1="663.02" x2="701.4" y2="666.82" stroke="#2b2b2b" stroke-width="0.8"/>
<rect x="705.6" y="663.92" width="2.8" height="3.6" fill="none" stroke="#2b2b2b" stroke-width="0.7"/>
<rect x="694.1" y="669.34" width="11.5" height="3.8" fill="#fff" stroke="#2b2b2b" stroke-width="0.9"/>
<line x1="697.6" y1="669.34" x2="697.6" y2="673.14" stroke="#2b2b2b" stroke-width="0.8"/>
<line x1="701.4" y1="669.34" x2="701.4" y2="673.14" stroke="#2b2b2b" stroke-width="0.8"/>
<rect x="705.6" y="670.24" width="2.8" height="3.6" fill="none" stroke="#2b2b2b" stroke-width="0.7"/>
<rect x="694.1" y="675.66" width="11.5" height="3.8" fill="#fff" stroke="#2b2b2b" stroke-width="0.9"/>
<line x1="697.6" y1="675.66" x2="697.6" y2="679.46" stroke="#2b2b2b" stroke-width="0.8"/>
<line x1="701.4" y1="675.66" x2="701.4" y2="679.46" stroke="#2b2b2b" stroke-width="0.8"/>
<rect x="705.6" y="676.56" width="2.8" height="3.6" fill="none" stroke="#2b2b2b" stroke-width="0.7"/>
<rect x="694.1" y="681.98" width="11.5" height="3.8" fill="#fff" stroke="#2b2b2b" stroke-width="0.9"/>
<line x1="697.6" y1="681.98" x2="697.6" y2="685.78" stroke="#2b2b2b" stroke-width="0.8"/>
<line x1="701.4" y1="681.98" x2="701.4" y2="685.78" stroke="#2b2b2b" stroke-width="0.8"/>
<rect x="705.6" y="682.88" width="2.8" height="3.6" fill="none" stroke="#2b2b2b" stroke-width="0.7"/>
<rect x="694.1" y="688.3" width="11.5" height="3.8" fill="#fff" stroke="#2b2b2b" stroke-width="0.9"/>
<line x1="697.6" y1="688.3" x2="697.6" y2="692.1" stroke="#2b2b2b" stroke-width="0.8"/>
<line x1="701.4" y1="688.3" x2="701.4" y2="692.1" stroke="#2b2b2b" stroke-width="0.8"/>
<rect x="705.6" y="689.2" width="2.8" height="3.6" fill="none" stroke="#2b2b2b" stroke-width="0.7"/>
<rect x="694.1" y="694.62" width="11.5" height="3.8" fill="#fff" stroke="#2b2b2b" stroke-width="0.9"/>
<line x1="697.6" y1="694.62" x2="697.6" y2="698.42" stroke="#2b2b2b" stroke-width="0.8"/>
<line x1="701.4" y1="694.62" x2="701.4" y2="698.42" stroke="#2b2b2b" stroke-width="0.8"/>
<rect x="705.6" y="695.52" width="2.8" height="3.6" fill="none" stroke="#2b2b2b" stroke-width="0.7"/>
<text class="s" x="698.6" y="558.3" font-size="8.5" text-anchor="start" fill="#111" font-weight="normal">1</text>
<text class="s" x="690" y="718.5" font-size="10" text-anchor="start" fill="#111" font-weight="normal">22</text>
<g transform="translate(668.2 584.1) rotate(90)"><rect x="-16.1" y="-6.75" width="32.2" height="13.5" rx="1" fill="none" stroke="#2b2b2b" stroke-width="0.9"/><path d="M-13.9 -6.95H15.1M-13.9 6.95H15.1" stroke="#2b2b2b" stroke-width="1.5" stroke-dasharray="4.2 3.6" fill="none"/><circle cx="-13.1" cy="4.55" r="1.3" fill="#2b2b2b"/></g>
<g transform="translate(668.2 620.7) rotate(90)"><rect x="-16" y="-6.75" width="32" height="13.5" rx="1" fill="none" stroke="#2b2b2b" stroke-width="0.9"/><path d="M-13.8 -6.95H15M-13.8 6.95H15" stroke="#2b2b2b" stroke-width="1.5" stroke-dasharray="4.2 3.6" fill="none"/><circle cx="-13" cy="4.55" r="1.3" fill="#2b2b2b"/></g>
<rect x="657.9" y="689" width="20.4" height="11.5" rx="1" fill="none" stroke="#111" stroke-width="1.8"/>
<rect x="451.24" y="832.26" width="74.17" height="129.14" fill="none" stroke="#2b2b2b" stroke-width="0.9"/>
<line x1="506.41" y1="832.26" x2="506.41" y2="880.69" stroke="#2b2b2b" stroke-width="0.9"/>
<line x1="513.56" y1="832.26" x2="513.56" y2="880.69" stroke="#2b2b2b" stroke-width="0.9"/>
<line x1="506.41" y1="944.64" x2="506.41" y2="961.4" stroke="#2b2b2b" stroke-width="0.9"/>
<line x1="513.56" y1="944.64" x2="513.56" y2="961.4" stroke="#2b2b2b" stroke-width="0.9"/>
<rect x="500.89" y="880.69" width="24.52" height="63.96" fill="none" stroke="#2b2b2b" stroke-width="0.9"/>
<line x1="510.49" y1="880.69" x2="510.49" y2="944.64" stroke="#2b2b2b" stroke-width="0.9"/>
<circle cx="455.94" cy="880.69" r="7.36" fill="none" stroke="#2b2b2b" stroke-width="0.9"/>
<circle cx="483.52" cy="848.61" r="6.1" fill="none" stroke="#2b2b2b" stroke-width="0.9"/>
<circle cx="483.52" cy="848.61" r="4.4" fill="none" stroke="#2b2b2b" stroke-width="0.8"/>
<rect x="481.32" y="846.41" width="4.4" height="4.4" fill="none" stroke="#2b2b2b" stroke-width="0.8"/>
<line x1="480.44" y1="845.53" x2="486.6" y2="851.69" stroke="#2b2b2b" stroke-width="0.7"/>
<line x1="480.44" y1="851.69" x2="486.6" y2="845.53" stroke="#2b2b2b" stroke-width="0.7"/>
<circle cx="483.52" cy="880.69" r="6.1" fill="none" stroke="#2b2b2b" stroke-width="0.9"/>
<circle cx="483.52" cy="880.69" r="4.4" fill="none" stroke="#2b2b2b" stroke-width="0.8"/>
<rect x="481.32" y="878.49" width="4.4" height="4.4" fill="none" stroke="#2b2b2b" stroke-width="0.8"/>
<line x1="480.44" y1="877.61" x2="486.6" y2="883.77" stroke="#2b2b2b" stroke-width="0.7"/>
<line x1="480.44" y1="883.77" x2="486.6" y2="877.61" stroke="#2b2b2b" stroke-width="0.7"/>
<circle cx="483.52" cy="912.56" r="6.1" fill="none" stroke="#2b2b2b" stroke-width="0.9"/>
<circle cx="483.52" cy="912.56" r="4.4" fill="none" stroke="#2b2b2b" stroke-width="0.8"/>
<rect x="481.32" y="910.36" width="4.4" height="4.4" fill="none" stroke="#2b2b2b" stroke-width="0.8"/>
<line x1="480.44" y1="909.48" x2="486.6" y2="915.64" stroke="#2b2b2b" stroke-width="0.7"/>
<line x1="480.44" y1="915.64" x2="486.6" y2="909.48" stroke="#2b2b2b" stroke-width="0.7"/>
<circle cx="483.52" cy="944.64" r="6.1" fill="none" stroke="#2b2b2b" stroke-width="0.9"/>
<circle cx="483.52" cy="944.64" r="4.4" fill="none" stroke="#2b2b2b" stroke-width="0.8"/>
<rect x="481.32" y="942.44" width="4.4" height="4.4" fill="none" stroke="#2b2b2b" stroke-width="0.8"/>
<line x1="480.44" y1="941.56" x2="486.6" y2="947.72" stroke="#2b2b2b" stroke-width="0.7"/>
<line x1="480.44" y1="947.72" x2="486.6" y2="941.56" stroke="#2b2b2b" stroke-width="0.7"/>
<rect x="643.3" y="835.9" width="22.5" height="10.9" rx="3" fill="none" stroke="#2b2b2b" stroke-width="0.9"/>
<rect x="645.7" y="838" width="17.7" height="8.8" rx="1.5" fill="none" stroke="#2b2b2b" stroke-width="0.8"/>
<line x1="646.3" y1="841.5" x2="662.8" y2="841.5" stroke="#2b2b2b" stroke-width="0.7"/>
<rect x="716.3" y="835.9" width="22.4" height="10.9" rx="3" fill="none" stroke="#2b2b2b" stroke-width="0.9"/>
<rect x="718.7" y="838" width="17.6" height="8.8" rx="1.5" fill="none" stroke="#2b2b2b" stroke-width="0.8"/>
<line x1="719.3" y1="841.5" x2="735.7" y2="841.5" stroke="#2b2b2b" stroke-width="0.7"/>
<path d="M643 840 L640.2 846 L640.2 852" fill="none" stroke="#2b2b2b" stroke-width="0.8"/>
<path d="M739 840 L741.7 846 L741.7 852" fill="none" stroke="#2b2b2b" stroke-width="0.8"/>
<path d="M665.8 846.6V834.6Q665.8 828.6 671.8 828.6H710.3Q716.3 828.6 716.3 834.6V846.6" fill="#fff" stroke="#2b2b2b" stroke-width="0.9"/>
<path d="M665.8 846.6H647.8Q639.8 846.6 639.8 854.6V877.4Q639.8 885.4 647.8 885.4H733.8Q741.8 885.4 741.8 877.4V854.6Q741.8 846.6 733.8 846.6H716.3" fill="#fff" stroke="#2b2b2b" stroke-width="0.9"/>
<rect x="666.3" y="840" width="49.5" height="10" fill="#fff"/>
<text class="t" dx="-1.06" x="658.23" y="938.51" font-size="23.6" text-anchor="start" fill="#111" font-weight="normal" stroke="#fff" stroke-width="0.22" transform="rotate(-90 658.23 938.51)">PROG</text>
<text class="t" dx="-1.04" x="682.75" y="984.49" font-size="23.1" text-anchor="start" fill="#111" font-weight="normal" stroke="#fff" stroke-width="0.22" transform="rotate(-90 682.75 984.49)">BOOT</text>
<path d="M676 894H703.35L706.35 896.6L709.35 894H736.7V925.8H709.35L706.35 923.2L703.35 925.8H676Z" fill="none" stroke="#2b2b2b" stroke-width="0.9"/>
<line x1="676" y1="896" x2="736.7" y2="896" stroke="#2b2b2b" stroke-width="0.7"/>
<line x1="676" y1="923.8" x2="736.7" y2="923.8" stroke="#2b2b2b" stroke-width="0.7"/>
<line x1="681.8" y1="894" x2="681.8" y2="925.8" stroke="#2b2b2b" stroke-width="0.8"/>
<line x1="699.8" y1="894" x2="699.8" y2="925.8" stroke="#2b2b2b" stroke-width="0.8"/>
<path d="M693.3 894V898Q693.3 902 697.3 903.5" fill="none" stroke="#2b2b2b" stroke-width="0.7"/>
<path d="M687.3 925.8V921.8Q687.3 917.8 683.3 915.5" fill="none" stroke="#2b2b2b" stroke-width="0.7"/>
<circle cx="690.3" cy="909.5" r="9.2" fill="#fff" stroke="#2b2b2b" stroke-width="0.9"/>
<circle cx="690.3" cy="909.5" r="5.7" fill="none" stroke="#2b2b2b" stroke-width="0.8"/>
<rect x="687.8" y="907" width="5" height="5" fill="none" stroke="#2b2b2b" stroke-width="0.8"/>
<line x1="686.3" y1="905.5" x2="694.3" y2="913.5" stroke="#2b2b2b" stroke-width="0.6"/>
<line x1="686.3" y1="913.5" x2="694.3" y2="905.5" stroke="#2b2b2b" stroke-width="0.6"/>
<line x1="714.1" y1="894" x2="714.1" y2="925.8" stroke="#2b2b2b" stroke-width="0.8"/>
<line x1="732.1" y1="894" x2="732.1" y2="925.8" stroke="#2b2b2b" stroke-width="0.8"/>
<path d="M725.6 894V898Q725.6 902 729.6 903.5" fill="none" stroke="#2b2b2b" stroke-width="0.7"/>
<path d="M719.6 925.8V921.8Q719.6 917.8 715.6 915.5" fill="none" stroke="#2b2b2b" stroke-width="0.7"/>
<circle cx="722.6" cy="909.5" r="9.2" fill="#fff" stroke="#2b2b2b" stroke-width="0.9"/>
<circle cx="722.6" cy="909.5" r="5.7" fill="none" stroke="#2b2b2b" stroke-width="0.8"/>
<rect x="720.1" y="907" width="5" height="5" fill="none" stroke="#2b2b2b" stroke-width="0.8"/>
<line x1="718.6" y1="905.5" x2="726.6" y2="913.5" stroke="#2b2b2b" stroke-width="0.6"/>
<line x1="718.6" y1="913.5" x2="726.6" y2="905.5" stroke="#2b2b2b" stroke-width="0.6"/>
<rect x="674" y="895" width="2" height="8" fill="none" stroke="#2b2b2b" stroke-width="0.7"/>
<rect x="674" y="916.8" width="2" height="8" fill="none" stroke="#2b2b2b" stroke-width="0.7"/>
<rect x="736.7" y="895" width="2" height="8" fill="none" stroke="#2b2b2b" stroke-width="0.7"/>
<rect x="736.7" y="916.8" width="2" height="8" fill="none" stroke="#2b2b2b" stroke-width="0.7"/>
<g transform="translate(696.85 946.69) rotate(90)" fill="none" stroke="#2b2b2b" stroke-width="0.9"><rect x="-6.7" y="-3.5" width="13.4" height="7" rx="0.35"/><path d="M-3.89 -3.5V3.5M3.89 -3.5V3.5"/></g>
<g transform="translate(714.42 946.69) rotate(90)" fill="none" stroke="#2b2b2b" stroke-width="0.9"><rect x="-6.7" y="-3.5" width="13.4" height="7" rx="0.35"/><path d="M-3.89 -3.5V3.5M3.89 -3.5V3.5"/></g>
<g transform="translate(732.19 946.69) rotate(90)" fill="none" stroke="#2b2b2b" stroke-width="0.9"><rect x="-6.7" y="-3.5" width="13.4" height="7" rx="0.35"/><path d="M-3.89 -3.5V3.5M3.89 -3.5V3.5"/></g>
<rect x="691.99" y="971.99" width="9.6" height="19" fill="none" stroke="#2b2b2b" stroke-width="1"/>
<line x1="691.99" y1="974.39" x2="701.59" y2="974.39" stroke="#2b2b2b" stroke-width="0.8"/>
<line x1="691.99" y1="988.59" x2="701.59" y2="988.59" stroke="#2b2b2b" stroke-width="0.8"/>
<rect x="692.69" y="971.99" width="2.2" height="2.4" fill="#222" stroke="#2b2b2b" stroke-width="0.1"/>
<rect x="698.69" y="971.99" width="2.2" height="2.4" fill="#222" stroke="#2b2b2b" stroke-width="0.1"/>
<rect x="692.69" y="988.59" width="2.2" height="2.4" fill="#222" stroke="#2b2b2b" stroke-width="0.1"/>
<rect x="698.69" y="988.59" width="2.2" height="2.4" fill="#222" stroke="#2b2b2b" stroke-width="0.1"/>
<g transform="translate(696.79 1018.22) rotate(90)" fill="none" stroke="#2b2b2b" stroke-width="0.9"><rect x="-6.7" y="-3.5" width="13.4" height="7" rx="0.35"/><path d="M-3.89 -3.5V3.5M3.89 -3.5V3.5"/></g>
<rect x="691.99" y="1044.59" width="9.6" height="19" fill="none" stroke="#2b2b2b" stroke-width="1"/>
<line x1="691.99" y1="1046.99" x2="701.59" y2="1046.99" stroke="#2b2b2b" stroke-width="0.8"/>
<line x1="691.99" y1="1061.19" x2="701.59" y2="1061.19" stroke="#2b2b2b" stroke-width="0.8"/>
<rect x="692.69" y="1044.59" width="2.2" height="2.4" fill="#222" stroke="#2b2b2b" stroke-width="0.1"/>
<rect x="698.69" y="1044.59" width="2.2" height="2.4" fill="#222" stroke="#2b2b2b" stroke-width="0.1"/>
<rect x="692.69" y="1061.19" width="2.2" height="2.4" fill="#222" stroke="#2b2b2b" stroke-width="0.1"/>
<rect x="698.69" y="1061.19" width="2.2" height="2.4" fill="#222" stroke="#2b2b2b" stroke-width="0.1"/>
<rect x="709.78" y="971.99" width="9.6" height="19" fill="none" stroke="#2b2b2b" stroke-width="1"/>
<line x1="709.78" y1="974.39" x2="719.38" y2="974.39" stroke="#2b2b2b" stroke-width="0.8"/>
<line x1="709.78" y1="988.59" x2="719.38" y2="988.59" stroke="#2b2b2b" stroke-width="0.8"/>
<rect x="710.48" y="971.99" width="2.2" height="2.4" fill="#222" stroke="#2b2b2b" stroke-width="0.1"/>
<rect x="716.48" y="971.99" width="2.2" height="2.4" fill="#222" stroke="#2b2b2b" stroke-width="0.1"/>
<rect x="710.48" y="988.59" width="2.2" height="2.4" fill="#222" stroke="#2b2b2b" stroke-width="0.1"/>
<rect x="716.48" y="988.59" width="2.2" height="2.4" fill="#222" stroke="#2b2b2b" stroke-width="0.1"/>
<g transform="translate(714.58 1018.22) rotate(90)" fill="none" stroke="#2b2b2b" stroke-width="0.9"><rect x="-6.7" y="-3.5" width="13.4" height="7" rx="0.35"/><path d="M-3.89 -3.5V3.5M3.89 -3.5V3.5"/></g>
<rect x="709.78" y="1044.59" width="9.6" height="19" fill="none" stroke="#2b2b2b" stroke-width="1"/>
<line x1="709.78" y1="1046.99" x2="719.38" y2="1046.99" stroke="#2b2b2b" stroke-width="0.8"/>
<line x1="709.78" y1="1061.19" x2="719.38" y2="1061.19" stroke="#2b2b2b" stroke-width="0.8"/>
<rect x="710.48" y="1044.59" width="2.2" height="2.4" fill="#222" stroke="#2b2b2b" stroke-width="0.1"/>
<rect x="716.48" y="1044.59" width="2.2" height="2.4" fill="#222" stroke="#2b2b2b" stroke-width="0.1"/>
<rect x="710.48" y="1061.19" width="2.2" height="2.4" fill="#222" stroke="#2b2b2b" stroke-width="0.1"/>
<rect x="716.48" y="1061.19" width="2.2" height="2.4" fill="#222" stroke="#2b2b2b" stroke-width="0.1"/>
<rect x="727.57" y="971.99" width="9.6" height="19" fill="none" stroke="#2b2b2b" stroke-width="1"/>
<line x1="727.57" y1="974.39" x2="737.17" y2="974.39" stroke="#2b2b2b" stroke-width="0.8"/>
<line x1="727.57" y1="988.59" x2="737.17" y2="988.59" stroke="#2b2b2b" stroke-width="0.8"/>
<rect x="728.27" y="971.99" width="2.2" height="2.4" fill="#222" stroke="#2b2b2b" stroke-width="0.1"/>
<rect x="734.27" y="971.99" width="2.2" height="2.4" fill="#222" stroke="#2b2b2b" stroke-width="0.1"/>
<rect x="728.27" y="988.59" width="2.2" height="2.4" fill="#222" stroke="#2b2b2b" stroke-width="0.1"/>
<rect x="734.27" y="988.59" width="2.2" height="2.4" fill="#222" stroke="#2b2b2b" stroke-width="0.1"/>
<g transform="translate(732.37 1018.22) rotate(90)" fill="none" stroke="#2b2b2b" stroke-width="0.9"><rect x="-6.7" y="-3.5" width="13.4" height="7" rx="0.35"/><path d="M-3.89 -3.5V3.5M3.89 -3.5V3.5"/></g>
<rect x="727.57" y="1044.59" width="9.6" height="19" fill="none" stroke="#2b2b2b" stroke-width="1"/>
<line x1="727.57" y1="1046.99" x2="737.17" y2="1046.99" stroke="#2b2b2b" stroke-width="0.8"/>
<line x1="727.57" y1="1061.19" x2="737.17" y2="1061.19" stroke="#2b2b2b" stroke-width="0.8"/>
<rect x="728.27" y="1044.59" width="2.2" height="2.4" fill="#222" stroke="#2b2b2b" stroke-width="0.1"/>
<rect x="734.27" y="1044.59" width="2.2" height="2.4" fill="#222" stroke="#2b2b2b" stroke-width="0.1"/>
<rect x="728.27" y="1061.19" width="2.2" height="2.4" fill="#222" stroke="#2b2b2b" stroke-width="0.1"/>
<rect x="734.27" y="1061.19" width="2.2" height="2.4" fill="#222" stroke="#2b2b2b" stroke-width="0.1"/>
<text class="t" dx="-1.04" x="531.22" y="943.04" font-size="23.1" text-anchor="start" fill="#111" font-weight="normal" stroke="#fff" stroke-width="0.22">FAN</text>
<g fill="#9a9a9a"><rect x="530.6" y="958.2" width="52.3" height="36.73"/><rect x="582.9" y="958.2" width="78.9" height="4.93"/><rect x="582.9" y="968.8" width="78.9" height="4.93"/><rect x="582.9" y="979.4" width="78.9" height="4.93"/><rect x="582.9" y="990" width="78.9" height="4.93"/><rect x="530.6" y="1000.6" width="131.2" height="4.93"/><rect x="530.6" y="1011.2" width="131.2" height="4.93"/><rect x="530.6" y="1021.8" width="131.2" height="4.93"/></g><g fill="#fff"><path d="M535 960.05L535.41 961.23L536.66 961.26L535.67 962.02L536.03 963.22L535 962.5L533.97 963.22L534.33 962.02L533.34 961.26L534.59 961.23ZM543.7 960.05L544.11 961.23L545.36 961.26L544.37 962.02L544.73 963.22L543.7 962.5L542.67 963.22L543.03 962.02L542.04 961.26L543.29 961.23ZM552.4 960.05L552.81 961.23L554.06 961.26L553.07 962.02L553.43 963.22L552.4 962.5L551.37 963.22L551.73 962.02L550.74 961.26L551.99 961.23ZM561.1 960.05L561.51 961.23L562.76 961.26L561.77 962.02L562.13 963.22L561.1 962.5L560.07 963.22L560.43 962.02L559.44 961.26L560.69 961.23ZM569.8 960.05L570.21 961.23L571.46 961.26L570.47 962.02L570.83 963.22L569.8 962.5L568.77 963.22L569.13 962.02L568.14 961.26L569.39 961.23ZM578.5 960.05L578.91 961.23L580.16 961.26L579.17 962.02L579.53 963.22L578.5 962.5L577.47 963.22L577.83 962.02L576.84 961.26L578.09 961.23ZM539.35 963.74L539.76 964.92L541.01 964.95L540.02 965.71L540.38 966.91L539.35 966.19L538.32 966.91L538.68 965.71L537.69 964.95L538.94 964.92ZM548.05 963.74L548.46 964.92L549.71 964.95L548.72 965.71L549.08 966.91L548.05 966.19L547.02 966.91L547.38 965.71L546.39 964.95L547.64 964.92ZM556.75 963.74L557.16 964.92L558.41 964.95L557.42 965.71L557.78 966.91L556.75 966.19L555.72 966.91L556.08 965.71L555.09 964.95L556.34 964.92ZM565.45 963.74L565.86 964.92L567.11 964.95L566.12 965.71L566.48 966.91L565.45 966.19L564.42 966.91L564.78 965.71L563.79 964.95L565.04 964.92ZM574.15 963.74L574.56 964.92L575.81 964.95L574.82 965.71L575.18 966.91L574.15 966.19L573.12 966.91L573.48 965.71L572.49 964.95L573.74 964.92ZM535 967.43L535.41 968.62L536.66 968.64L535.67 969.4L536.03 970.6L535 969.88L533.97 970.6L534.33 969.4L533.34 968.64L534.59 968.62ZM543.7 967.43L544.11 968.62L545.36 968.64L544.37 969.4L544.73 970.6L543.7 969.88L542.67 970.6L543.03 969.4L542.04 968.64L543.29 968.62ZM552.4 967.43L552.81 968.62L554.06 968.64L553.07 969.4L553.43 970.6L552.4 969.88L551.37 970.6L551.73 969.4L550.74 968.64L551.99 968.62ZM561.1 967.43L561.51 968.62L562.76 968.64L561.77 969.4L562.13 970.6L561.1 969.88L560.07 970.6L560.43 969.4L559.44 968.64L560.69 968.62ZM569.8 967.43L570.21 968.62L571.46 968.64L570.47 969.4L570.83 970.6L569.8 969.88L568.77 970.6L569.13 969.4L568.14 968.64L569.39 968.62ZM578.5 967.43L578.91 968.62L580.16 968.64L579.17 969.4L579.53 970.6L578.5 969.88L577.47 970.6L577.83 969.4L576.84 968.64L578.09 968.62ZM539.35 971.12L539.76 972.31L541.01 972.33L540.02 973.09L540.38 974.29L539.35 973.57L538.32 974.29L538.68 973.09L537.69 972.33L538.94 972.31ZM548.05 971.12L548.46 972.31L549.71 972.33L548.72 973.09L549.08 974.29L548.05 973.57L547.02 974.29L547.38 973.09L546.39 972.33L547.64 972.31ZM556.75 971.12L557.16 972.31L558.41 972.33L557.42 973.09L557.78 974.29L556.75 973.57L555.72 974.29L556.08 973.09L555.09 972.33L556.34 972.31ZM565.45 971.12L565.86 972.31L567.11 972.33L566.12 973.09L566.48 974.29L565.45 973.57L564.42 974.29L564.78 973.09L563.79 972.33L565.04 972.31ZM574.15 971.12L574.56 972.31L575.81 972.33L574.82 973.09L575.18 974.29L574.15 973.57L573.12 974.29L573.48 973.09L572.49 972.33L573.74 972.31ZM535 974.81L535.41 976L536.66 976.02L535.67 976.78L536.03 977.98L535 977.26L533.97 977.98L534.33 976.78L533.34 976.02L534.59 976ZM543.7 974.81L544.11 976L545.36 976.02L544.37 976.78L544.73 977.98L543.7 977.26L542.67 977.98L543.03 976.78L542.04 976.02L543.29 976ZM552.4 974.81L552.81 976L554.06 976.02L553.07 976.78L553.43 977.98L552.4 977.26L551.37 977.98L551.73 976.78L550.74 976.02L551.99 976ZM561.1 974.81L561.51 976L562.76 976.02L561.77 976.78L562.13 977.98L561.1 977.26L560.07 977.98L560.43 976.78L559.44 976.02L560.69 976ZM569.8 974.81L570.21 976L571.46 976.02L570.47 976.78L570.83 977.98L569.8 977.26L568.77 977.98L569.13 976.78L568.14 976.02L569.39 976ZM578.5 974.81L578.91 976L580.16 976.02L579.17 976.78L579.53 977.98L578.5 977.26L577.47 977.98L577.83 976.78L576.84 976.02L578.09 976ZM539.35 978.51L539.76 979.69L541.01 979.71L540.02 980.47L540.38 981.67L539.35 980.96L538.32 981.67L538.68 980.47L537.69 979.71L538.94 979.69ZM548.05 978.51L548.46 979.69L549.71 979.71L548.72 980.47L549.08 981.67L548.05 980.96L547.02 981.67L547.38 980.47L546.39 979.71L547.64 979.69ZM556.75 978.51L557.16 979.69L558.41 979.71L557.42 980.47L557.78 981.67L556.75 980.96L555.72 981.67L556.08 980.47L555.09 979.71L556.34 979.69ZM565.45 978.51L565.86 979.69L567.11 979.71L566.12 980.47L566.48 981.67L565.45 980.96L564.42 981.67L564.78 980.47L563.79 979.71L565.04 979.69ZM574.15 978.51L574.56 979.69L575.81 979.71L574.82 980.47L575.18 981.67L574.15 980.96L573.12 981.67L573.48 980.47L572.49 979.71L573.74 979.69ZM535 982.2L535.41 983.38L536.66 983.41L535.67 984.16L536.03 985.36L535 984.65L533.97 985.36L534.33 984.16L533.34 983.41L534.59 983.38ZM543.7 982.2L544.11 983.38L545.36 983.41L544.37 984.16L544.73 985.36L543.7 984.65L542.67 985.36L543.03 984.16L542.04 983.41L543.29 983.38ZM552.4 982.2L552.81 983.38L554.06 983.41L553.07 984.16L553.43 985.36L552.4 984.65L551.37 985.36L551.73 984.16L550.74 983.41L551.99 983.38ZM561.1 982.2L561.51 983.38L562.76 983.41L561.77 984.16L562.13 985.36L561.1 984.65L560.07 985.36L560.43 984.16L559.44 983.41L560.69 983.38ZM569.8 982.2L570.21 983.38L571.46 983.41L570.47 984.16L570.83 985.36L569.8 984.65L568.77 985.36L569.13 984.16L568.14 983.41L569.39 983.38ZM578.5 982.2L578.91 983.38L580.16 983.41L579.17 984.16L579.53 985.36L578.5 984.65L577.47 985.36L577.83 984.16L576.84 983.41L578.09 983.38ZM539.35 985.89L539.76 987.07L541.01 987.1L540.02 987.85L540.38 989.05L539.35 988.34L538.32 989.05L538.68 987.85L537.69 987.1L538.94 987.07ZM548.05 985.89L548.46 987.07L549.71 987.1L548.72 987.85L549.08 989.05L548.05 988.34L547.02 989.05L547.38 987.85L546.39 987.1L547.64 987.07ZM556.75 985.89L557.16 987.07L558.41 987.1L557.42 987.85L557.78 989.05L556.75 988.34L555.72 989.05L556.08 987.85L555.09 987.1L556.34 987.07ZM565.45 985.89L565.86 987.07L567.11 987.1L566.12 987.85L566.48 989.05L565.45 988.34L564.42 989.05L564.78 987.85L563.79 987.1L565.04 987.07ZM574.15 985.89L574.56 987.07L575.81 987.1L574.82 987.85L575.18 989.05L574.15 988.34L573.12 989.05L573.48 987.85L572.49 987.1L573.74 987.07ZM535 989.58L535.41 990.76L536.66 990.79L535.67 991.55L536.03 992.74L535 992.03L533.97 992.74L534.33 991.55L533.34 990.79L534.59 990.76ZM543.7 989.58L544.11 990.76L545.36 990.79L544.37 991.55L544.73 992.74L543.7 992.03L542.67 992.74L543.03 991.55L542.04 990.79L543.29 990.76ZM552.4 989.58L552.81 990.76L554.06 990.79L553.07 991.55L553.43 992.74L552.4 992.03L551.37 992.74L551.73 991.55L550.74 990.79L551.99 990.76ZM561.1 989.58L561.51 990.76L562.76 990.79L561.77 991.55L562.13 992.74L561.1 992.03L560.07 992.74L560.43 991.55L559.44 990.79L560.69 990.76ZM569.8 989.58L570.21 990.76L571.46 990.79L570.47 991.55L570.83 992.74L569.8 992.03L568.77 992.74L569.13 991.55L568.14 990.79L569.39 990.76ZM578.5 989.58L578.91 990.76L580.16 990.79L579.17 991.55L579.53 992.74L578.5 992.03L577.47 992.74L577.83 991.55L576.84 990.79L578.09 990.76Z"/></g>
<path d="M479.57 983.21 L479.57 1023.96 L521.46 1023.96" fill="none" stroke="#000" stroke-width="2.3"/>
<path d="M466.94 1001 L479.57 982.64 L491.91 1001" fill="none" stroke="#000" stroke-width="2.3"/>
<path d="M503.39 1012.48 L522.04 1023.96 L503.39 1034.86" fill="none" stroke="#000" stroke-width="2.3"/>
<text class="t" dx="-0.88" x="489.33" y="990.39" font-size="19.5" text-anchor="start" fill="#111" font-weight="normal" stroke="#fff" stroke-width="0.45">X</text>
<text class="t" dx="-0.88" x="509.99" y="1014.2" font-size="19.5" text-anchor="start" fill="#111" font-weight="normal" stroke="#fff" stroke-width="0.45">Y</text>
<text class="t" x="0" y="1051.82" font-size="23.1" fill="#111" stroke="#fff" stroke-width="0.2" textLength="13.86" lengthAdjust="spacingAndGlyphs" transform="translate(496.36 0) scale(1.7 1) translate(-6.93 0)">-</text>
<text class="t" dx="-1.04" x="476.13" y="1074.18" font-size="23.1" text-anchor="start" fill="#111" font-weight="normal" stroke="#fff" stroke-width="0.22">OUT</text>
<text class="t" dx="-1.04" x="481.87" y="1201.29" font-size="23.1" text-anchor="start" fill="#111" font-weight="normal" stroke="#fff" stroke-width="0.22">IN</text>
<rect x="382.01" y="915.78" width="42.47" height="42.47" fill="none" stroke="#2b2b2b" stroke-width="0.9"/>
<g transform="translate(392.05 972.02)" fill="none" stroke="#2b2b2b" stroke-width="0.9"><rect x="-6.7" y="-3.5" width="13.4" height="7" rx="0.35"/><path d="M-3.89 -3.5V3.5M3.89 -3.5V3.5"/></g>
<rect x="618.56" y="1040.79" width="32.5" height="4.8" fill="none" stroke="#2b2b2b" stroke-width="0.9"/>
<rect x="624.06" y="1035.59" width="21.5" height="15.2" fill="#fff" stroke="#111" stroke-width="2"/>
<line x1="637.39" y1="1035.59" x2="637.39" y2="1050.79" stroke="#2b2b2b" stroke-width="0.9"/>
<g transform="translate(633.08 1062.41)" fill="none" stroke="#2b2b2b" stroke-width="0.9"><rect x="-6.7" y="-3.5" width="13.4" height="7" rx="0.35"/><path d="M-3.89 -3.5V3.5M3.89 -3.5V3.5"/></g>
<g transform="translate(576.56 1067) rotate(90)" fill="none" stroke="#2b2b2b" stroke-width="0.9"><rect x="-6.7" y="-3.5" width="13.4" height="7" rx="0.35"/><path d="M-3.89 -3.5V3.5M3.89 -3.5V3.5"/></g>
<g transform="translate(590.9 1067) rotate(90)" fill="none" stroke="#2b2b2b" stroke-width="0.9"><rect x="-6.7" y="-3.5" width="13.4" height="7" rx="0.35"/><path d="M-3.89 -3.5V3.5M3.89 -3.5V3.5"/></g>
<g transform="translate(570.24 1087.95)" fill="none" stroke="#2b2b2b" stroke-width="0.9"><rect x="-6.7" y="-3.5" width="13.4" height="7" rx="0.35"/><path d="M-3.89 -3.5V3.5M3.89 -3.5V3.5"/></g>
<g transform="translate(596.07 1087.95)" fill="none" stroke="#2b2b2b" stroke-width="0.9"><rect x="-6.7" y="-3.5" width="13.4" height="7" rx="0.35"/><path d="M-3.89 -3.5V3.5M3.89 -3.5V3.5"/></g>
<g transform="translate(554.18 1102.3)" fill="none" stroke="#2b2b2b" stroke-width="0.9"><rect x="-6.7" y="-3.5" width="13.4" height="7" rx="0.35"/><path d="M-3.89 -3.5V3.5M3.89 -3.5V3.5"/></g>
<rect x="578.85" y="1100.86" width="12.05" height="9.18" fill="none" stroke="#2b2b2b" stroke-width="0.9"/>
<rect x="619.02" y="1079.34" width="53.08" height="26.69" rx="1" fill="none" stroke="#2b2b2b" stroke-width="0.9"/>
<rect x="622.47" y="1074.18" width="45.91" height="37.3" fill="#fff" stroke="#111" stroke-width="2"/>
<rect x="709.99" y="1077.91" width="6.89" height="3.73" fill="none" stroke="#2b2b2b" stroke-width="0.8"/>
<rect x="698.51" y="1105.16" width="6.89" height="3.44" fill="none" stroke="#2b2b2b" stroke-width="0.8"/>
<rect x="720.89" y="1105.16" width="6.89" height="3.44" fill="none" stroke="#2b2b2b" stroke-width="0.8"/>
<rect x="694.2" y="1081.64" width="39.02" height="23.53" fill="#fff" stroke="#111" stroke-width="1.3"/>
<circle cx="697.65" cy="1101.72" r="1.15" fill="none" stroke="#2b2b2b" stroke-width="0.7"/>
<g transform="translate(713.14 1122.96)" fill="none" stroke="#2b2b2b" stroke-width="0.9"><rect x="-6.7" y="-3.5" width="13.4" height="7" rx="0.35"/><path d="M-3.89 -3.5V3.5M3.89 -3.5V3.5"/><path d="M-3.89 -3L3.89 3M-3.89 3L3.89 -3" stroke="#e02020" stroke-width="0.7"/></g>
<text class="t" dx="-1.04" x="659.77" y="1148.21" font-size="23.1" text-anchor="start" fill="#111" font-weight="normal" stroke="#fff" stroke-width="0.22">USB</text>
<rect x="534.22" y="1130.39" width="113.53" height="83.96" fill="#fff" stroke="#2b2b2b" stroke-width="0.9"/>
<line x1="550.39" y1="1130.39" x2="550.39" y2="1214.35" stroke="#2b2b2b" stroke-width="0.8"/>
<line x1="551.42" y1="1130.39" x2="551.42" y2="1214.35" stroke="#2b2b2b" stroke-width="0.8"/>
<line x1="630.74" y1="1130.39" x2="630.74" y2="1214.35" stroke="#2b2b2b" stroke-width="0.8"/>
<line x1="631.78" y1="1130.39" x2="631.78" y2="1214.35" stroke="#2b2b2b" stroke-width="0.8"/>
<rect x="534.22" y="1126.99" width="4.53" height="3.4" fill="none" stroke="#2b2b2b" stroke-width="0.9"/>
<rect x="643.42" y="1126.99" width="4.33" height="3.4" fill="none" stroke="#2b2b2b" stroke-width="0.9"/>
<rect x="548.85" y="1126.99" width="5.67" height="3.91" rx="1" fill="#fff" stroke="#2b2b2b" stroke-width="0.9"/>
<rect x="558.12" y="1126.99" width="6.18" height="3.91" rx="1" fill="#fff" stroke="#2b2b2b" stroke-width="0.9"/>
<rect x="567.39" y="1126.99" width="3.61" height="3.91" rx="1" fill="#fff" stroke="#2b2b2b" stroke-width="0.9"/>
<rect x="573.57" y="1126.99" width="3.61" height="3.91" rx="1" fill="#fff" stroke="#2b2b2b" stroke-width="0.9"/>
<rect x="580.27" y="1126.99" width="3.61" height="3.91" rx="1" fill="#fff" stroke="#2b2b2b" stroke-width="0.9"/>
<rect x="586.45" y="1126.99" width="3.61" height="3.91" rx="1" fill="#fff" stroke="#2b2b2b" stroke-width="0.9"/>
<rect x="592.63" y="1126.99" width="3.61" height="3.91" rx="1" fill="#fff" stroke="#2b2b2b" stroke-width="0.9"/>
<rect x="598.81" y="1126.99" width="3.61" height="3.91" rx="1" fill="#fff" stroke="#2b2b2b" stroke-width="0.9"/>
<rect x="605.51" y="1126.99" width="3.61" height="3.91" rx="1" fill="#fff" stroke="#2b2b2b" stroke-width="0.9"/>
<rect x="611.69" y="1126.99" width="3.61" height="3.91" rx="1" fill="#fff" stroke="#2b2b2b" stroke-width="0.9"/>
<rect x="617.87" y="1126.99" width="6.18" height="3.91" rx="1" fill="#fff" stroke="#2b2b2b" stroke-width="0.9"/>
<rect x="627.14" y="1126.99" width="6.18" height="3.91" rx="1" fill="#fff" stroke="#2b2b2b" stroke-width="0.9"/>
<path d="M555.54 1130.91 L555.54 1140.69 L557.6 1143.27 L575.63 1143.27 L577.18 1141.72 L575.63 1139.66 L575.11 1139.66" fill="none" stroke="#2b2b2b" stroke-width="0.9"/>
<rect x="566.56" y="1130.91" width="8.55" height="8.76" fill="none" stroke="#2b2b2b" stroke-width="0.9"/>
<line x1="572.54" y1="1130.91" x2="572.54" y2="1139.66" stroke="#2b2b2b" stroke-width="0.7"/>
<line x1="573.57" y1="1130.91" x2="573.57" y2="1139.66" stroke="#2b2b2b" stroke-width="0.7"/>
<path d="M626.11 1130.91 L626.11 1140.69 L624.05 1143.27 L606.54 1143.27 L604.99 1141.72 L606.54 1139.66 L607.05 1139.66" fill="none" stroke="#2b2b2b" stroke-width="0.9"/>
<rect x="607.05" y="1130.91" width="8.24" height="8.76" fill="none" stroke="#2b2b2b" stroke-width="0.9"/>
<line x1="608.08" y1="1130.91" x2="608.08" y2="1139.66" stroke="#2b2b2b" stroke-width="0.7"/>
<line x1="609.11" y1="1130.91" x2="609.11" y2="1139.66" stroke="#2b2b2b" stroke-width="0.7"/>
<path d="M580.27 1130.91 L582.84 1133.48 L584.9 1132.14 L597.26 1132.14 L599.32 1133.48 L601.9 1130.91" fill="none" stroke="#2b2b2b" stroke-width="0.9"/>
<rect x="561.21" y="1171.08" width="12.57" height="4.12" rx="1.5" fill="none" stroke="#2b2b2b" stroke-width="0.9"/>
<line x1="561.21" y1="1171.91" x2="573.78" y2="1171.91" stroke="#111" stroke-width="2"/>
<path d="M561.21 1175.2C561.21 1190.66 559.15 1195.81 559.15 1203.02Q561.21 1208.17 563.27 1203.02C563.27 1195.81 564.81 1190.66 564.81 1175.2" fill="none" stroke="#111" stroke-width="1.25"/>
<path d="M569.96 1175.2C569.96 1190.66 571.51 1195.81 571.51 1203.02Q573.57 1208.17 575.63 1203.02C575.63 1195.81 573.78 1190.66 573.78 1175.2" fill="none" stroke="#111" stroke-width="1.25"/>
<rect x="608.8" y="1171.08" width="12.57" height="4.12" rx="1.5" fill="none" stroke="#2b2b2b" stroke-width="0.9"/>
<line x1="608.8" y1="1171.91" x2="621.37" y2="1171.91" stroke="#111" stroke-width="2"/>
<path d="M608.8 1175.2C608.8 1190.66 606.74 1195.81 606.74 1203.02Q608.8 1208.17 610.86 1203.02C610.86 1195.81 612.41 1190.66 612.41 1175.2" fill="none" stroke="#111" stroke-width="1.25"/>
<path d="M617.56 1175.2C617.56 1190.66 619.1 1195.81 619.1 1203.02Q621.16 1208.17 623.22 1203.02C623.22 1195.81 621.37 1190.66 621.37 1175.2" fill="none" stroke="#111" stroke-width="1.25"/>
<rect x="44.48" y="917.22" width="27.26" height="52.51" fill="none" stroke="#2b2b2b" stroke-width="0.9"/>
<rect x="39.89" y="920.09" width="37.02" height="46.48" fill="#fff" stroke="#111" stroke-width="2"/>
<rect x="105.31" y="920.09" width="11.48" height="8.03" rx="1" fill="none" stroke="#2b2b2b" stroke-width="0.8"/>
<text class="t" dx="-1.04" x="123.96" y="928.69" font-size="23.1" text-anchor="start" fill="#111" font-weight="normal" stroke="#fff" stroke-width="0.22">USB</text>
<g transform="translate(98.42 941.89)" fill="none" stroke="#2b2b2b" stroke-width="0.9"><rect x="-6.7" y="-3.5" width="13.4" height="7" rx="0.35"/><path d="M-3.89 -3.5V3.5M3.89 -3.5V3.5"/></g>
<g transform="translate(123.96 941.89)" fill="none" stroke="#2b2b2b" stroke-width="0.9"><rect x="-6.7" y="-3.5" width="13.4" height="7" rx="0.35"/><path d="M-3.89 -3.5V3.5M3.89 -3.5V3.5"/></g>
<g transform="translate(103.01 962.27) rotate(90)" fill="none" stroke="#2b2b2b" stroke-width="0.9"><rect x="-6.7" y="-3.5" width="13.4" height="7" rx="0.35"/><path d="M-3.89 -3.5V3.5M3.89 -3.5V3.5"/></g>
<g transform="translate(117.65 962.27) rotate(90)" fill="none" stroke="#2b2b2b" stroke-width="0.9"><rect x="-6.7" y="-3.5" width="13.4" height="7" rx="0.35"/><path d="M-3.89 -3.5V3.5M3.89 -3.5V3.5"/></g>
<g transform="translate(85.51 991.25) rotate(90)" fill="none" stroke="#2b2b2b" stroke-width="0.9"><rect x="-6.7" y="-3.5" width="13.4" height="7" rx="0.35"/><path d="M-3.89 -3.5V3.5M3.89 -3.5V3.5"/></g>
<g transform="translate(160.98 986.66)"><rect x="-16" y="-6.4" width="32" height="12.8" rx="1" fill="none" stroke="#2b2b2b" stroke-width="0.9"/><path d="M-13.8 -6.6H15M-13.8 6.6H15" stroke="#2b2b2b" stroke-width="1.5" stroke-dasharray="4.2 3.6" fill="none"/><circle cx="13" cy="-4.2" r="1.3" fill="#2b2b2b"/></g>
<g transform="translate(197.7 986.66)"><rect x="-16" y="-6.4" width="32" height="12.8" rx="1" fill="none" stroke="#2b2b2b" stroke-width="0.9"/><path d="M-13.8 -6.6H15M-13.8 6.6H15" stroke="#2b2b2b" stroke-width="1.5" stroke-dasharray="4.2 3.6" fill="none"/><circle cx="13" cy="-4.2" r="1.3" fill="#2b2b2b"/></g>
<g transform="translate(234.72 986.66)"><rect x="-16" y="-6.4" width="32" height="12.8" rx="1" fill="none" stroke="#2b2b2b" stroke-width="0.9"/><path d="M-13.8 -6.6H15M-13.8 6.6H15" stroke="#2b2b2b" stroke-width="1.5" stroke-dasharray="4.2 3.6" fill="none"/><circle cx="13" cy="-4.2" r="1.3" fill="#2b2b2b"/></g>
<rect x="74.29" y="1013.38" width="32.2" height="4.8" fill="none" stroke="#2b2b2b" stroke-width="0.9"/>
<rect x="79.79" y="1008.18" width="21.2" height="15.2" fill="#fff" stroke="#111" stroke-width="2"/>
<line x1="86.15" y1="1008.18" x2="86.15" y2="1023.38" stroke="#2b2b2b" stroke-width="0.9"/>
<rect x="40.57" y="1043.59" width="10.4" height="21" fill="none" stroke="#2b2b2b" stroke-width="1"/>
<line x1="40.57" y1="1045.99" x2="50.97" y2="1045.99" stroke="#2b2b2b" stroke-width="0.8"/>
<line x1="40.57" y1="1062.19" x2="50.97" y2="1062.19" stroke="#2b2b2b" stroke-width="0.8"/>
<rect x="41.27" y="1043.59" width="2.2" height="2.4" fill="#222" stroke="#2b2b2b" stroke-width="0.1"/>
<rect x="48.07" y="1043.59" width="2.2" height="2.4" fill="#222" stroke="#2b2b2b" stroke-width="0.1"/>
<rect x="41.27" y="1062.19" width="2.2" height="2.4" fill="#222" stroke="#2b2b2b" stroke-width="0.1"/>
<rect x="48.07" y="1062.19" width="2.2" height="2.4" fill="#222" stroke="#2b2b2b" stroke-width="0.1"/>
<rect x="59.22" y="1043.59" width="10.4" height="21" fill="none" stroke="#2b2b2b" stroke-width="1"/>
<line x1="59.22" y1="1045.99" x2="69.62" y2="1045.99" stroke="#2b2b2b" stroke-width="0.8"/>
<line x1="59.22" y1="1062.19" x2="69.62" y2="1062.19" stroke="#2b2b2b" stroke-width="0.8"/>
<rect x="59.92" y="1043.59" width="2.2" height="2.4" fill="#222" stroke="#2b2b2b" stroke-width="0.1"/>
<rect x="66.72" y="1043.59" width="2.2" height="2.4" fill="#222" stroke="#2b2b2b" stroke-width="0.1"/>
<rect x="59.92" y="1062.19" width="2.2" height="2.4" fill="#222" stroke="#2b2b2b" stroke-width="0.1"/>
<rect x="66.72" y="1062.19" width="2.2" height="2.4" fill="#222" stroke="#2b2b2b" stroke-width="0.1"/>
<g transform="translate(45.34 1089.38) rotate(90)" fill="none" stroke="#2b2b2b" stroke-width="0.9"><rect x="-6.7" y="-3.5" width="13.4" height="7" rx="0.35"/><path d="M-3.89 -3.5V3.5M3.89 -3.5V3.5"/></g>
<g transform="translate(64.85 1089.38) rotate(90)" fill="none" stroke="#2b2b2b" stroke-width="0.9"><rect x="-6.7" y="-3.5" width="13.4" height="7" rx="0.35"/><path d="M-3.89 -3.5V3.5M3.89 -3.5V3.5"/></g>
<text class="s" x="-1.5" y="0" font-size="100" font-weight="bold" fill="#5a5a5a" stroke="#5a5a5a" stroke-width="1.2" textLength="164.9" lengthAdjust="spacingAndGlyphs" transform="translate(93.8 1064.6) scale(1 0.75)">ARK</text>
<text class="s" x="93.3" y="1083.3" font-size="15.92" fill="#5a5a5a" stroke="#5a5a5a" stroke-width="0.55" textLength="163.4" lengthAdjust="spacingAndGlyphs">ELECTRONICS</text>
<text class="t" dx="-1.04" x="82.35" y="1124.68" font-size="23.1" text-anchor="start" fill="#111" font-weight="normal" stroke="#fff" stroke-width="0.22">REV</text>
<text class="t" dx="-1.04" x="82.35" y="1148.49" font-size="23.1" text-anchor="start" fill="#111" font-weight="normal" stroke="#fff" stroke-width="0.22">2.<tspan class="s" dx="0.4">0</tspan></text>
<text class="t" dx="-1.02" x="146.34" y="1118.08" font-size="22.6" text-anchor="start" fill="#111" font-weight="normal" stroke="#fff" stroke-width="0.22">HDMI</text>
<text class="t" x="281.21" y="1052.53" font-size="23.1" text-anchor="middle" fill="#111" stroke="#fff" stroke-width="0.3">+</text>
<text class="t" dx="-1.04" x="260.55" y="1074.18" font-size="23.1" text-anchor="start" fill="#111" font-weight="normal" stroke="#fff" stroke-width="0.22">OUT</text>
<text class="t" dx="-1.04" x="245.91" y="1105.74" font-size="23.1" text-anchor="start" fill="#111" font-weight="normal" stroke="#fff" stroke-width="0.22">33V</text>
<text class="t" dx="-1.04" x="245.91" y="1128.69" font-size="23.1" text-anchor="start" fill="#111" font-weight="normal" stroke="#fff" stroke-width="0.22">MAX</text>
<text class="t" dx="-1.04" x="261.98" y="1201.29" font-size="23.1" text-anchor="start" fill="#111" font-weight="normal" stroke="#fff" stroke-width="0.22">IN</text>
<text class="t" dx="-1.04" x="242.47" y="913.49" font-size="23.1" text-anchor="start" fill="#111" font-weight="normal" stroke="#fff" stroke-width="0.22">ARK</text>
<text class="t" dx="-1.04" x="242.47" y="937.3" font-size="23.1" text-anchor="start" fill="#111" font-weight="normal" stroke="#fff" stroke-width="0.22">Pi6X</text>
<text class="t" dx="-1.04" x="242.47" y="960.26" font-size="23.1" text-anchor="start" fill="#111" font-weight="normal" stroke="#fff" stroke-width="0.22">FLOW</text>
<rect x="335.15" y="915.78" width="42.47" height="42.47" fill="none" stroke="#2b2b2b" stroke-width="0.9"/>
<rect x="307.03" y="956.53" width="18.94" height="28.41" rx="0.8" fill="none" stroke="#2b2b2b" stroke-width="0.9"/>
<line x1="307.03" y1="959.37" x2="325.97" y2="959.37" stroke="#2b2b2b" stroke-width="0.9"/>
<line x1="307.03" y1="982.09" x2="325.97" y2="982.09" stroke="#2b2b2b" stroke-width="0.9"/>
<g transform="translate(338.88 978.34) rotate(90)" fill="none" stroke="#2b2b2b" stroke-width="0.9"><rect x="-6.7" y="-3.5" width="13.4" height="7" rx="0.35"/><path d="M-3.89 -3.5V3.5M3.89 -3.5V3.5"/></g>
<path d="M145.29 1136.04H132.2Q129.98 1137.7 131.65 1141.03Q133.87 1143.58 131.65 1146.02Q129.98 1149.35 132.2 1151.02H145.29" fill="none" stroke="#2b2b2b" stroke-width="0.9"/>
<path d="M227.83 1136.04H240.92Q243.14 1137.7 241.48 1141.03Q239.26 1143.58 241.48 1146.02Q243.14 1149.35 240.92 1151.02H227.83" fill="none" stroke="#2b2b2b" stroke-width="0.9"/>
<rect x="145.29" y="1121.4" width="82.54" height="95.07" fill="#fff" stroke="#2b2b2b" stroke-width="0.9"/>
<line x1="152.17" y1="1121.4" x2="152.17" y2="1216.47" stroke="#2b2b2b" stroke-width="0.9"/>
<line x1="221.51" y1="1121.4" x2="221.51" y2="1216.47" stroke="#2b2b2b" stroke-width="0.9"/>
<rect x="144.18" y="1137.15" width="1.11" height="12.76" fill="#ccc" stroke="#2b2b2b" stroke-width="0.6"/>
<rect x="227.83" y="1137.15" width="1.78" height="12.76" fill="#ccc" stroke="#2b2b2b" stroke-width="0.6"/>
<path d="M158.27 1121.62V1131.93Q158.27 1136.37 162.71 1136.37H210.75Q215.19 1136.37 215.19 1131.93V1121.62" fill="none" stroke="#2b2b2b" stroke-width="0.9"/>
<line x1="159.94" y1="1126.61" x2="213.74" y2="1126.61" stroke="#2b2b2b" stroke-width="0.8"/>
<rect x="161.16" y="1122.73" width="1.55" height="3.88" rx="0.8" fill="none" stroke="#2b2b2b" stroke-width="0.8"/>
<rect x="163.93" y="1122.73" width="1.55" height="3.88" rx="0.8" fill="none" stroke="#2b2b2b" stroke-width="0.8"/>
<rect x="166.71" y="1122.73" width="1.55" height="3.88" rx="0.8" fill="none" stroke="#2b2b2b" stroke-width="0.8"/>
<rect x="169.48" y="1122.73" width="1.55" height="3.88" rx="0.8" fill="none" stroke="#2b2b2b" stroke-width="0.8"/>
<rect x="172.25" y="1122.73" width="1.55" height="3.88" rx="0.8" fill="none" stroke="#2b2b2b" stroke-width="0.8"/>
<rect x="175.03" y="1122.73" width="1.55" height="3.88" rx="0.8" fill="none" stroke="#2b2b2b" stroke-width="0.8"/>
<rect x="177.8" y="1122.73" width="1.55" height="3.88" rx="0.8" fill="none" stroke="#2b2b2b" stroke-width="0.8"/>
<rect x="180.57" y="1122.73" width="1.55" height="3.88" rx="0.8" fill="none" stroke="#2b2b2b" stroke-width="0.8"/>
<rect x="183.35" y="1122.73" width="1.55" height="3.88" rx="0.8" fill="none" stroke="#2b2b2b" stroke-width="0.8"/>
<rect x="186.12" y="1122.73" width="1.55" height="3.88" rx="0.8" fill="none" stroke="#2b2b2b" stroke-width="0.8"/>
<rect x="188.89" y="1122.73" width="1.55" height="3.88" rx="0.8" fill="none" stroke="#2b2b2b" stroke-width="0.8"/>
<rect x="191.67" y="1122.73" width="1.55" height="3.88" rx="0.8" fill="none" stroke="#2b2b2b" stroke-width="0.8"/>
<rect x="194.44" y="1122.73" width="1.55" height="3.88" rx="0.8" fill="none" stroke="#2b2b2b" stroke-width="0.8"/>
<rect x="197.21" y="1122.73" width="1.55" height="3.88" rx="0.8" fill="none" stroke="#2b2b2b" stroke-width="0.8"/>
<rect x="199.99" y="1122.73" width="1.55" height="3.88" rx="0.8" fill="none" stroke="#2b2b2b" stroke-width="0.8"/>
<rect x="202.76" y="1122.73" width="1.55" height="3.88" rx="0.8" fill="none" stroke="#2b2b2b" stroke-width="0.8"/>
<rect x="205.53" y="1122.73" width="1.55" height="3.88" rx="0.8" fill="none" stroke="#2b2b2b" stroke-width="0.8"/>
<rect x="208.31" y="1122.73" width="1.55" height="3.88" rx="0.8" fill="none" stroke="#2b2b2b" stroke-width="0.8"/>
<rect x="211.08" y="1122.73" width="1.55" height="3.88" rx="0.8" fill="none" stroke="#2b2b2b" stroke-width="0.8"/>
<rect x="824.7" y="48.5" width="707.5" height="1156.8" rx="21" fill="none" stroke="#111" stroke-width="1.7"/>
<circle cx="853" cy="77.4" r="14" fill="none" stroke="#2b2b2b" stroke-width="1"/>
<path d="M865.96 53.03A27.6 27.6 0 1 1 826.22 84.08" fill="none" stroke="#111" stroke-width="1.6"/>
<circle cx="1503.7" cy="77.4" r="14" fill="none" stroke="#2b2b2b" stroke-width="1"/>
<path d="M1530.48 84.08A27.6 27.6 0 1 1 1490.74 53.03" fill="none" stroke="#111" stroke-width="1.6"/>
<circle cx="852.6" cy="1176.3" r="14" fill="none" stroke="#2b2b2b" stroke-width="1"/>
<path d="M825.82 1169.62A27.6 27.6 0 1 1 862.04 1202.24" fill="none" stroke="#111" stroke-width="1.6"/>
<circle cx="1503.4" cy="1176.3" r="14" fill="none" stroke="#2b2b2b" stroke-width="1"/>
<path d="M1493.51 1202.07A27.6 27.6 0 1 1 1530.18 1169.62" fill="none" stroke="#111" stroke-width="1.6"/>
<circle cx="985.6" cy="491.3" r="37.6" fill="none" stroke="#2b2b2b" stroke-width="1"/>
<circle cx="985.6" cy="491.3" r="27.1" fill="none" stroke="#2b2b2b" stroke-width="1"/>
<circle cx="985.6" cy="491.3" r="15.3" fill="none" stroke="#2b2b2b" stroke-width="1"/>
<circle cx="1371.1" cy="491.3" r="37.6" fill="none" stroke="#2b2b2b" stroke-width="1"/>
<circle cx="1371.1" cy="491.3" r="27.1" fill="none" stroke="#2b2b2b" stroke-width="1"/>
<circle cx="1371.1" cy="491.3" r="15.3" fill="none" stroke="#2b2b2b" stroke-width="1"/>
<circle cx="985.6" cy="876.6" r="37.6" fill="none" stroke="#2b2b2b" stroke-width="1"/>
<circle cx="985.6" cy="876.6" r="27.1" fill="none" stroke="#2b2b2b" stroke-width="1"/>
<circle cx="985.6" cy="876.6" r="15.3" fill="none" stroke="#2b2b2b" stroke-width="1"/>
<circle cx="1371.1" cy="876.6" r="37.6" fill="none" stroke="#2b2b2b" stroke-width="1"/>
<circle cx="1371.1" cy="876.6" r="27.1" fill="none" stroke="#2b2b2b" stroke-width="1"/>
<circle cx="1371.1" cy="876.6" r="15.3" fill="none" stroke="#2b2b2b" stroke-width="1"/>
<circle cx="875" cy="361.8" r="22.6" fill="none" stroke="#2b2b2b" stroke-width="1"/>
<circle cx="1481.7" cy="361.8" r="22.6" fill="none" stroke="#2b2b2b" stroke-width="1"/>
<circle cx="875" cy="778.5" r="22.6" fill="none" stroke="#2b2b2b" stroke-width="1"/>
<circle cx="1481.7" cy="778.5" r="22.6" fill="none" stroke="#2b2b2b" stroke-width="1"/>
<circle cx="1132.9" cy="1059.8" r="28.1" fill="none" stroke="#2b2b2b" stroke-width="1"/>
<circle cx="1132.9" cy="1155.4" r="28.1" fill="none" stroke="#2b2b2b" stroke-width="1"/>
<circle cx="1224" cy="1059.8" r="28.1" fill="none" stroke="#2b2b2b" stroke-width="1"/>
<circle cx="1224" cy="1155.4" r="28.1" fill="none" stroke="#2b2b2b" stroke-width="1"/>
<rect x="919.5" y="1205.6" width="113.3" height="9.2" fill="none" stroke="#2b2b2b" stroke-width="0.9"/>
<line x1="935.8" y1="1205.6" x2="935.8" y2="1214.8" stroke="#2b2b2b" stroke-width="0.8"/>
<line x1="1016.2" y1="1205.6" x2="1016.2" y2="1214.8" stroke="#2b2b2b" stroke-width="0.8"/>
<rect x="1339" y="1205.6" width="82.7" height="10.9" fill="none" stroke="#2b2b2b" stroke-width="0.9"/>
<line x1="1346.2" y1="1205.6" x2="1346.2" y2="1216.5" stroke="#2b2b2b" stroke-width="0.8"/>
<line x1="1415" y1="1205.6" x2="1415" y2="1216.5" stroke="#2b2b2b" stroke-width="0.8"/>
<rect x="915.6" y="54.6" width="2.6" height="9" fill="none" stroke="#2b2b2b" stroke-width="0.8"/>
<rect x="958.7" y="54.6" width="2.6" height="9" fill="none" stroke="#2b2b2b" stroke-width="0.8"/>
<rect x="915.6" y="72.3" width="2.6" height="9" fill="none" stroke="#2b2b2b" stroke-width="0.8"/>
<rect x="958.7" y="72.3" width="2.6" height="9" fill="none" stroke="#2b2b2b" stroke-width="0.8"/>
<rect x="918.2" y="50.6" width="40.5" height="35.5" fill="#fff" stroke="#2b2b2b" stroke-width="0.9"/>
<line x1="918.2" y1="50.6" x2="958.7" y2="50.6" stroke="#111" stroke-width="2"/>
<circle cx="939.1" cy="67.7" r="15.8" fill="none" stroke="#2b2b2b" stroke-width="0.9"/>
<circle cx="939.1" cy="67.7" r="13.3" fill="none" stroke="#2b2b2b" stroke-width="0.9"/>
<line x1="948.5" y1="86.1" x2="958.7" y2="75.9" stroke="#2b2b2b" stroke-width="0.8"/>
<line x1="952.4" y1="67.7" x2="954.9" y2="67.7" stroke="#2b2b2b" stroke-width="0.8"/>
<rect x="1007.33" y="51.34" width="64.37" height="64.11" fill="none" stroke="#2b2b2b" stroke-width="0.9"/>
<circle cx="1017.8" cy="104.73" r="4.09" fill="none" stroke="#2b2b2b" stroke-width="0.9"/>
<g transform="translate(1096.73 83.27)" fill="none" stroke="#2b2b2b" stroke-width="0.9"><rect x="-6.7" y="-3.5" width="13.4" height="7" rx="0.35"/><path d="M-3.89 -3.5V3.5M3.89 -3.5V3.5"/></g>
<g transform="translate(1096.73 99.11)" fill="none" stroke="#2b2b2b" stroke-width="0.9"><rect x="-6.7" y="-3.5" width="13.4" height="7" rx="0.35"/><path d="M-3.89 -3.5V3.5M3.89 -3.5V3.5"/></g>
<g transform="translate(895.71 109.07)" fill="none" stroke="#2b2b2b" stroke-width="0.9"><rect x="-6.7" y="-3.5" width="13.4" height="7" rx="0.35"/><path d="M-3.89 -3.5V3.5M3.89 -3.5V3.5"/></g>
<g transform="translate(942.45 105.49) rotate(90)" fill="none" stroke="#2b2b2b" stroke-width="0.9"><rect x="-6.7" y="-3.5" width="13.4" height="7" rx="0.35"/><path d="M-3.89 -3.5V3.5M3.89 -3.5V3.5"/></g>
<g transform="translate(958.54 105.49) rotate(90)" fill="none" stroke="#2b2b2b" stroke-width="0.9"><rect x="-6.7" y="-3.5" width="13.4" height="7" rx="0.35"/><path d="M-3.89 -3.5V3.5M3.89 -3.5V3.5"/></g>
<g transform="translate(974.38 105.49) rotate(90)" fill="none" stroke="#2b2b2b" stroke-width="0.9"><rect x="-6.7" y="-3.5" width="13.4" height="7" rx="0.35"/><path d="M-3.89 -3.5V3.5M3.89 -3.5V3.5"/></g>
<g transform="translate(990.47 105.49) rotate(90)" fill="none" stroke="#2b2b2b" stroke-width="0.9"><rect x="-6.7" y="-3.5" width="13.4" height="7" rx="0.35"/><path d="M-3.89 -3.5V3.5M3.89 -3.5V3.5"/></g>
<g transform="translate(897.5 126.95)"><rect x="-10.25" y="-5.1" width="20.5" height="10.2" rx="1" fill="#fff" stroke="#111" stroke-width="1.3"/><path d="M-5.95 -5.1V5.1M5.95 -5.1V5.1" stroke="#2b2b2b" stroke-width="0.8"/><rect x="-4.5" y="-1.3" width="9" height="2.6" fill="#222"/><path d="M-2.5 -5.1Q0 -1.9 2.5 -5.1M-2.5 5.1Q0 1.9 2.5 5.1" stroke="#2b2b2b" stroke-width="0.7" fill="none"/></g>
<g transform="translate(992.26 127.97)" fill="none" stroke="#2b2b2b" stroke-width="0.9"><rect x="-6.7" y="-3.5" width="13.4" height="7" rx="0.35"/><path d="M-3.89 -3.5V3.5M3.89 -3.5V3.5"/></g>
<g transform="translate(1022.4 135.89) rotate(90)" fill="none" stroke="#2b2b2b" stroke-width="0.9"><rect x="-6.7" y="-3.5" width="13.4" height="7" rx="0.35"/><path d="M-3.89 -3.5V3.5M3.89 -3.5V3.5"/></g>
<g transform="translate(1038.49 135.89) rotate(90)" fill="none" stroke="#2b2b2b" stroke-width="0.9"><rect x="-6.7" y="-3.5" width="13.4" height="7" rx="0.35"/><path d="M-3.89 -3.5V3.5M3.89 -3.5V3.5"/></g>
<g transform="translate(1054.84 135.89) rotate(90)" fill="none" stroke="#2b2b2b" stroke-width="0.9"><rect x="-6.7" y="-3.5" width="13.4" height="7" rx="0.35"/><path d="M-3.89 -3.5V3.5M3.89 -3.5V3.5"/></g>
<g transform="translate(1070.93 135.89) rotate(90)" fill="none" stroke="#2b2b2b" stroke-width="0.9"><rect x="-6.7" y="-3.5" width="13.4" height="7" rx="0.35"/><path d="M-3.89 -3.5V3.5M3.89 -3.5V3.5"/></g>
<rect x="1087.66" y="117.07" width="6.4" height="8.6" fill="none" stroke="#2b2b2b" stroke-width="0.9"/>
<line x1="1087.66" y1="118.87" x2="1094.06" y2="118.87" stroke="#2b2b2b" stroke-width="0.8"/>
<rect x="1111.66" y="117.07" width="6.4" height="8.6" fill="none" stroke="#2b2b2b" stroke-width="0.9"/>
<line x1="1111.66" y1="118.87" x2="1118.06" y2="118.87" stroke="#2b2b2b" stroke-width="0.8"/>
<rect x="1087.66" y="146.87" width="6.4" height="8.6" fill="none" stroke="#2b2b2b" stroke-width="0.9"/>
<line x1="1087.66" y1="153.67" x2="1094.06" y2="153.67" stroke="#2b2b2b" stroke-width="0.8"/>
<rect x="1099.66" y="146.87" width="6.4" height="8.6" fill="none" stroke="#2b2b2b" stroke-width="0.9"/>
<line x1="1099.66" y1="153.67" x2="1106.06" y2="153.67" stroke="#2b2b2b" stroke-width="0.8"/>
<rect x="1111.66" y="146.87" width="6.4" height="8.6" fill="none" stroke="#2b2b2b" stroke-width="0.9"/>
<line x1="1111.66" y1="153.67" x2="1118.06" y2="153.67" stroke="#2b2b2b" stroke-width="0.8"/>
<rect x="1083.46" y="125.67" width="38.8" height="21.2" rx="1.5" fill="#fff" stroke="#111" stroke-width="2"/>
<g transform="translate(1020.36 178.54) rotate(90)" fill="none" stroke="#2b2b2b" stroke-width="0.9"><rect x="-6.7" y="-3.5" width="13.4" height="7" rx="0.35"/><path d="M-3.89 -3.5V3.5M3.89 -3.5V3.5"/></g>
<g transform="translate(1020.36 204.34) rotate(90)" fill="none" stroke="#2b2b2b" stroke-width="0.9"><rect x="-6.7" y="-3.5" width="13.4" height="7" rx="0.35"/><path d="M-3.89 -3.5V3.5M3.89 -3.5V3.5"/></g>
<rect x="1032.11" y="175.22" width="16.35" height="21.46" fill="none" stroke="#2b2b2b" stroke-width="0.9"/>
<circle cx="1035.68" cy="193.1" r="1.02" fill="none" stroke="#2b2b2b" stroke-width="0.7"/>
<g transform="translate(1061.23 180.33) rotate(90)" fill="none" stroke="#2b2b2b" stroke-width="0.9"><rect x="-6.7" y="-3.5" width="13.4" height="7" rx="0.35"/><path d="M-3.89 -3.5V3.5M3.89 -3.5V3.5"/></g>
<g transform="translate(1081.92 187.74)" fill="none" stroke="#2b2b2b" stroke-width="0.9"><rect x="-6.7" y="-3.5" width="13.4" height="7" rx="0.35"/><path d="M-3.89 -3.5V3.5M3.89 -3.5V3.5"/></g>
<g transform="translate(1041.56 212.26)" fill="none" stroke="#2b2b2b" stroke-width="0.9"><rect x="-6.7" y="-3.5" width="13.4" height="7" rx="0.35"/><path d="M-3.89 -3.5V3.5M3.89 -3.5V3.5"/></g>
<g transform="translate(1041.56 228.1)" fill="none" stroke="#2b2b2b" stroke-width="0.9"><rect x="-6.7" y="-3.5" width="13.4" height="7" rx="0.35"/><path d="M-3.89 -3.5V3.5M3.89 -3.5V3.5"/></g>
<g transform="translate(1072.72 205.11)"><rect x="-10.25" y="-5.1" width="20.5" height="10.2" rx="1" fill="#fff" stroke="#111" stroke-width="1.3"/><path d="M-5.95 -5.1V5.1M5.95 -5.1V5.1" stroke="#2b2b2b" stroke-width="0.8"/><rect x="-4.5" y="-1.3" width="9" height="2.6" fill="#222"/><path d="M-2.5 -5.1Q0 -1.9 2.5 -5.1M-2.5 5.1Q0 1.9 2.5 5.1" stroke="#2b2b2b" stroke-width="0.7" fill="none"/></g>
<g transform="translate(1099.54 216.35)" fill="none" stroke="#2b2b2b" stroke-width="0.9"><rect x="-6.7" y="-3.5" width="13.4" height="7" rx="0.35"/><path d="M-3.89 -3.5V3.5M3.89 -3.5V3.5"/></g>
<g transform="translate(1109.5 171.39)" fill="none" stroke="#2b2b2b" stroke-width="0.9"><rect x="-6.7" y="-3.5" width="13.4" height="7" rx="0.35"/><path d="M-3.89 -3.5V3.5M3.89 -3.5V3.5"/></g>
<rect x="1148.33" y="168.58" width="11.75" height="8.94" fill="none" stroke="#2b2b2b" stroke-width="0.9"/>
<g transform="translate(1139.64 190.55)" fill="none" stroke="#2b2b2b" stroke-width="0.9"><rect x="-6.7" y="-3.5" width="13.4" height="7" rx="0.35"/><path d="M-3.89 -3.5V3.5M3.89 -3.5V3.5"/></g>
<g transform="translate(1165.44 190.55)" fill="none" stroke="#2b2b2b" stroke-width="0.9"><rect x="-6.7" y="-3.5" width="13.4" height="7" rx="0.35"/><path d="M-3.89 -3.5V3.5M3.89 -3.5V3.5"/></g>
<g transform="translate(1125.34 206.64)" fill="none" stroke="#2b2b2b" stroke-width="0.9"><rect x="-6.7" y="-3.5" width="13.4" height="7" rx="0.35"/><path d="M-3.89 -3.5V3.5M3.89 -3.5V3.5"/></g>
<g transform="translate(1146.03 211.49) rotate(90)" fill="none" stroke="#2b2b2b" stroke-width="0.9"><rect x="-6.7" y="-3.5" width="13.4" height="7" rx="0.35"/><path d="M-3.89 -3.5V3.5M3.89 -3.5V3.5"/></g>
<g transform="translate(1160.59 211.49) rotate(90)" fill="none" stroke="#2b2b2b" stroke-width="0.9"><rect x="-6.7" y="-3.5" width="13.4" height="7" rx="0.35"/><path d="M-3.89 -3.5V3.5M3.89 -3.5V3.5"/></g>
<g transform="translate(1084.47 257.98)" fill="none" stroke="#2b2b2b" stroke-width="0.9"><rect x="-6.7" y="-3.5" width="13.4" height="7" rx="0.35"/><path d="M-3.89 -3.5V3.5M3.89 -3.5V3.5"/></g>
<g transform="translate(1084.47 272.29)" fill="none" stroke="#2b2b2b" stroke-width="0.9"><rect x="-6.7" y="-3.5" width="13.4" height="7" rx="0.35"/><path d="M-3.89 -3.5V3.5M3.89 -3.5V3.5"/></g>
<g transform="translate(1084.47 286.85)" fill="none" stroke="#2b2b2b" stroke-width="0.9"><rect x="-6.7" y="-3.5" width="13.4" height="7" rx="0.35"/><path d="M-3.89 -3.5V3.5M3.89 -3.5V3.5"/></g>
<rect x="1106.42" y="236.39" width="13.3" height="5.9" fill="none" stroke="#2b2b2b" stroke-width="0.9"/>
<line x1="1112.02" y1="236.39" x2="1112.02" y2="242.29" stroke="#2b2b2b" stroke-width="0.8"/>
<line x1="1114.42" y1="236.39" x2="1114.42" y2="242.29" stroke="#2b2b2b" stroke-width="0.8"/>
<rect x="1169.53" y="236.39" width="13.3" height="5.9" fill="none" stroke="#2b2b2b" stroke-width="0.9"/>
<line x1="1177.23" y1="236.39" x2="1177.23" y2="242.29" stroke="#2b2b2b" stroke-width="0.8"/>
<line x1="1174.83" y1="236.39" x2="1174.83" y2="242.29" stroke="#2b2b2b" stroke-width="0.8"/>
<rect x="1106.42" y="252.22" width="13.3" height="5.9" fill="none" stroke="#2b2b2b" stroke-width="0.9"/>
<line x1="1112.02" y1="252.22" x2="1112.02" y2="258.12" stroke="#2b2b2b" stroke-width="0.8"/>
<line x1="1114.42" y1="252.22" x2="1114.42" y2="258.12" stroke="#2b2b2b" stroke-width="0.8"/>
<rect x="1169.53" y="252.22" width="13.3" height="5.9" fill="none" stroke="#2b2b2b" stroke-width="0.9"/>
<line x1="1177.23" y1="252.22" x2="1177.23" y2="258.12" stroke="#2b2b2b" stroke-width="0.8"/>
<line x1="1174.83" y1="252.22" x2="1174.83" y2="258.12" stroke="#2b2b2b" stroke-width="0.8"/>
<rect x="1106.42" y="268.06" width="13.3" height="5.9" fill="none" stroke="#2b2b2b" stroke-width="0.9"/>
<line x1="1112.02" y1="268.06" x2="1112.02" y2="273.96" stroke="#2b2b2b" stroke-width="0.8"/>
<line x1="1114.42" y1="268.06" x2="1114.42" y2="273.96" stroke="#2b2b2b" stroke-width="0.8"/>
<rect x="1169.53" y="268.06" width="13.3" height="5.9" fill="none" stroke="#2b2b2b" stroke-width="0.9"/>
<line x1="1177.23" y1="268.06" x2="1177.23" y2="273.96" stroke="#2b2b2b" stroke-width="0.8"/>
<line x1="1174.83" y1="268.06" x2="1174.83" y2="273.96" stroke="#2b2b2b" stroke-width="0.8"/>
<rect x="1106.42" y="283.9" width="13.3" height="5.9" fill="none" stroke="#2b2b2b" stroke-width="0.9"/>
<line x1="1112.02" y1="283.9" x2="1112.02" y2="289.8" stroke="#2b2b2b" stroke-width="0.8"/>
<line x1="1114.42" y1="283.9" x2="1114.42" y2="289.8" stroke="#2b2b2b" stroke-width="0.8"/>
<rect x="1169.53" y="283.9" width="13.3" height="5.9" fill="none" stroke="#2b2b2b" stroke-width="0.9"/>
<line x1="1177.23" y1="283.9" x2="1177.23" y2="289.8" stroke="#2b2b2b" stroke-width="0.8"/>
<line x1="1174.83" y1="283.9" x2="1174.83" y2="289.8" stroke="#2b2b2b" stroke-width="0.8"/>
<rect x="1119.72" y="232.69" width="49.81" height="61.05" fill="#fff" stroke="#2b2b2b" stroke-width="0.9"/>
<line x1="1119.72" y1="232.69" x2="1169.53" y2="232.69" stroke="#111" stroke-width="1.6"/>
<line x1="1126.12" y1="232.69" x2="1126.12" y2="293.74" stroke="#2b2b2b" stroke-width="0.9"/>
<line x1="1167.73" y1="232.69" x2="1167.73" y2="293.74" stroke="#2b2b2b" stroke-width="0.9"/>
<g transform="translate(1129.43 310.86)" fill="none" stroke="#2b2b2b" stroke-width="0.9"><rect x="-6.7" y="-3.5" width="13.4" height="7" rx="0.35"/><path d="M-3.89 -3.5V3.5M3.89 -3.5V3.5"/></g>
<rect x="1148.57" y="308.46" width="32.2" height="4.8" fill="none" stroke="#2b2b2b" stroke-width="0.9"/>
<rect x="1154.07" y="303.56" width="21.2" height="14.6" fill="#fff" stroke="#111" stroke-width="2"/>
<line x1="1160.43" y1="303.56" x2="1160.43" y2="318.16" stroke="#2b2b2b" stroke-width="0.9"/>
<text class="t" dx="-1.04" x="1009.89" y="290.42" font-size="23.1" text-anchor="start" fill="#111" font-weight="normal" stroke="#fff" stroke-width="0.22">FC</text>
<text class="t" dx="-1.04" x="1009.89" y="313.67" font-size="23.1" text-anchor="start" fill="#111" font-weight="normal" stroke="#fff" stroke-width="0.22">SD</text>
<g>
<rect x="831.27" y="142.35" width="36.45" height="3.16" fill="none" stroke="#2b2b2b" stroke-width="0.9"/>
<path d="M964.4 145.51 L964.4 142.35 L1007.32 142.35 L1007.32 151.08 L1002.95 151.08" fill="none" stroke="#2b2b2b" stroke-width="0.9"/>
<path d="M964.4 310.27 L964.4 315.24 L1007.02 315.24 L1007.02 306.96 L1002.95 306.96" fill="none" stroke="#2b2b2b" stroke-width="0.9"/>
<rect x="1002.95" y="220.36" width="4.07" height="13.55" fill="none" stroke="#2b2b2b" stroke-width="0.8"/>
<path d="M825.24 145.51 L1001.75 145.51 L1002.95 147.02 L1002.95 309.97" fill="none" stroke="#2b2b2b" stroke-width="0.9"/>
<path d="M825.24 147.02 L1000.54 147.02 L1000.54 308.46 L860.93 308.46" fill="none" stroke="#2b2b2b" stroke-width="0.9"/>
<path d="M860.93 310.27 L1001.75 310.27 L1002.95 309.22" fill="none" stroke="#2b2b2b" stroke-width="0.9"/>
<line x1="1001.75" y1="147.02" x2="1001.75" y2="309.22" stroke="#777" stroke-width="0.6"/>
<line x1="827.35" y1="147.02" x2="827.35" y2="301.69" stroke="#2b2b2b" stroke-width="0.9"/>
<rect x="874.49" y="145.81" width="32.38" height="3.01" rx="1" fill="#444" stroke="#2b2b2b" stroke-width="0.6"/>
<line x1="825.24" y1="146.27" x2="1000.54" y2="146.27" stroke="#888" stroke-width="1.2"/>
<line x1="860.93" y1="309.37" x2="1001.75" y2="309.37" stroke="#888" stroke-width="1.4"/>
<circle cx="1001.3" cy="158.31" r="0.9" fill="none" stroke="#2b2b2b" stroke-width="0.7"/>
<circle cx="1001.3" cy="298.98" r="0.9" fill="none" stroke="#2b2b2b" stroke-width="0.7"/>
<path d="M827.35 149.28Q827.35 154.1 831.27 154.1H862.44Q865.45 154.1 865.45 157.11V264.79Q865.45 268.55 861.69 269.76L833.83 276.08H827.35" fill="none" stroke="#2b2b2b" stroke-width="0.9"/>
<rect x="836.08" y="157.11" width="15.81" height="9.64" fill="none" stroke="#2b2b2b" stroke-width="0.9"/>
<rect x="839.1" y="159.37" width="10.84" height="5.12" fill="none" stroke="#2b2b2b" stroke-width="0.9"/>
<line x1="846.93" y1="159.37" x2="846.93" y2="164.49" stroke="#2b2b2b" stroke-width="0.9"/>
<path d="M851.9 158.61 L855.36 158.61 L855.36 165.24 L851.9 165.24" fill="none" stroke="#2b2b2b" stroke-width="0.9"/>
<line x1="855.36" y1="168.86" x2="865.45" y2="168.86" stroke="#333" stroke-width="2.2"/>
<line x1="855.36" y1="165.24" x2="855.36" y2="172.47" stroke="#2b2b2b" stroke-width="0.8"/>
<rect x="836.08" y="170.81" width="15.81" height="9.64" fill="none" stroke="#2b2b2b" stroke-width="0.9"/>
<rect x="839.1" y="173.07" width="10.84" height="5.12" fill="none" stroke="#2b2b2b" stroke-width="0.9"/>
<line x1="846.93" y1="173.07" x2="846.93" y2="178.19" stroke="#2b2b2b" stroke-width="0.9"/>
<path d="M851.9 172.32 L855.36 172.32 L855.36 178.95 L851.9 178.95" fill="none" stroke="#2b2b2b" stroke-width="0.9"/>
<line x1="855.36" y1="182.56" x2="865.45" y2="182.56" stroke="#333" stroke-width="2.2"/>
<line x1="855.36" y1="178.95" x2="855.36" y2="186.17" stroke="#2b2b2b" stroke-width="0.8"/>
<rect x="836.08" y="184.67" width="15.81" height="9.64" fill="none" stroke="#2b2b2b" stroke-width="0.9"/>
<rect x="839.1" y="186.93" width="10.84" height="5.12" fill="none" stroke="#2b2b2b" stroke-width="0.9"/>
<line x1="846.93" y1="186.93" x2="846.93" y2="192.05" stroke="#2b2b2b" stroke-width="0.9"/>
<path d="M851.9 186.17 L855.36 186.17 L855.36 192.8 L851.9 192.8" fill="none" stroke="#2b2b2b" stroke-width="0.9"/>
<line x1="855.36" y1="196.42" x2="865.45" y2="196.42" stroke="#333" stroke-width="2.2"/>
<line x1="855.36" y1="192.8" x2="855.36" y2="200.03" stroke="#2b2b2b" stroke-width="0.8"/>
<rect x="836.08" y="198.52" width="15.81" height="9.64" fill="none" stroke="#2b2b2b" stroke-width="0.9"/>
<rect x="839.1" y="200.78" width="10.84" height="5.12" fill="none" stroke="#2b2b2b" stroke-width="0.9"/>
<line x1="846.93" y1="200.78" x2="846.93" y2="205.9" stroke="#2b2b2b" stroke-width="0.9"/>
<path d="M851.9 200.03 L855.36 200.03 L855.36 206.66 L851.9 206.66" fill="none" stroke="#2b2b2b" stroke-width="0.9"/>
<line x1="855.36" y1="210.27" x2="865.45" y2="210.27" stroke="#333" stroke-width="2.2"/>
<line x1="855.36" y1="206.66" x2="855.36" y2="213.89" stroke="#2b2b2b" stroke-width="0.8"/>
<rect x="836.08" y="212.23" width="15.81" height="9.64" fill="none" stroke="#2b2b2b" stroke-width="0.9"/>
<rect x="839.1" y="214.49" width="10.84" height="5.12" fill="none" stroke="#2b2b2b" stroke-width="0.9"/>
<line x1="846.93" y1="214.49" x2="846.93" y2="219.61" stroke="#2b2b2b" stroke-width="0.9"/>
<path d="M851.9 213.73 L855.36 213.73 L855.36 220.36 L851.9 220.36" fill="none" stroke="#2b2b2b" stroke-width="0.9"/>
<line x1="855.36" y1="223.98" x2="865.45" y2="223.98" stroke="#333" stroke-width="2.2"/>
<line x1="855.36" y1="220.36" x2="855.36" y2="227.59" stroke="#2b2b2b" stroke-width="0.8"/>
<rect x="836.08" y="226.08" width="15.81" height="9.64" fill="none" stroke="#2b2b2b" stroke-width="0.9"/>
<rect x="839.1" y="228.34" width="10.84" height="5.12" fill="none" stroke="#2b2b2b" stroke-width="0.9"/>
<line x1="846.93" y1="228.34" x2="846.93" y2="233.46" stroke="#2b2b2b" stroke-width="0.9"/>
<path d="M851.9 227.59 L855.36 227.59 L855.36 234.22 L851.9 234.22" fill="none" stroke="#2b2b2b" stroke-width="0.9"/>
<line x1="855.36" y1="237.83" x2="865.45" y2="237.83" stroke="#333" stroke-width="2.2"/>
<line x1="855.36" y1="234.22" x2="855.36" y2="241.45" stroke="#2b2b2b" stroke-width="0.8"/>
<rect x="836.08" y="239.94" width="15.81" height="9.64" fill="none" stroke="#2b2b2b" stroke-width="0.9"/>
<rect x="839.1" y="242.2" width="10.84" height="5.12" fill="none" stroke="#2b2b2b" stroke-width="0.9"/>
<line x1="846.93" y1="242.2" x2="846.93" y2="247.32" stroke="#2b2b2b" stroke-width="0.9"/>
<path d="M851.9 241.45 L855.36 241.45 L855.36 248.07 L851.9 248.07" fill="none" stroke="#2b2b2b" stroke-width="0.9"/>
<line x1="855.36" y1="251.69" x2="865.45" y2="251.69" stroke="#333" stroke-width="2.2"/>
<line x1="855.36" y1="248.07" x2="855.36" y2="255.3" stroke="#2b2b2b" stroke-width="0.8"/>
<rect x="836.08" y="253.95" width="15.81" height="9.64" fill="none" stroke="#2b2b2b" stroke-width="0.9"/>
<rect x="839.1" y="256.2" width="10.84" height="5.12" fill="none" stroke="#2b2b2b" stroke-width="0.9"/>
<line x1="846.93" y1="256.2" x2="846.93" y2="261.33" stroke="#2b2b2b" stroke-width="0.9"/>
<path d="M851.9 255.45 L855.36 255.45 L855.36 262.08 L851.9 262.08" fill="none" stroke="#2b2b2b" stroke-width="0.9"/>
<line x1="855.36" y1="154.1" x2="855.36" y2="158.61" stroke="#2b2b2b" stroke-width="0.8"/>
<line x1="855.36" y1="262.08" x2="855.36" y2="270.81" stroke="#2b2b2b" stroke-width="0.8"/>
<rect x="935.48" y="156.36" width="21.08" height="10.24" rx="5.1" fill="none" stroke="#2b2b2b" stroke-width="0.9"/>
<rect x="937.59" y="158.31" width="16.87" height="6.33" rx="3.2" fill="none" stroke="#2b2b2b" stroke-width="0.9"/>
<line x1="942.26" y1="159.67" x2="942.26" y2="163.28" stroke="#2b2b2b" stroke-width="1.1"/>
<rect x="935.48" y="170.21" width="21.08" height="10.24" rx="5.1" fill="none" stroke="#2b2b2b" stroke-width="0.9"/>
<rect x="937.59" y="172.17" width="16.87" height="6.33" rx="3.2" fill="none" stroke="#2b2b2b" stroke-width="0.9"/>
<line x1="942.26" y1="173.52" x2="942.26" y2="177.14" stroke="#2b2b2b" stroke-width="1.1"/>
<rect x="932.17" y="183.92" width="21.08" height="10.24" rx="5.1" fill="none" stroke="#2b2b2b" stroke-width="0.9"/>
<rect x="934.28" y="185.87" width="16.87" height="6.33" rx="3.2" fill="none" stroke="#2b2b2b" stroke-width="0.9"/>
<line x1="938.95" y1="187.23" x2="938.95" y2="190.84" stroke="#2b2b2b" stroke-width="1.1"/>
<rect x="935.48" y="197.77" width="21.08" height="10.24" rx="5.1" fill="none" stroke="#2b2b2b" stroke-width="0.9"/>
<rect x="937.59" y="199.73" width="16.87" height="6.33" rx="3.2" fill="none" stroke="#2b2b2b" stroke-width="0.9"/>
<line x1="942.26" y1="201.08" x2="942.26" y2="204.7" stroke="#2b2b2b" stroke-width="1.1"/>
<rect x="932.17" y="211.63" width="21.08" height="10.24" rx="5.1" fill="none" stroke="#2b2b2b" stroke-width="0.9"/>
<rect x="934.28" y="213.58" width="16.87" height="6.33" rx="3.2" fill="none" stroke="#2b2b2b" stroke-width="0.9"/>
<line x1="938.95" y1="214.94" x2="938.95" y2="218.55" stroke="#2b2b2b" stroke-width="1.1"/>
<rect x="935.48" y="225.33" width="21.08" height="10.24" rx="5.1" fill="none" stroke="#2b2b2b" stroke-width="0.9"/>
<rect x="937.59" y="227.29" width="16.87" height="6.33" rx="3.2" fill="none" stroke="#2b2b2b" stroke-width="0.9"/>
<line x1="942.26" y1="228.64" x2="942.26" y2="232.26" stroke="#2b2b2b" stroke-width="1.1"/>
<rect x="939.25" y="239.49" width="21.08" height="10.24" rx="5.1" fill="none" stroke="#2b2b2b" stroke-width="0.9"/>
<rect x="941.36" y="241.45" width="16.87" height="6.33" rx="3.2" fill="none" stroke="#2b2b2b" stroke-width="0.9"/>
<line x1="946.02" y1="242.8" x2="946.02" y2="246.42" stroke="#2b2b2b" stroke-width="1.1"/>
<path d="M928.25 258.01 L935.48 253.49 L956.57 253.49 L956.57 275.33 L954.31 275.33 L954.31 270.81 L930.96 270.81 L930.96 275.33 L928.25 275.33 Z" fill="none" stroke="#2b2b2b" stroke-width="0.9"/>
<line x1="928.25" y1="260.27" x2="956.57" y2="260.27" stroke="#2b2b2b" stroke-width="0.8"/>
<line x1="929.46" y1="265.54" x2="956.57" y2="265.54" stroke="#2b2b2b" stroke-width="0.8"/>
<line x1="935.48" y1="269.31" x2="954.31" y2="269.31" stroke="#555" stroke-width="2"/>
<line x1="942.26" y1="256.51" x2="942.26" y2="260.27" stroke="#2b2b2b" stroke-width="1.1"/>
<line x1="928.25" y1="258.01" x2="956.57" y2="258.01" stroke="#2b2b2b" stroke-width="0.7"/>
<path d="M965.6 261.48 L986.69 261.48 L986.69 275.33 L984.43 275.33 L984.43 272.32 L967.86 272.32 L967.86 275.33 L965.6 275.33 Z" fill="none" stroke="#2b2b2b" stroke-width="0.9"/>
<path d="M972.38 261.48A4.22 4.82 0 0 0 980.66 261.48" fill="none" stroke="#2b2b2b" stroke-width="0.9"/>
<line x1="967.86" y1="261.48" x2="967.86" y2="272.32" stroke="#2b2b2b" stroke-width="0.7"/>
<line x1="984.43" y1="261.48" x2="984.43" y2="272.32" stroke="#2b2b2b" stroke-width="0.7"/>
<rect x="963.34" y="153.8" width="33.89" height="30.12" rx="3" fill="none" stroke="#2b2b2b" stroke-width="0.9"/>
<path d="M963.34 157.86 L970.12 154.85 L994.22 153.34 L996.48 156.36 L996.48 181.2 L994.22 183.01" fill="none" stroke="#2b2b2b" stroke-width="0.8"/>
<path d="M967.86 181.2 L967.86 164.64 L971.63 160.12 L976.14 160.12 L976.14 157.86 L989.7 157.86 L989.7 168.4 L985.18 168.4 L985.18 183.01" fill="none" stroke="#2b2b2b" stroke-width="0.8"/>
<path d="M971.63 183.01 L971.63 170.66 L980.66 167.65 L980.66 162.38 L988.19 162.38" fill="none" stroke="#2b2b2b" stroke-width="0.7"/>
<path d="M974.64 183.01 L976.9 173.67 L982.17 172.92 L982.17 183.01" fill="none" stroke="#2b2b2b" stroke-width="0.7"/>
<path d="M965.6 175.18 L967.11 164.64 L970.12 157.11" fill="none" stroke="#2b2b2b" stroke-width="0.7"/>
<line x1="976.9" y1="159.37" x2="988.95" y2="159.37" stroke="#2b2b2b" stroke-width="0.6"/>
<line x1="976.9" y1="160.87" x2="988.95" y2="160.87" stroke="#2b2b2b" stroke-width="0.6"/>
<line x1="994.97" y1="155.6" x2="994.97" y2="181.96" stroke="#2b2b2b" stroke-width="0.7"/>
<line x1="993.46" y1="160.12" x2="993.46" y2="175.18" stroke="#2b2b2b" stroke-width="0.6"/>
<path d="M964.1 173.67 L971.63 179.7 L973.13 183.01" fill="none" stroke="#2b2b2b" stroke-width="0.7"/>
<path d="M982.47 224.13 L1002.95 223.37 L1002.95 247.77 L988.19 247.77 Z" fill="none" stroke="#2b2b2b" stroke-width="0.9"/>
<path d="M985.93 224.88 L991.2 246.72" fill="none" stroke="#2b2b2b" stroke-width="0.8"/>
<path d="M989.7 224.13 L989.7 235.42 L993.46 236.17 L993.46 246.72" fill="none" stroke="#2b2b2b" stroke-width="0.8"/>
<path d="M994.97 224.13 L994.97 230.15 L998.73 230.15 L998.73 246.72" fill="none" stroke="#2b2b2b" stroke-width="0.8"/>
<rect x="992.71" y="237.23" width="5.27" height="1.51" fill="#444" stroke="#2b2b2b" stroke-width="0.5"/>
<line x1="991.96" y1="240.69" x2="998.73" y2="240.69" stroke="#2b2b2b" stroke-width="0.6"/>
<line x1="991.96" y1="242.95" x2="998.73" y2="242.95" stroke="#2b2b2b" stroke-width="0.6"/>
<rect x="993.46" y="269.31" width="9.49" height="24.1" fill="none" stroke="#2b2b2b" stroke-width="0.9"/>
<rect x="996.48" y="270.81" width="6.48" height="21.08" fill="none" stroke="#2b2b2b" stroke-width="0.8"/>
<rect x="997.98" y="276.08" width="9.34" height="11.3" fill="none" stroke="#2b2b2b" stroke-width="0.9"/>
<rect x="999.49" y="278.34" width="3.46" height="6.78" fill="none" stroke="#2b2b2b" stroke-width="0.7"/>
<line x1="994.97" y1="269.31" x2="994.97" y2="293.4" stroke="#2b2b2b" stroke-width="0.6"/>
<rect x="831.27" y="301.69" width="24.4" height="13.55" fill="none" stroke="#2b2b2b" stroke-width="0.9"/>
<path d="M834.28 310.27V304.7Q834.28 303.19 835.78 303.19H851.45Q852.95 303.19 852.95 304.7V310.27" fill="none" stroke="#2b2b2b" stroke-width="0.9"/>
<line x1="834.28" y1="310.27" x2="852.95" y2="310.27" stroke="#2b2b2b" stroke-width="0.9"/>
<path d="M855.66 303.19 L860.93 309.22 L855.66 309.22" fill="none" stroke="#2b2b2b" stroke-width="0.8"/>
<line x1="827.35" y1="301.69" x2="831.27" y2="301.69" stroke="#2b2b2b" stroke-width="0.9"/>
<rect x="824.79" y="278.34" width="4.82" height="9.79" fill="none" stroke="#2b2b2b" stroke-width="0.9"/>
<rect x="825.24" y="279.85" width="1.81" height="6.78" fill="#999" stroke="#2b2b2b" stroke-width="0.5"/>
<path d="M827.35 276.08 L829.61 276.08 L829.61 278.34" fill="none" stroke="#2b2b2b" stroke-width="0.8"/>
<path d="M829.61 288.13 L829.61 301.69" fill="none" stroke="#2b2b2b" stroke-width="0.8"/>
<path d="M872.53 299.43V292.95Q872.53 290.84 874.64 290.84H907.92V301.69H904.76Q904.76 301.69 904.76 299.43V296.42" fill="none" stroke="#2b2b2b" stroke-width="0.9"/>
<path d="M872.53 299.43Q871.02 302.44 869.22 299.43V292.95Q869.22 290.84 871.48 290.84H874.64" fill="none" stroke="#2b2b2b" stroke-width="0.9"/>
<line x1="872.53" y1="294.46" x2="907.92" y2="294.46" stroke="#2b2b2b" stroke-width="0.8"/>
<line x1="872.53" y1="296.42" x2="904.76" y2="296.42" stroke="#2b2b2b" stroke-width="0.8"/>
<line x1="906.11" y1="290.84" x2="906.11" y2="301.69" stroke="#2b2b2b" stroke-width="0.7"/>
<path d="M924.94 286.63Q924.94 282.41 929.16 282.41H942.26Q945.27 282.41 945.27 285.12L946.02 285.87H955.81L968.61 294.91" fill="none" stroke="#2b2b2b" stroke-width="0.9"/>
<path d="M924.94 286.63 L924.94 298.67 L933.98 309.97" fill="none" stroke="#2b2b2b" stroke-width="0.9"/>
<path d="M929.46 298.67 L929.46 288.13 L931.72 286.33 L940 286.33 L941.81 288.13 L941.81 295.66 L944.52 297.47 L968.61 294.91 L968.61 297.17 L944.52 297.47" fill="none" stroke="#2b2b2b" stroke-width="0.8"/>
<path d="M929.46 298.67 L937.74 306.96 L968.61 306.96 L968.61 309.97" fill="none" stroke="#2b2b2b" stroke-width="0.8"/>
<path d="M946.02 285.87 L946.02 288.89 L956.57 288.89" fill="none" stroke="#2b2b2b" stroke-width="0.6"/>
<path d="M944.52 294.16 L956.57 289.64 L962.59 291.9" fill="none" stroke="#2b2b2b" stroke-width="0.7"/>
<path d="M925.69 297.17 L929.46 297.17 L935.48 304.7 L932.47 307.71" fill="none" stroke="#2b2b2b" stroke-width="0.7"/>
<path d="M926.45 299.43 L930.96 304.7" fill="none" stroke="#2b2b2b" stroke-width="0.6"/>
<path d="M927.2 286.63 L927.2 297.17" fill="none" stroke="#2b2b2b" stroke-width="0.7"/>
</g>
<g transform="translate(524.45 -2.4) rotate(180 916.05 228.8)">
<rect x="831.27" y="142.35" width="36.45" height="3.16" fill="none" stroke="#2b2b2b" stroke-width="0.9"/>
<path d="M964.4 145.51 L964.4 142.35 L1007.32 142.35 L1007.32 151.08 L1002.95 151.08" fill="none" stroke="#2b2b2b" stroke-width="0.9"/>
<path d="M964.4 310.27 L964.4 315.24 L1007.02 315.24 L1007.02 306.96 L1002.95 306.96" fill="none" stroke="#2b2b2b" stroke-width="0.9"/>
<rect x="1002.95" y="220.36" width="4.07" height="13.55" fill="none" stroke="#2b2b2b" stroke-width="0.8"/>
<path d="M825.24 145.51 L1001.75 145.51 L1002.95 147.02 L1002.95 309.97" fill="none" stroke="#2b2b2b" stroke-width="0.9"/>
<path d="M825.24 147.02 L1000.54 147.02 L1000.54 308.46 L860.93 308.46" fill="none" stroke="#2b2b2b" stroke-width="0.9"/>
<path d="M860.93 310.27 L1001.75 310.27 L1002.95 309.22" fill="none" stroke="#2b2b2b" stroke-width="0.9"/>
<line x1="1001.75" y1="147.02" x2="1001.75" y2="309.22" stroke="#777" stroke-width="0.6"/>
<line x1="827.35" y1="147.02" x2="827.35" y2="301.69" stroke="#2b2b2b" stroke-width="0.9"/>
<rect x="874.49" y="145.81" width="32.38" height="3.01" rx="1" fill="#444" stroke="#2b2b2b" stroke-width="0.6"/>
<line x1="825.24" y1="146.27" x2="1000.54" y2="146.27" stroke="#888" stroke-width="1.2"/>
<line x1="860.93" y1="309.37" x2="1001.75" y2="309.37" stroke="#888" stroke-width="1.4"/>
<circle cx="1001.3" cy="158.31" r="0.9" fill="none" stroke="#2b2b2b" stroke-width="0.7"/>
<circle cx="1001.3" cy="298.98" r="0.9" fill="none" stroke="#2b2b2b" stroke-width="0.7"/>
<path d="M827.35 149.28Q827.35 154.1 831.27 154.1H862.44Q865.45 154.1 865.45 157.11V264.79Q865.45 268.55 861.69 269.76L833.83 276.08H827.35" fill="none" stroke="#2b2b2b" stroke-width="0.9"/>
<rect x="836.08" y="157.11" width="15.81" height="9.64" fill="none" stroke="#2b2b2b" stroke-width="0.9"/>
<rect x="839.1" y="159.37" width="10.84" height="5.12" fill="none" stroke="#2b2b2b" stroke-width="0.9"/>
<line x1="846.93" y1="159.37" x2="846.93" y2="164.49" stroke="#2b2b2b" stroke-width="0.9"/>
<path d="M851.9 158.61 L855.36 158.61 L855.36 165.24 L851.9 165.24" fill="none" stroke="#2b2b2b" stroke-width="0.9"/>
<line x1="855.36" y1="168.86" x2="865.45" y2="168.86" stroke="#333" stroke-width="2.2"/>
<line x1="855.36" y1="165.24" x2="855.36" y2="172.47" stroke="#2b2b2b" stroke-width="0.8"/>
<rect x="836.08" y="170.81" width="15.81" height="9.64" fill="none" stroke="#2b2b2b" stroke-width="0.9"/>
<rect x="839.1" y="173.07" width="10.84" height="5.12" fill="none" stroke="#2b2b2b" stroke-width="0.9"/>
<line x1="846.93" y1="173.07" x2="846.93" y2="178.19" stroke="#2b2b2b" stroke-width="0.9"/>
<path d="M851.9 172.32 L855.36 172.32 L855.36 178.95 L851.9 178.95" fill="none" stroke="#2b2b2b" stroke-width="0.9"/>
<line x1="855.36" y1="182.56" x2="865.45" y2="182.56" stroke="#333" stroke-width="2.2"/>
<line x1="855.36" y1="178.95" x2="855.36" y2="186.17" stroke="#2b2b2b" stroke-width="0.8"/>
<rect x="836.08" y="184.67" width="15.81" height="9.64" fill="none" stroke="#2b2b2b" stroke-width="0.9"/>
<rect x="839.1" y="186.93" width="10.84" height="5.12" fill="none" stroke="#2b2b2b" stroke-width="0.9"/>
<line x1="846.93" y1="186.93" x2="846.93" y2="192.05" stroke="#2b2b2b" stroke-width="0.9"/>
<path d="M851.9 186.17 L855.36 186.17 L855.36 192.8 L851.9 192.8" fill="none" stroke="#2b2b2b" stroke-width="0.9"/>
<line x1="855.36" y1="196.42" x2="865.45" y2="196.42" stroke="#333" stroke-width="2.2"/>
<line x1="855.36" y1="192.8" x2="855.36" y2="200.03" stroke="#2b2b2b" stroke-width="0.8"/>
<rect x="836.08" y="198.52" width="15.81" height="9.64" fill="none" stroke="#2b2b2b" stroke-width="0.9"/>
<rect x="839.1" y="200.78" width="10.84" height="5.12" fill="none" stroke="#2b2b2b" stroke-width="0.9"/>
<line x1="846.93" y1="200.78" x2="846.93" y2="205.9" stroke="#2b2b2b" stroke-width="0.9"/>
<path d="M851.9 200.03 L855.36 200.03 L855.36 206.66 L851.9 206.66" fill="none" stroke="#2b2b2b" stroke-width="0.9"/>
<line x1="855.36" y1="210.27" x2="865.45" y2="210.27" stroke="#333" stroke-width="2.2"/>
<line x1="855.36" y1="206.66" x2="855.36" y2="213.89" stroke="#2b2b2b" stroke-width="0.8"/>
<rect x="836.08" y="212.23" width="15.81" height="9.64" fill="none" stroke="#2b2b2b" stroke-width="0.9"/>
<rect x="839.1" y="214.49" width="10.84" height="5.12" fill="none" stroke="#2b2b2b" stroke-width="0.9"/>
<line x1="846.93" y1="214.49" x2="846.93" y2="219.61" stroke="#2b2b2b" stroke-width="0.9"/>
<path d="M851.9 213.73 L855.36 213.73 L855.36 220.36 L851.9 220.36" fill="none" stroke="#2b2b2b" stroke-width="0.9"/>
<line x1="855.36" y1="223.98" x2="865.45" y2="223.98" stroke="#333" stroke-width="2.2"/>
<line x1="855.36" y1="220.36" x2="855.36" y2="227.59" stroke="#2b2b2b" stroke-width="0.8"/>
<rect x="836.08" y="226.08" width="15.81" height="9.64" fill="none" stroke="#2b2b2b" stroke-width="0.9"/>
<rect x="839.1" y="228.34" width="10.84" height="5.12" fill="none" stroke="#2b2b2b" stroke-width="0.9"/>
<line x1="846.93" y1="228.34" x2="846.93" y2="233.46" stroke="#2b2b2b" stroke-width="0.9"/>
<path d="M851.9 227.59 L855.36 227.59 L855.36 234.22 L851.9 234.22" fill="none" stroke="#2b2b2b" stroke-width="0.9"/>
<line x1="855.36" y1="237.83" x2="865.45" y2="237.83" stroke="#333" stroke-width="2.2"/>
<line x1="855.36" y1="234.22" x2="855.36" y2="241.45" stroke="#2b2b2b" stroke-width="0.8"/>
<rect x="836.08" y="239.94" width="15.81" height="9.64" fill="none" stroke="#2b2b2b" stroke-width="0.9"/>
<rect x="839.1" y="242.2" width="10.84" height="5.12" fill="none" stroke="#2b2b2b" stroke-width="0.9"/>
<line x1="846.93" y1="242.2" x2="846.93" y2="247.32" stroke="#2b2b2b" stroke-width="0.9"/>
<path d="M851.9 241.45 L855.36 241.45 L855.36 248.07 L851.9 248.07" fill="none" stroke="#2b2b2b" stroke-width="0.9"/>
<line x1="855.36" y1="251.69" x2="865.45" y2="251.69" stroke="#333" stroke-width="2.2"/>
<line x1="855.36" y1="248.07" x2="855.36" y2="255.3" stroke="#2b2b2b" stroke-width="0.8"/>
<rect x="836.08" y="253.95" width="15.81" height="9.64" fill="none" stroke="#2b2b2b" stroke-width="0.9"/>
<rect x="839.1" y="256.2" width="10.84" height="5.12" fill="none" stroke="#2b2b2b" stroke-width="0.9"/>
<line x1="846.93" y1="256.2" x2="846.93" y2="261.33" stroke="#2b2b2b" stroke-width="0.9"/>
<path d="M851.9 255.45 L855.36 255.45 L855.36 262.08 L851.9 262.08" fill="none" stroke="#2b2b2b" stroke-width="0.9"/>
<line x1="855.36" y1="154.1" x2="855.36" y2="158.61" stroke="#2b2b2b" stroke-width="0.8"/>
<line x1="855.36" y1="262.08" x2="855.36" y2="270.81" stroke="#2b2b2b" stroke-width="0.8"/>
<rect x="935.48" y="156.36" width="21.08" height="10.24" rx="5.1" fill="none" stroke="#2b2b2b" stroke-width="0.9"/>
<rect x="937.59" y="158.31" width="16.87" height="6.33" rx="3.2" fill="none" stroke="#2b2b2b" stroke-width="0.9"/>
<line x1="942.26" y1="159.67" x2="942.26" y2="163.28" stroke="#2b2b2b" stroke-width="1.1"/>
<rect x="935.48" y="170.21" width="21.08" height="10.24" rx="5.1" fill="none" stroke="#2b2b2b" stroke-width="0.9"/>
<rect x="937.59" y="172.17" width="16.87" height="6.33" rx="3.2" fill="none" stroke="#2b2b2b" stroke-width="0.9"/>
<line x1="942.26" y1="173.52" x2="942.26" y2="177.14" stroke="#2b2b2b" stroke-width="1.1"/>
<rect x="932.17" y="183.92" width="21.08" height="10.24" rx="5.1" fill="none" stroke="#2b2b2b" stroke-width="0.9"/>
<rect x="934.28" y="185.87" width="16.87" height="6.33" rx="3.2" fill="none" stroke="#2b2b2b" stroke-width="0.9"/>
<line x1="938.95" y1="187.23" x2="938.95" y2="190.84" stroke="#2b2b2b" stroke-width="1.1"/>
<rect x="935.48" y="197.77" width="21.08" height="10.24" rx="5.1" fill="none" stroke="#2b2b2b" stroke-width="0.9"/>
<rect x="937.59" y="199.73" width="16.87" height="6.33" rx="3.2" fill="none" stroke="#2b2b2b" stroke-width="0.9"/>
<line x1="942.26" y1="201.08" x2="942.26" y2="204.7" stroke="#2b2b2b" stroke-width="1.1"/>
<rect x="932.17" y="211.63" width="21.08" height="10.24" rx="5.1" fill="none" stroke="#2b2b2b" stroke-width="0.9"/>
<rect x="934.28" y="213.58" width="16.87" height="6.33" rx="3.2" fill="none" stroke="#2b2b2b" stroke-width="0.9"/>
<line x1="938.95" y1="214.94" x2="938.95" y2="218.55" stroke="#2b2b2b" stroke-width="1.1"/>
<rect x="935.48" y="225.33" width="21.08" height="10.24" rx="5.1" fill="none" stroke="#2b2b2b" stroke-width="0.9"/>
<rect x="937.59" y="227.29" width="16.87" height="6.33" rx="3.2" fill="none" stroke="#2b2b2b" stroke-width="0.9"/>
<line x1="942.26" y1="228.64" x2="942.26" y2="232.26" stroke="#2b2b2b" stroke-width="1.1"/>
<rect x="939.25" y="239.49" width="21.08" height="10.24" rx="5.1" fill="none" stroke="#2b2b2b" stroke-width="0.9"/>
<rect x="941.36" y="241.45" width="16.87" height="6.33" rx="3.2" fill="none" stroke="#2b2b2b" stroke-width="0.9"/>
<line x1="946.02" y1="242.8" x2="946.02" y2="246.42" stroke="#2b2b2b" stroke-width="1.1"/>
<path d="M928.25 258.01 L935.48 253.49 L956.57 253.49 L956.57 275.33 L954.31 275.33 L954.31 270.81 L930.96 270.81 L930.96 275.33 L928.25 275.33 Z" fill="none" stroke="#2b2b2b" stroke-width="0.9"/>
<line x1="928.25" y1="260.27" x2="956.57" y2="260.27" stroke="#2b2b2b" stroke-width="0.8"/>
<line x1="929.46" y1="265.54" x2="956.57" y2="265.54" stroke="#2b2b2b" stroke-width="0.8"/>
<line x1="935.48" y1="269.31" x2="954.31" y2="269.31" stroke="#555" stroke-width="2"/>
<line x1="942.26" y1="256.51" x2="942.26" y2="260.27" stroke="#2b2b2b" stroke-width="1.1"/>
<line x1="928.25" y1="258.01" x2="956.57" y2="258.01" stroke="#2b2b2b" stroke-width="0.7"/>
<path d="M965.6 261.48 L986.69 261.48 L986.69 275.33 L984.43 275.33 L984.43 272.32 L967.86 272.32 L967.86 275.33 L965.6 275.33 Z" fill="none" stroke="#2b2b2b" stroke-width="0.9"/>
<path d="M972.38 261.48A4.22 4.82 0 0 0 980.66 261.48" fill="none" stroke="#2b2b2b" stroke-width="0.9"/>
<line x1="967.86" y1="261.48" x2="967.86" y2="272.32" stroke="#2b2b2b" stroke-width="0.7"/>
<line x1="984.43" y1="261.48" x2="984.43" y2="272.32" stroke="#2b2b2b" stroke-width="0.7"/>
<rect x="963.34" y="153.8" width="33.89" height="30.12" rx="3" fill="none" stroke="#2b2b2b" stroke-width="0.9"/>
<path d="M963.34 157.86 L970.12 154.85 L994.22 153.34 L996.48 156.36 L996.48 181.2 L994.22 183.01" fill="none" stroke="#2b2b2b" stroke-width="0.8"/>
<path d="M967.86 181.2 L967.86 164.64 L971.63 160.12 L976.14 160.12 L976.14 157.86 L989.7 157.86 L989.7 168.4 L985.18 168.4 L985.18 183.01" fill="none" stroke="#2b2b2b" stroke-width="0.8"/>
<path d="M971.63 183.01 L971.63 170.66 L980.66 167.65 L980.66 162.38 L988.19 162.38" fill="none" stroke="#2b2b2b" stroke-width="0.7"/>
<path d="M974.64 183.01 L976.9 173.67 L982.17 172.92 L982.17 183.01" fill="none" stroke="#2b2b2b" stroke-width="0.7"/>
<path d="M965.6 175.18 L967.11 164.64 L970.12 157.11" fill="none" stroke="#2b2b2b" stroke-width="0.7"/>
<line x1="976.9" y1="159.37" x2="988.95" y2="159.37" stroke="#2b2b2b" stroke-width="0.6"/>
<line x1="976.9" y1="160.87" x2="988.95" y2="160.87" stroke="#2b2b2b" stroke-width="0.6"/>
<line x1="994.97" y1="155.6" x2="994.97" y2="181.96" stroke="#2b2b2b" stroke-width="0.7"/>
<line x1="993.46" y1="160.12" x2="993.46" y2="175.18" stroke="#2b2b2b" stroke-width="0.6"/>
<path d="M964.1 173.67 L971.63 179.7 L973.13 183.01" fill="none" stroke="#2b2b2b" stroke-width="0.7"/>
<path d="M982.47 224.13 L1002.95 223.37 L1002.95 247.77 L988.19 247.77 Z" fill="none" stroke="#2b2b2b" stroke-width="0.9"/>
<path d="M985.93 224.88 L991.2 246.72" fill="none" stroke="#2b2b2b" stroke-width="0.8"/>
<path d="M989.7 224.13 L989.7 235.42 L993.46 236.17 L993.46 246.72" fill="none" stroke="#2b2b2b" stroke-width="0.8"/>
<path d="M994.97 224.13 L994.97 230.15 L998.73 230.15 L998.73 246.72" fill="none" stroke="#2b2b2b" stroke-width="0.8"/>
<rect x="992.71" y="237.23" width="5.27" height="1.51" fill="#444" stroke="#2b2b2b" stroke-width="0.5"/>
<line x1="991.96" y1="240.69" x2="998.73" y2="240.69" stroke="#2b2b2b" stroke-width="0.6"/>
<line x1="991.96" y1="242.95" x2="998.73" y2="242.95" stroke="#2b2b2b" stroke-width="0.6"/>
<rect x="993.46" y="269.31" width="9.49" height="24.1" fill="none" stroke="#2b2b2b" stroke-width="0.9"/>
<rect x="996.48" y="270.81" width="6.48" height="21.08" fill="none" stroke="#2b2b2b" stroke-width="0.8"/>
<rect x="997.98" y="276.08" width="9.34" height="11.3" fill="none" stroke="#2b2b2b" stroke-width="0.9"/>
<rect x="999.49" y="278.34" width="3.46" height="6.78" fill="none" stroke="#2b2b2b" stroke-width="0.7"/>
<line x1="994.97" y1="269.31" x2="994.97" y2="293.4" stroke="#2b2b2b" stroke-width="0.6"/>
<rect x="831.27" y="301.69" width="24.4" height="13.55" fill="none" stroke="#2b2b2b" stroke-width="0.9"/>
<path d="M834.28 310.27V304.7Q834.28 303.19 835.78 303.19H851.45Q852.95 303.19 852.95 304.7V310.27" fill="none" stroke="#2b2b2b" stroke-width="0.9"/>
<line x1="834.28" y1="310.27" x2="852.95" y2="310.27" stroke="#2b2b2b" stroke-width="0.9"/>
<path d="M855.66 303.19 L860.93 309.22 L855.66 309.22" fill="none" stroke="#2b2b2b" stroke-width="0.8"/>
<line x1="827.35" y1="301.69" x2="831.27" y2="301.69" stroke="#2b2b2b" stroke-width="0.9"/>
<rect x="824.79" y="278.34" width="4.82" height="9.79" fill="none" stroke="#2b2b2b" stroke-width="0.9"/>
<rect x="825.24" y="279.85" width="1.81" height="6.78" fill="#999" stroke="#2b2b2b" stroke-width="0.5"/>
<path d="M827.35 276.08 L829.61 276.08 L829.61 278.34" fill="none" stroke="#2b2b2b" stroke-width="0.8"/>
<path d="M829.61 288.13 L829.61 301.69" fill="none" stroke="#2b2b2b" stroke-width="0.8"/>
<path d="M872.53 299.43V292.95Q872.53 290.84 874.64 290.84H907.92V301.69H904.76Q904.76 301.69 904.76 299.43V296.42" fill="none" stroke="#2b2b2b" stroke-width="0.9"/>
<path d="M872.53 299.43Q871.02 302.44 869.22 299.43V292.95Q869.22 290.84 871.48 290.84H874.64" fill="none" stroke="#2b2b2b" stroke-width="0.9"/>
<line x1="872.53" y1="294.46" x2="907.92" y2="294.46" stroke="#2b2b2b" stroke-width="0.8"/>
<line x1="872.53" y1="296.42" x2="904.76" y2="296.42" stroke="#2b2b2b" stroke-width="0.8"/>
<line x1="906.11" y1="290.84" x2="906.11" y2="301.69" stroke="#2b2b2b" stroke-width="0.7"/>
<path d="M924.94 286.63Q924.94 282.41 929.16 282.41H942.26Q945.27 282.41 945.27 285.12L946.02 285.87H955.81L968.61 294.91" fill="none" stroke="#2b2b2b" stroke-width="0.9"/>
<path d="M924.94 286.63 L924.94 298.67 L933.98 309.97" fill="none" stroke="#2b2b2b" stroke-width="0.9"/>
<path d="M929.46 298.67 L929.46 288.13 L931.72 286.33 L940 286.33 L941.81 288.13 L941.81 295.66 L944.52 297.47 L968.61 294.91 L968.61 297.17 L944.52 297.47" fill="none" stroke="#2b2b2b" stroke-width="0.8"/>
<path d="M929.46 298.67 L937.74 306.96 L968.61 306.96 L968.61 309.97" fill="none" stroke="#2b2b2b" stroke-width="0.8"/>
<path d="M946.02 285.87 L946.02 288.89 L956.57 288.89" fill="none" stroke="#2b2b2b" stroke-width="0.6"/>
<path d="M944.52 294.16 L956.57 289.64 L962.59 291.9" fill="none" stroke="#2b2b2b" stroke-width="0.7"/>
<path d="M925.69 297.17 L929.46 297.17 L935.48 304.7 L932.47 307.71" fill="none" stroke="#2b2b2b" stroke-width="0.7"/>
<path d="M926.45 299.43 L930.96 304.7" fill="none" stroke="#2b2b2b" stroke-width="0.6"/>
<path d="M927.2 286.63 L927.2 297.17" fill="none" stroke="#2b2b2b" stroke-width="0.7"/>
</g>
<path d="M1136.4 92.53A6.13 6.9 0 0 0 1136.4 106.32" fill="none" stroke="#2b2b2b" stroke-width="0.9"/>
<path d="M1283.52 92.53A5.52 6.9 0 0 1 1283.52 106.32" fill="none" stroke="#2b2b2b" stroke-width="0.9"/>
<rect x="1136.4" y="51.46" width="147.13" height="96.25" fill="#fff" stroke="#2b2b2b" stroke-width="0.9"/>
<rect x="1138.24" y="53.3" width="143.3" height="92.41" rx="3" fill="none" stroke="#2b2b2b" stroke-width="0.9"/>
<rect x="1140.08" y="54.98" width="90.88" height="89.2" rx="2.5" fill="none" stroke="#2b2b2b" stroke-width="0.9"/>
<rect x="1234.79" y="54.98" width="44.9" height="89.2" rx="2.5" fill="none" stroke="#2b2b2b" stroke-width="0.9"/>
<line x1="1232.95" y1="53.3" x2="1232.95" y2="145.71" stroke="#2b2b2b" stroke-width="0.9"/>
<circle cx="1140.08" cy="54.52" r="0.77" fill="none" stroke="#2b2b2b" stroke-width="0.6"/>
<circle cx="1140.08" cy="144.48" r="0.77" fill="none" stroke="#2b2b2b" stroke-width="0.6"/>
<circle cx="1280" cy="54.52" r="0.77" fill="none" stroke="#2b2b2b" stroke-width="0.6"/>
<circle cx="1280" cy="144.48" r="0.77" fill="none" stroke="#2b2b2b" stroke-width="0.6"/>
<circle cx="1231.72" cy="54.52" r="0.77" fill="none" stroke="#2b2b2b" stroke-width="0.6"/>
<circle cx="1231.72" cy="144.48" r="0.77" fill="none" stroke="#2b2b2b" stroke-width="0.6"/>
<path d="M1142.84 70.61 L1155.86 57.59 L1224.06 57.59 L1227.43 60.96 L1227.43 137.28 L1224.06 140.65 L1146.21 140.65 L1142.84 137.28 Z" fill="none" stroke="#2b2b2b" stroke-width="0.9"/>
<path d="M1145.13 71.38 L1156.63 59.89 L1222.99 59.89 L1225.13 62.03 L1225.13 136.21 L1222.99 138.35 L1147.28 138.35 L1145.13 136.21 Z" fill="none" stroke="#2b2b2b" stroke-width="0.9"/>
<path d="M1149.73 80.57 L1149.73 71.38 L1158.16 64.94 L1171.95 64.02" fill="none" stroke="#2b2b2b" stroke-width="0.9"/>
<circle cx="1184.98" cy="99.43" r="38.01" fill="#fff" stroke="#2b2b2b" stroke-width="1"/>
<circle cx="1184.98" cy="99.43" r="26.36" fill="none" stroke="#2b2b2b" stroke-width="1"/>
<circle cx="1184.98" cy="99.43" r="14.1" fill="none" stroke="#2b2b2b" stroke-width="1"/>
<line x1="1184.98" y1="99.43" x2="1184.98" y2="137.28" stroke="#2b2b2b" stroke-width="0.9"/>
<rect x="1203.52" y="67.55" width="22.07" height="3.98" rx="1.99" fill="none" stroke="#2b2b2b" stroke-width="0.9" transform="rotate(45 1214.56 69.54)"/>
<rect x="1144.83" y="127.32" width="22.07" height="3.98" rx="1.99" fill="none" stroke="#2b2b2b" stroke-width="0.9" transform="rotate(45 1155.86 129.31)"/>
<rect x="1203.52" y="127.32" width="22.07" height="3.98" rx="1.99" fill="none" stroke="#2b2b2b" stroke-width="0.9" transform="rotate(-45 1214.56 129.31)"/>
<path d="M1235.1 99.43 L1245.21 69.08 L1248.28 62.49 L1260.54 62.49 L1263.6 69.08 L1276.48 99.43 L1263.6 129.62 L1260.54 136.21 L1248.28 136.21 L1245.21 129.62 Z" fill="none" stroke="#2b2b2b" stroke-width="0.8"/>
<path d="M1236.93 99.43 L1246.31 69.63 L1248.83 64.33 L1259.98 64.33 L1262.5 69.63 L1274.64 99.43 L1262.5 129.07 L1259.98 134.37 L1248.83 134.37 L1246.31 129.07 Z" fill="none" stroke="#2b2b2b" stroke-width="0.8"/>
<path d="M1238.77 99.43 L1247.42 70.18 L1249.38 66.17 L1259.43 66.17 L1261.39 70.18 L1272.8 99.43 L1261.39 128.51 L1259.43 132.53 L1249.38 132.53 L1247.42 128.51 Z" fill="none" stroke="#2b2b2b" stroke-width="0.8"/>
<circle cx="1254.41" cy="99.43" r="19.92" fill="#fff" stroke="#2b2b2b" stroke-width="0.9"/>
<circle cx="1254.41" cy="99.43" r="14.1" fill="none" stroke="#2b2b2b" stroke-width="0.9"/>
<circle cx="1254.41" cy="99.43" r="8.43" fill="none" stroke="#2b2b2b" stroke-width="0.9"/>
<line x1="1254.41" y1="91" x2="1254.41" y2="107.85" stroke="#2b2b2b" stroke-width="0.9"/>
<line x1="1268.51" y1="99.43" x2="1274.33" y2="99.43" stroke="#2b2b2b" stroke-width="0.8"/>
<circle cx="1254.41" cy="69.54" r="1.23" fill="none" stroke="#2b2b2b" stroke-width="0.7"/>
<path d="M1245.82 76.74Q1254.41 72.15 1263.14 76.74L1261.61 79.35Q1254.41 75.98 1247.36 79.35Z" fill="none" stroke="#2b2b2b" stroke-width="0.8"/>
<path d="M1245.82 121.95Q1254.41 126.55 1263.14 121.95L1261.61 119.66Q1254.41 123.03 1247.36 119.66Z" fill="none" stroke="#2b2b2b" stroke-width="0.8"/>
<line x1="1266.21" y1="53.75" x2="1279.23" y2="83.64" stroke="#2b2b2b" stroke-width="0.8"/>
<line x1="1268.2" y1="53.75" x2="1281.23" y2="83.64" stroke="#2b2b2b" stroke-width="0.8"/>
<rect x="1395.8" y="54.6" width="2.6" height="9" fill="none" stroke="#2b2b2b" stroke-width="0.8"/>
<rect x="1438.9" y="54.6" width="2.6" height="9" fill="none" stroke="#2b2b2b" stroke-width="0.8"/>
<rect x="1395.8" y="72.3" width="2.6" height="9" fill="none" stroke="#2b2b2b" stroke-width="0.8"/>
<rect x="1438.9" y="72.3" width="2.6" height="9" fill="none" stroke="#2b2b2b" stroke-width="0.8"/>
<rect x="1398.4" y="50.6" width="40.5" height="35.5" fill="#fff" stroke="#2b2b2b" stroke-width="0.9"/>
<line x1="1398.4" y1="50.6" x2="1438.9" y2="50.6" stroke="#111" stroke-width="2"/>
<circle cx="1419.3" cy="67.7" r="15.8" fill="none" stroke="#2b2b2b" stroke-width="0.9"/>
<circle cx="1419.3" cy="67.7" r="13.3" fill="none" stroke="#2b2b2b" stroke-width="0.9"/>
<line x1="1428.7" y1="86.1" x2="1438.9" y2="75.9" stroke="#2b2b2b" stroke-width="0.8"/>
<line x1="1432.6" y1="67.7" x2="1435.1" y2="67.7" stroke="#2b2b2b" stroke-width="0.8"/>
<g transform="translate(1410.96 109.07) rotate(90)"><rect x="-10.2" y="-5.35" width="20.4" height="10.7" rx="1" fill="#fff" stroke="#2b2b2b" stroke-width="1"/><path d="M-5 -5.35V5.35M5 -5.35V5.35" stroke="#2b2b2b" stroke-width="0.8"/><rect x="-1.6" y="-2.6" width="3.2" height="3.2" fill="#111"/></g>
<circle cx="1438.29" cy="121.84" r="5.87" fill="none" stroke="#2b2b2b" stroke-width="0.9"/>
<circle cx="1476.34" cy="121.84" r="5.87" fill="none" stroke="#2b2b2b" stroke-width="0.9"/>
<rect x="1190.27" y="164.75" width="28.1" height="52.36" fill="none" stroke="#2b2b2b" stroke-width="0.9"/>
<rect x="1185.92" y="167.31" width="36.78" height="46.74" fill="#fff" stroke="#111" stroke-width="2.2"/>
<g transform="translate(1292.18 174.71) rotate(90)" fill="none" stroke="#2b2b2b" stroke-width="0.9"><rect x="-6.7" y="-3.5" width="13.4" height="7" rx="0.35"/><path d="M-3.89 -3.5V3.5M3.89 -3.5V3.5"/></g>
<g transform="translate(1306.74 174.71) rotate(90)" fill="none" stroke="#2b2b2b" stroke-width="0.9"><rect x="-6.7" y="-3.5" width="13.4" height="7" rx="0.35"/><path d="M-3.89 -3.5V3.5M3.89 -3.5V3.5"/></g>
<g transform="translate(1328.96 168.33)" fill="none" stroke="#2b2b2b" stroke-width="0.9"><rect x="-6.7" y="-3.5" width="13.4" height="7" rx="0.35"/><path d="M-3.89 -3.5V3.5M3.89 -3.5V3.5"/></g>
<g transform="translate(1328.96 182.89)" fill="none" stroke="#2b2b2b" stroke-width="0.9"><rect x="-6.7" y="-3.5" width="13.4" height="7" rx="0.35"/><path d="M-3.89 -3.5V3.5M3.89 -3.5V3.5"/></g>
<g transform="translate(1328.96 197.19)" fill="none" stroke="#2b2b2b" stroke-width="0.9"><rect x="-6.7" y="-3.5" width="13.4" height="7" rx="0.35"/><path d="M-3.89 -3.5V3.5M3.89 -3.5V3.5"/></g>
<g transform="translate(1293.71 203.58) rotate(90)"><rect x="-6.9" y="-1.8" width="13.8" height="3.6" fill="none" stroke="#2b2b2b" stroke-width="0.8"/><rect x="-5.1" y="-3.5" width="10.2" height="7" rx="1.4" fill="#fff" stroke="#111" stroke-width="1.7"/></g>
<g transform="translate(1307 203.58) rotate(90)"><rect x="-6.9" y="-1.8" width="13.8" height="3.6" fill="none" stroke="#2b2b2b" stroke-width="0.8"/><rect x="-5.1" y="-3.5" width="10.2" height="7" rx="1.4" fill="#fff" stroke="#111" stroke-width="1.7"/></g>
<g transform="translate(1245.69 229.12) rotate(90)" fill="none" stroke="#2b2b2b" stroke-width="0.9"><rect x="-6.7" y="-3.5" width="13.4" height="7" rx="0.35"/><path d="M-3.89 -3.5V3.5M3.89 -3.5V3.5"/></g>
<g transform="translate(1308.53 229.12) rotate(90)" fill="none" stroke="#2b2b2b" stroke-width="0.9"><rect x="-6.7" y="-3.5" width="13.4" height="7" rx="0.35"/><path d="M-3.89 -3.5V3.5M3.89 -3.5V3.5"/></g>
<rect x="1321.3" y="214.05" width="16.09" height="20.95" fill="none" stroke="#2b2b2b" stroke-width="0.9"/>
<circle cx="1333.31" cy="217.62" r="1.02" fill="none" stroke="#2b2b2b" stroke-width="0.7"/>
<g transform="translate(1327.43 249.81)" fill="none" stroke="#2b2b2b" stroke-width="0.9"><rect x="-6.7" y="-3.5" width="13.4" height="7" rx="0.35"/><path d="M-3.89 -3.5V3.5M3.89 -3.5V3.5"/></g>
<rect x="1199.2" y="232.85" width="32.2" height="4.8" fill="none" stroke="#2b2b2b" stroke-width="0.9"/>
<rect x="1204.7" y="227.95" width="21.2" height="14.6" fill="#fff" stroke="#111" stroke-width="2"/>
<line x1="1217.42" y1="227.95" x2="1217.42" y2="242.55" stroke="#2b2b2b" stroke-width="0.9"/>
<g transform="translate(1199.97 262.58) rotate(90)" fill="none" stroke="#2b2b2b" stroke-width="0.9"><rect x="-6.7" y="-3.5" width="13.4" height="7" rx="0.35"/><path d="M-3.89 -3.5V3.5M3.89 -3.5V3.5"/></g>
<g transform="translate(1247.74 261.56) rotate(90)"><rect x="-16" y="-6.4" width="32" height="12.8" rx="1" fill="none" stroke="#2b2b2b" stroke-width="0.9"/><path d="M-13.8 -6.6H15M-13.8 6.6H15" stroke="#2b2b2b" stroke-width="1.5" stroke-dasharray="4.2 3.6" fill="none"/><circle cx="13" cy="-4.2" r="1.3" fill="#2b2b2b"/></g>
<g transform="translate(1273.02 238.83)" fill="none" stroke="#2b2b2b" stroke-width="0.9"><rect x="-6.7" y="-3.5" width="13.4" height="7" rx="0.35"/><path d="M-3.89 -3.5V3.5M3.89 -3.5V3.5"/></g>
<g transform="translate(1273.02 253.38)" fill="none" stroke="#2b2b2b" stroke-width="0.9"><rect x="-6.7" y="-3.5" width="13.4" height="7" rx="0.35"/><path d="M-3.89 -3.5V3.5M3.89 -3.5V3.5"/></g>
<g transform="translate(1273.02 267.69)" fill="none" stroke="#2b2b2b" stroke-width="0.9"><rect x="-6.7" y="-3.5" width="13.4" height="7" rx="0.35"/><path d="M-3.89 -3.5V3.5M3.89 -3.5V3.5"/></g>
<g transform="translate(1273.02 282.25)" fill="none" stroke="#2b2b2b" stroke-width="0.9"><rect x="-6.7" y="-3.5" width="13.4" height="7" rx="0.35"/><path d="M-3.89 -3.5V3.5M3.89 -3.5V3.5"/></g>
<rect x="1200.48" y="295.02" width="13.28" height="13.28" fill="none" stroke="#2b2b2b" stroke-width="0.8"/>
<rect x="1255.4" y="291.95" width="29.12" height="19.67" rx="0.8" fill="none" stroke="#2b2b2b" stroke-width="0.9"/>
<line x1="1258.31" y1="291.95" x2="1258.31" y2="311.62" stroke="#2b2b2b" stroke-width="0.9"/>
<line x1="1281.61" y1="291.95" x2="1281.61" y2="311.62" stroke="#2b2b2b" stroke-width="0.9"/>
<rect x="1297.03" y="274.07" width="19.41" height="29.37" rx="0.8" fill="none" stroke="#2b2b2b" stroke-width="0.9"/>
<line x1="1297.03" y1="277.01" x2="1316.45" y2="277.01" stroke="#2b2b2b" stroke-width="0.9"/>
<line x1="1297.03" y1="300.51" x2="1316.45" y2="300.51" stroke="#2b2b2b" stroke-width="0.9"/>
<g transform="translate(915.38 325.54)"><rect x="-7.05" y="-1.8" width="14.1" height="3.6" fill="none" stroke="#2b2b2b" stroke-width="0.8"/><rect x="-5.25" y="-3.3" width="10.5" height="6.6" rx="1.4" fill="#fff" stroke="#111" stroke-width="1.7"/></g>
<g transform="translate(945.77 325.54)"><rect x="-7.05" y="-1.8" width="14.1" height="3.6" fill="none" stroke="#2b2b2b" stroke-width="0.8"/><rect x="-5.25" y="-3.3" width="10.5" height="6.6" rx="1.4" fill="#fff" stroke="#111" stroke-width="1.7"/></g>
<g transform="translate(926.36 340.1)" fill="none" stroke="#2b2b2b" stroke-width="0.9"><rect x="-6.7" y="-3.5" width="13.4" height="7" rx="0.35"/><path d="M-3.89 -3.5V3.5M3.89 -3.5V3.5"/></g>
<g transform="translate(952.16 340.1)" fill="none" stroke="#2b2b2b" stroke-width="0.9"><rect x="-6.7" y="-3.5" width="13.4" height="7" rx="0.35"/><path d="M-3.89 -3.5V3.5M3.89 -3.5V3.5"/></g>
<text class="t" dx="-1.05" x="999.16" y="347.77" font-size="23.4" text-anchor="start" fill="#111" font-weight="normal" stroke="#fff" stroke-width="0.22">PWM UART4</text>
<rect x="921.8" y="356.7" width="215.3" height="53.7" fill="none" stroke="#2b2b2b" stroke-width="0.9"/>
<rect x="975.05" y="361.6" width="108.8" height="17.9" fill="none" stroke="#2b2b2b" stroke-width="0.9"/>
<rect x="990.65" y="374.4" width="77.6" height="5.1" fill="none" stroke="#2b2b2b" stroke-width="0.9"/>
<path d="M934.6 376.9 L941.1 376.9 L941.1 383 L1117.8 383 L1117.8 376.9 L1124.3 376.9 L1124.3 403.3 L934.6 403.3 Z" fill="#fff" stroke="#2b2b2b" stroke-width="0.9"/>
<rect x="921.8" y="385.6" width="6.6" height="24.8" fill="none" stroke="#2b2b2b" stroke-width="0.9"/>
<line x1="921.8" y1="403.3" x2="928.4" y2="403.3" stroke="#2b2b2b" stroke-width="0.9"/>
<rect x="1130.5" y="385.6" width="6.6" height="24.8" fill="none" stroke="#2b2b2b" stroke-width="0.9"/>
<line x1="1130.5" y1="403.3" x2="1137.1" y2="403.3" stroke="#2b2b2b" stroke-width="0.9"/>
<rect x="948.9" y="410.4" width="2.8" height="8.6" fill="none" stroke="#2b2b2b" stroke-width="0.9"/>
<rect x="964.73" y="410.4" width="2.8" height="8.6" fill="none" stroke="#2b2b2b" stroke-width="0.9"/>
<rect x="980.56" y="410.4" width="2.8" height="8.6" fill="none" stroke="#2b2b2b" stroke-width="0.9"/>
<rect x="996.39" y="410.4" width="2.8" height="8.6" fill="none" stroke="#2b2b2b" stroke-width="0.9"/>
<rect x="1012.22" y="410.4" width="2.8" height="8.6" fill="none" stroke="#2b2b2b" stroke-width="0.9"/>
<rect x="1028.05" y="410.4" width="2.8" height="8.6" fill="none" stroke="#2b2b2b" stroke-width="0.9"/>
<rect x="1043.88" y="410.4" width="2.8" height="8.6" fill="none" stroke="#2b2b2b" stroke-width="0.9"/>
<rect x="1059.71" y="410.4" width="2.8" height="8.6" fill="none" stroke="#2b2b2b" stroke-width="0.9"/>
<rect x="1075.54" y="410.4" width="2.8" height="8.6" fill="none" stroke="#2b2b2b" stroke-width="0.9"/>
<rect x="1091.37" y="410.4" width="2.8" height="8.6" fill="none" stroke="#2b2b2b" stroke-width="0.9"/>
<rect x="1107.2" y="410.4" width="2.8" height="8.6" fill="none" stroke="#2b2b2b" stroke-width="0.9"/>
<g transform="translate(1165.44 337.04)" fill="none" stroke="#2b2b2b" stroke-width="0.9"><rect x="-6.7" y="-3.5" width="13.4" height="7" rx="0.35"/><path d="M-3.89 -3.5V3.5M3.89 -3.5V3.5"/></g>
<g transform="translate(1165.19 424.9)"><rect x="-10.2" y="-5.35" width="20.4" height="10.7" rx="1" fill="#fff" stroke="#2b2b2b" stroke-width="1"/><path d="M-5 -5.35V5.35M5 -5.35V5.35" stroke="#2b2b2b" stroke-width="0.8"/><rect x="-1.6" y="-2.6" width="3.2" height="3.2" fill="#111"/></g>
<g transform="translate(1165.44 442.78)" fill="none" stroke="#2b2b2b" stroke-width="0.9"><rect x="-6.7" y="-3.5" width="13.4" height="7" rx="0.35"/><path d="M-3.89 -3.5V3.5M3.89 -3.5V3.5"/></g>
<g transform="translate(1043.6 442.53)"><rect x="-16" y="-6.4" width="32" height="12.8" rx="1" fill="none" stroke="#2b2b2b" stroke-width="0.9"/><path d="M-13.8 -6.6H15M-13.8 6.6H15" stroke="#2b2b2b" stroke-width="1.5" stroke-dasharray="4.2 3.6" fill="none"/><circle cx="-13" cy="4.2" r="1.3" fill="#2b2b2b"/></g>
<g transform="translate(1080.64 438.19)"><rect x="-7.05" y="-1.8" width="14.1" height="3.6" fill="none" stroke="#2b2b2b" stroke-width="0.8"/><rect x="-5.25" y="-3.3" width="10.5" height="6.6" rx="1.4" fill="#fff" stroke="#111" stroke-width="1.7"/></g>
<g transform="translate(1110.78 438.19)"><rect x="-7.05" y="-1.8" width="14.1" height="3.6" fill="none" stroke="#2b2b2b" stroke-width="0.8"/><rect x="-5.25" y="-3.3" width="10.5" height="6.6" rx="1.4" fill="#fff" stroke="#111" stroke-width="1.7"/></g>
<g transform="translate(1085.24 450.7)" fill="none" stroke="#2b2b2b" stroke-width="0.9"><rect x="-6.7" y="-3.5" width="13.4" height="7" rx="0.35"/><path d="M-3.89 -3.5V3.5M3.89 -3.5V3.5"/></g>
<g transform="translate(1110.78 450.7)" fill="none" stroke="#2b2b2b" stroke-width="0.9"><rect x="-6.7" y="-3.5" width="13.4" height="7" rx="0.35"/><path d="M-3.89 -3.5V3.5M3.89 -3.5V3.5"/></g>
<g transform="translate(1047.94 473.18) rotate(90)" fill="none" stroke="#2b2b2b" stroke-width="0.9"><rect x="-6.7" y="-3.5" width="13.4" height="7" rx="0.35"/><path d="M-3.89 -3.5V3.5M3.89 -3.5V3.5"/></g>
<g transform="translate(1062.5 473.18) rotate(90)" fill="none" stroke="#2b2b2b" stroke-width="0.9"><rect x="-6.7" y="-3.5" width="13.4" height="7" rx="0.35"/><path d="M-3.89 -3.5V3.5M3.89 -3.5V3.5"/></g>
<g transform="translate(1076.81 473.18) rotate(90)" fill="none" stroke="#2b2b2b" stroke-width="0.9"><rect x="-6.7" y="-3.5" width="13.4" height="7" rx="0.35"/><path d="M-3.89 -3.5V3.5M3.89 -3.5V3.5"/></g>
<g transform="translate(1091.62 473.18) rotate(90)" fill="none" stroke="#2b2b2b" stroke-width="0.9"><rect x="-6.7" y="-3.5" width="13.4" height="7" rx="0.35"/><path d="M-3.89 -3.5V3.5M3.89 -3.5V3.5"/></g>
<g transform="translate(1141.17 471.9) rotate(90)" fill="none" stroke="#2b2b2b" stroke-width="0.9"><rect x="-6.7" y="-3.5" width="13.4" height="7" rx="0.35"/><path d="M-3.89 -3.5V3.5M3.89 -3.5V3.5"/><path d="M-3.89 -3L3.89 3M-3.89 3L3.89 -3" stroke="#e02020" stroke-width="0.7"/></g>
<g transform="translate(1155.73 471.9) rotate(90)" fill="none" stroke="#2b2b2b" stroke-width="0.9"><rect x="-6.7" y="-3.5" width="13.4" height="7" rx="0.35"/><path d="M-3.89 -3.5V3.5M3.89 -3.5V3.5"/></g>
<rect x="1155.48" y="485.95" width="6.9" height="6.9" fill="none" stroke="#2b2b2b" stroke-width="0.8"/>
<rect x="1129.17" y="499.23" width="28.1" height="18.65" rx="0.8" fill="none" stroke="#2b2b2b" stroke-width="0.9"/>
<line x1="1134.79" y1="499.23" x2="1134.79" y2="517.88" stroke="#2b2b2b" stroke-width="0.9"/>
<line x1="1151.65" y1="499.23" x2="1151.65" y2="517.88" stroke="#2b2b2b" stroke-width="0.9"/>
<rect x="1129.17" y="528.1" width="28.1" height="18.9" rx="0.8" fill="none" stroke="#2b2b2b" stroke-width="0.9"/>
<line x1="1134.79" y1="528.1" x2="1134.79" y2="547" stroke="#2b2b2b" stroke-width="0.9"/>
<line x1="1151.65" y1="528.1" x2="1151.65" y2="547" stroke="#2b2b2b" stroke-width="0.9"/>
<g transform="translate(899.03 413.92)" fill="none" stroke="#2b2b2b" stroke-width="0.9"><rect x="-6.7" y="-3.5" width="13.4" height="7" rx="0.35"/><path d="M-3.89 -3.5V3.5M3.89 -3.5V3.5"/></g>
<rect x="889.07" y="426.95" width="20.18" height="12.26" rx="1" fill="none" stroke="#111" stroke-width="1.8"/>
<g transform="translate(887.54 471.65) rotate(90)"><rect x="-6.9" y="-1.8" width="13.8" height="3.6" fill="none" stroke="#2b2b2b" stroke-width="0.8"/><rect x="-5.1" y="-3.5" width="10.2" height="7" rx="1.4" fill="#fff" stroke="#111" stroke-width="1.7"/></g>
<g transform="translate(913.59 474.71) rotate(90)"><rect x="-16" y="-6.4" width="32" height="12.8" rx="1" fill="none" stroke="#2b2b2b" stroke-width="0.9"/><path d="M-13.8 -6.6H15M-13.8 6.6H15" stroke="#2b2b2b" stroke-width="1.5" stroke-dasharray="4.2 3.6" fill="none"/><circle cx="13" cy="-4.2" r="1.3" fill="#2b2b2b"/></g>
<g transform="translate(899.03 513.28) rotate(90)"><rect x="-16" y="-6.4" width="32" height="12.8" rx="1" fill="none" stroke="#2b2b2b" stroke-width="0.9"/><path d="M-13.8 -6.6H15M-13.8 6.6H15" stroke="#2b2b2b" stroke-width="1.5" stroke-dasharray="4.2 3.6" fill="none"/><circle cx="13" cy="-4.2" r="1.3" fill="#2b2b2b"/></g>
<g transform="translate(899.03 548.79) rotate(90)"><rect x="-16" y="-6.4" width="32" height="12.8" rx="1" fill="none" stroke="#2b2b2b" stroke-width="0.9"/><path d="M-13.8 -6.6H15M-13.8 6.6H15" stroke="#2b2b2b" stroke-width="1.5" stroke-dasharray="4.2 3.6" fill="none"/><circle cx="13" cy="-4.2" r="1.3" fill="#2b2b2b"/></g>
<text class="t" dx="-1.04" x="874.51" y="585.31" font-size="23.1" text-anchor="start" fill="#111" font-weight="normal" stroke="#fff" stroke-width="0.22">CAM 1</text>
<rect x="887.78" y="599.26" width="32.2" height="4.8" fill="none" stroke="#2b2b2b" stroke-width="0.9"/>
<rect x="893.28" y="594.36" width="21.2" height="14.6" fill="#fff" stroke="#111" stroke-width="2"/>
<line x1="903.88" y1="594.36" x2="903.88" y2="608.96" stroke="#2b2b2b" stroke-width="0.9"/>
<rect x="1028.3" y="565.6" width="101.1" height="60.4" fill="none" stroke="#2b2b2b" stroke-width="0.9"/>
<rect x="1031.6" y="557.2" width="94.5" height="79.1" fill="#fff" stroke="#111" stroke-width="2.4"/>
<rect x="805.4" y="400" width="9.6" height="332.6" fill="#fff" stroke="#2b2b2b" stroke-width="0.9"/>
<path d="M812 412.4 L808.5 410.5 L808.5 414.3 Z" fill="none" stroke="#2b2b2b" stroke-width="0.7"/>
<path d="M812 720 L808.5 718.1 L808.5 721.9 Z" fill="none" stroke="#2b2b2b" stroke-width="0.7"/>
<rect x="815.5" y="407.3" width="17.2" height="189.4" fill="#fff"/>
<path d="M824.4 431V572.5" stroke="#444" stroke-width="16.4" stroke-dasharray="0.8 2.37" fill="none"/>
<line x1="816.2" y1="431" x2="816.2" y2="572.5" stroke="#2b2b2b" stroke-width="0.7"/>
<line x1="832.7" y1="431" x2="832.7" y2="572.5" stroke="#2b2b2b" stroke-width="0.7"/>
<rect x="816.9" y="411.9" width="15.8" height="18.1" fill="none" stroke="#2b2b2b" stroke-width="0.8"/>
<rect x="816.9" y="573.2" width="15.8" height="18.2" fill="none" stroke="#2b2b2b" stroke-width="0.8"/>
<path d="M818 413 L820 430" fill="none" stroke="#2b2b2b" stroke-width="0.6"/>
<path d="M818 590.4 L820 573.2" fill="none" stroke="#2b2b2b" stroke-width="0.6"/>
<rect x="815" y="407.3" width="17.7" height="4.6" fill="none" stroke="#2b2b2b" stroke-width="0.8"/>
<path d="M820 596.7V698" stroke="#444" stroke-width="8" stroke-dasharray="0.8 2.37" fill="none"/>
<rect x="816.6" y="699.5" width="7.4" height="25.5" fill="none" stroke="#2b2b2b" stroke-width="0.8"/>
<path d="M832.7 407.3 L863.3 407.3 L863.3 427.3 L861 427.3 L861 575.8 L863.3 575.8 L863.3 596.7 L832.7 596.7 Z" fill="#fff" stroke="#2b2b2b" stroke-width="0.9"/>
<line x1="834" y1="407.3" x2="834" y2="596.7" stroke="#2b2b2b" stroke-width="0.7"/>
<rect x="833.8" y="396.4" width="16.8" height="10.9" fill="none" stroke="#2b2b2b" stroke-width="0.9"/>
<path d="M836.7 407.3 L836.7 400 L840.5 400 L840.5 407.3" fill="none" stroke="#2b2b2b" stroke-width="0.8"/>
<path d="M844 407.3 L844 400 L847.8 400 L847.8 407.3" fill="none" stroke="#2b2b2b" stroke-width="0.8"/>
<rect x="852.9" y="400" width="10.4" height="7.3" fill="none" stroke="#2b2b2b" stroke-width="0.9"/>
<rect x="833.8" y="596.7" width="16.8" height="10.9" fill="none" stroke="#2b2b2b" stroke-width="0.9"/>
<path d="M836.7 596.7 L836.7 604 L840.5 604 L840.5 596.7" fill="none" stroke="#2b2b2b" stroke-width="0.8"/>
<path d="M844 596.7 L844 604 L847.8 604 L847.8 596.7" fill="none" stroke="#2b2b2b" stroke-width="0.8"/>
<rect x="852.9" y="596.7" width="10.4" height="6.9" fill="none" stroke="#2b2b2b" stroke-width="0.9"/>
<rect x="838.7" y="424" width="10.6" height="3" rx="1.2" fill="#bbb" stroke="#2b2b2b" stroke-width="0.8"/>
<rect x="838.7" y="577" width="10.6" height="3" rx="1.2" fill="#bbb" stroke="#2b2b2b" stroke-width="0.8"/>
<rect x="857.8" y="427.3" width="3.2" height="148.5" fill="none" stroke="#2b2b2b" stroke-width="0.8"/>
<rect x="861" y="433.7" width="12" height="3.8" fill="#fff" stroke="#2b2b2b" stroke-width="0.9"/>
<line x1="865" y1="433.7" x2="865" y2="437.5" stroke="#2b2b2b" stroke-width="0.8"/>
<line x1="869" y1="433.7" x2="869" y2="437.5" stroke="#2b2b2b" stroke-width="0.8"/>
<rect x="858.5" y="433" width="2.5" height="3.6" fill="none" stroke="#2b2b2b" stroke-width="0.7"/>
<rect x="861" y="439.99" width="12" height="3.8" fill="#fff" stroke="#2b2b2b" stroke-width="0.9"/>
<line x1="865" y1="439.99" x2="865" y2="443.79" stroke="#2b2b2b" stroke-width="0.8"/>
<line x1="869" y1="439.99" x2="869" y2="443.79" stroke="#2b2b2b" stroke-width="0.8"/>
<rect x="858.5" y="439.29" width="2.5" height="3.6" fill="none" stroke="#2b2b2b" stroke-width="0.7"/>
<rect x="861" y="446.28" width="12" height="3.8" fill="#fff" stroke="#2b2b2b" stroke-width="0.9"/>
<line x1="865" y1="446.28" x2="865" y2="450.08" stroke="#2b2b2b" stroke-width="0.8"/>
<line x1="869" y1="446.28" x2="869" y2="450.08" stroke="#2b2b2b" stroke-width="0.8"/>
<rect x="858.5" y="445.58" width="2.5" height="3.6" fill="none" stroke="#2b2b2b" stroke-width="0.7"/>
<rect x="861" y="452.57" width="12" height="3.8" fill="#fff" stroke="#2b2b2b" stroke-width="0.9"/>
<line x1="865" y1="452.57" x2="865" y2="456.37" stroke="#2b2b2b" stroke-width="0.8"/>
<line x1="869" y1="452.57" x2="869" y2="456.37" stroke="#2b2b2b" stroke-width="0.8"/>
<rect x="858.5" y="451.87" width="2.5" height="3.6" fill="none" stroke="#2b2b2b" stroke-width="0.7"/>
<rect x="861" y="458.86" width="12" height="3.8" fill="#fff" stroke="#2b2b2b" stroke-width="0.9"/>
<line x1="865" y1="458.86" x2="865" y2="462.66" stroke="#2b2b2b" stroke-width="0.8"/>
<line x1="869" y1="458.86" x2="869" y2="462.66" stroke="#2b2b2b" stroke-width="0.8"/>
<rect x="858.5" y="458.16" width="2.5" height="3.6" fill="none" stroke="#2b2b2b" stroke-width="0.7"/>
<rect x="861" y="465.15" width="12" height="3.8" fill="#fff" stroke="#2b2b2b" stroke-width="0.9"/>
<line x1="865" y1="465.15" x2="865" y2="468.95" stroke="#2b2b2b" stroke-width="0.8"/>
<line x1="869" y1="465.15" x2="869" y2="468.95" stroke="#2b2b2b" stroke-width="0.8"/>
<rect x="858.5" y="464.45" width="2.5" height="3.6" fill="none" stroke="#2b2b2b" stroke-width="0.7"/>
<rect x="861" y="471.44" width="12" height="3.8" fill="#fff" stroke="#2b2b2b" stroke-width="0.9"/>
<line x1="865" y1="471.44" x2="865" y2="475.24" stroke="#2b2b2b" stroke-width="0.8"/>
<line x1="869" y1="471.44" x2="869" y2="475.24" stroke="#2b2b2b" stroke-width="0.8"/>
<rect x="858.5" y="470.74" width="2.5" height="3.6" fill="none" stroke="#2b2b2b" stroke-width="0.7"/>
<rect x="861" y="477.73" width="12" height="3.8" fill="#fff" stroke="#2b2b2b" stroke-width="0.9"/>
<line x1="865" y1="477.73" x2="865" y2="481.53" stroke="#2b2b2b" stroke-width="0.8"/>
<line x1="869" y1="477.73" x2="869" y2="481.53" stroke="#2b2b2b" stroke-width="0.8"/>
<rect x="858.5" y="477.03" width="2.5" height="3.6" fill="none" stroke="#2b2b2b" stroke-width="0.7"/>
<rect x="861" y="484.02" width="12" height="3.8" fill="#fff" stroke="#2b2b2b" stroke-width="0.9"/>
<line x1="865" y1="484.02" x2="865" y2="487.82" stroke="#2b2b2b" stroke-width="0.8"/>
<line x1="869" y1="484.02" x2="869" y2="487.82" stroke="#2b2b2b" stroke-width="0.8"/>
<rect x="858.5" y="483.32" width="2.5" height="3.6" fill="none" stroke="#2b2b2b" stroke-width="0.7"/>
<rect x="861" y="490.31" width="12" height="3.8" fill="#fff" stroke="#2b2b2b" stroke-width="0.9"/>
<line x1="865" y1="490.31" x2="865" y2="494.11" stroke="#2b2b2b" stroke-width="0.8"/>
<line x1="869" y1="490.31" x2="869" y2="494.11" stroke="#2b2b2b" stroke-width="0.8"/>
<rect x="858.5" y="489.61" width="2.5" height="3.6" fill="none" stroke="#2b2b2b" stroke-width="0.7"/>
<rect x="861" y="496.6" width="12" height="3.8" fill="#fff" stroke="#2b2b2b" stroke-width="0.9"/>
<line x1="865" y1="496.6" x2="865" y2="500.4" stroke="#2b2b2b" stroke-width="0.8"/>
<line x1="869" y1="496.6" x2="869" y2="500.4" stroke="#2b2b2b" stroke-width="0.8"/>
<rect x="858.5" y="495.9" width="2.5" height="3.6" fill="none" stroke="#2b2b2b" stroke-width="0.7"/>
<rect x="861" y="502.89" width="12" height="3.8" fill="#fff" stroke="#2b2b2b" stroke-width="0.9"/>
<line x1="865" y1="502.89" x2="865" y2="506.69" stroke="#2b2b2b" stroke-width="0.8"/>
<line x1="869" y1="502.89" x2="869" y2="506.69" stroke="#2b2b2b" stroke-width="0.8"/>
<rect x="858.5" y="502.19" width="2.5" height="3.6" fill="none" stroke="#2b2b2b" stroke-width="0.7"/>
<rect x="861" y="509.18" width="12" height="3.8" fill="#fff" stroke="#2b2b2b" stroke-width="0.9"/>
<line x1="865" y1="509.18" x2="865" y2="512.98" stroke="#2b2b2b" stroke-width="0.8"/>
<line x1="869" y1="509.18" x2="869" y2="512.98" stroke="#2b2b2b" stroke-width="0.8"/>
<rect x="858.5" y="508.48" width="2.5" height="3.6" fill="none" stroke="#2b2b2b" stroke-width="0.7"/>
<rect x="861" y="515.47" width="12" height="3.8" fill="#fff" stroke="#2b2b2b" stroke-width="0.9"/>
<line x1="865" y1="515.47" x2="865" y2="519.27" stroke="#2b2b2b" stroke-width="0.8"/>
<line x1="869" y1="515.47" x2="869" y2="519.27" stroke="#2b2b2b" stroke-width="0.8"/>
<rect x="858.5" y="514.77" width="2.5" height="3.6" fill="none" stroke="#2b2b2b" stroke-width="0.7"/>
<rect x="861" y="521.76" width="12" height="3.8" fill="#fff" stroke="#2b2b2b" stroke-width="0.9"/>
<line x1="865" y1="521.76" x2="865" y2="525.56" stroke="#2b2b2b" stroke-width="0.8"/>
<line x1="869" y1="521.76" x2="869" y2="525.56" stroke="#2b2b2b" stroke-width="0.8"/>
<rect x="858.5" y="521.06" width="2.5" height="3.6" fill="none" stroke="#2b2b2b" stroke-width="0.7"/>
<rect x="861" y="528.05" width="12" height="3.8" fill="#fff" stroke="#2b2b2b" stroke-width="0.9"/>
<line x1="865" y1="528.05" x2="865" y2="531.85" stroke="#2b2b2b" stroke-width="0.8"/>
<line x1="869" y1="528.05" x2="869" y2="531.85" stroke="#2b2b2b" stroke-width="0.8"/>
<rect x="858.5" y="527.35" width="2.5" height="3.6" fill="none" stroke="#2b2b2b" stroke-width="0.7"/>
<rect x="861" y="534.34" width="12" height="3.8" fill="#fff" stroke="#2b2b2b" stroke-width="0.9"/>
<line x1="865" y1="534.34" x2="865" y2="538.14" stroke="#2b2b2b" stroke-width="0.8"/>
<line x1="869" y1="534.34" x2="869" y2="538.14" stroke="#2b2b2b" stroke-width="0.8"/>
<rect x="858.5" y="533.64" width="2.5" height="3.6" fill="none" stroke="#2b2b2b" stroke-width="0.7"/>
<rect x="861" y="540.63" width="12" height="3.8" fill="#fff" stroke="#2b2b2b" stroke-width="0.9"/>
<line x1="865" y1="540.63" x2="865" y2="544.43" stroke="#2b2b2b" stroke-width="0.8"/>
<line x1="869" y1="540.63" x2="869" y2="544.43" stroke="#2b2b2b" stroke-width="0.8"/>
<rect x="858.5" y="539.93" width="2.5" height="3.6" fill="none" stroke="#2b2b2b" stroke-width="0.7"/>
<rect x="861" y="546.92" width="12" height="3.8" fill="#fff" stroke="#2b2b2b" stroke-width="0.9"/>
<line x1="865" y1="546.92" x2="865" y2="550.72" stroke="#2b2b2b" stroke-width="0.8"/>
<line x1="869" y1="546.92" x2="869" y2="550.72" stroke="#2b2b2b" stroke-width="0.8"/>
<rect x="858.5" y="546.22" width="2.5" height="3.6" fill="none" stroke="#2b2b2b" stroke-width="0.7"/>
<rect x="861" y="553.21" width="12" height="3.8" fill="#fff" stroke="#2b2b2b" stroke-width="0.9"/>
<line x1="865" y1="553.21" x2="865" y2="557.01" stroke="#2b2b2b" stroke-width="0.8"/>
<line x1="869" y1="553.21" x2="869" y2="557.01" stroke="#2b2b2b" stroke-width="0.8"/>
<rect x="858.5" y="552.51" width="2.5" height="3.6" fill="none" stroke="#2b2b2b" stroke-width="0.7"/>
<rect x="861" y="559.5" width="12" height="3.8" fill="#fff" stroke="#2b2b2b" stroke-width="0.9"/>
<line x1="865" y1="559.5" x2="865" y2="563.3" stroke="#2b2b2b" stroke-width="0.8"/>
<line x1="869" y1="559.5" x2="869" y2="563.3" stroke="#2b2b2b" stroke-width="0.8"/>
<rect x="858.5" y="558.8" width="2.5" height="3.6" fill="none" stroke="#2b2b2b" stroke-width="0.7"/>
<rect x="861" y="565.79" width="12" height="3.8" fill="#fff" stroke="#2b2b2b" stroke-width="0.9"/>
<line x1="865" y1="565.79" x2="865" y2="569.59" stroke="#2b2b2b" stroke-width="0.8"/>
<line x1="869" y1="565.79" x2="869" y2="569.59" stroke="#2b2b2b" stroke-width="0.8"/>
<rect x="858.5" y="565.09" width="2.5" height="3.6" fill="none" stroke="#2b2b2b" stroke-width="0.7"/>
<text class="s" x="865.1" y="423" font-size="10" text-anchor="start" fill="#111" font-weight="normal">22</text>
<text class="s" x="866.2" y="579.8" font-size="8.5" text-anchor="start" fill="#111" font-weight="normal">1</text>
<path d="M1194.86 318.39H1332.03V362.58H1333.05V400.13H1332.03V445.08H1194.86V400.13H1193.59V362.58H1194.86V362.58H1194.86Z" fill="none" stroke="#2b2b2b" stroke-width="0.9"/>
<text class="t" dx="-1.04" x="1385.67" y="334.48" font-size="23.1" text-anchor="start" fill="#111" font-weight="normal" stroke="#fff" stroke-width="0.22">PI SD</text>
<rect x="1172.13" y="455.3" width="38.57" height="32.44" fill="none" stroke="#2b2b2b" stroke-width="0.9"/>
<g transform="translate(1231.13 462.2) rotate(90)" fill="none" stroke="#2b2b2b" stroke-width="0.9"><rect x="-6.7" y="-3.5" width="13.4" height="7" rx="0.35"/><path d="M-3.89 -3.5V3.5M3.89 -3.5V3.5"/></g>
<g transform="translate(1245.69 462.2) rotate(90)" fill="none" stroke="#2b2b2b" stroke-width="0.9"><rect x="-6.7" y="-3.5" width="13.4" height="7" rx="0.35"/><path d="M-3.89 -3.5V3.5M3.89 -3.5V3.5"/></g>
<g transform="translate(1260.25 462.2) rotate(90)" fill="none" stroke="#2b2b2b" stroke-width="0.9"><rect x="-6.7" y="-3.5" width="13.4" height="7" rx="0.35"/><path d="M-3.89 -3.5V3.5M3.89 -3.5V3.5"/></g>
<g transform="translate(1235.99 482.89)" fill="none" stroke="#2b2b2b" stroke-width="0.9"><rect x="-6.7" y="-3.5" width="13.4" height="7" rx="0.35"/><path d="M-3.89 -3.5V3.5M3.89 -3.5V3.5"/></g>
<g transform="translate(1256.93 490.8) rotate(90)" fill="none" stroke="#2b2b2b" stroke-width="0.9"><rect x="-6.7" y="-3.5" width="13.4" height="7" rx="0.35"/><path d="M-3.89 -3.5V3.5M3.89 -3.5V3.5"/><path d="M-3.89 -3L3.89 3M-3.89 3L3.89 -3" stroke="#e02020" stroke-width="0.7"/></g>
<g transform="translate(1235.99 498.98)" fill="none" stroke="#2b2b2b" stroke-width="0.9"><rect x="-6.7" y="-3.5" width="13.4" height="7" rx="0.35"/><path d="M-3.89 -3.5V3.5M3.89 -3.5V3.5"/></g>
<g transform="translate(1235.99 513.28)" fill="none" stroke="#2b2b2b" stroke-width="0.9"><rect x="-6.7" y="-3.5" width="13.4" height="7" rx="0.35"/><path d="M-3.89 -3.5V3.5M3.89 -3.5V3.5"/></g>
<rect x="1277.88" y="454.28" width="28.61" height="18.9" rx="0.8" fill="none" stroke="#2b2b2b" stroke-width="0.9"/>
<line x1="1284.17" y1="454.28" x2="1284.17" y2="473.18" stroke="#2b2b2b" stroke-width="0.9"/>
<line x1="1300.19" y1="454.28" x2="1300.19" y2="473.18" stroke="#2b2b2b" stroke-width="0.9"/>
<rect x="1277.88" y="481.61" width="28.61" height="18.9" rx="0.8" fill="none" stroke="#2b2b2b" stroke-width="0.9"/>
<line x1="1284.17" y1="481.61" x2="1284.17" y2="500.51" stroke="#2b2b2b" stroke-width="0.9"/>
<line x1="1300.19" y1="481.61" x2="1300.19" y2="500.51" stroke="#2b2b2b" stroke-width="0.9"/>
<rect x="1277.88" y="510.47" width="28.61" height="18.9" rx="0.8" fill="none" stroke="#2b2b2b" stroke-width="0.9"/>
<line x1="1284.17" y1="510.47" x2="1284.17" y2="529.37" stroke="#2b2b2b" stroke-width="0.9"/>
<line x1="1300.19" y1="510.47" x2="1300.19" y2="529.37" stroke="#2b2b2b" stroke-width="0.9"/>
<rect x="1277.88" y="539.34" width="28.61" height="18.9" rx="0.8" fill="none" stroke="#2b2b2b" stroke-width="0.9"/>
<line x1="1284.17" y1="539.34" x2="1284.17" y2="558.24" stroke="#2b2b2b" stroke-width="0.9"/>
<line x1="1300.19" y1="539.34" x2="1300.19" y2="558.24" stroke="#2b2b2b" stroke-width="0.9"/>
<g transform="translate(1191.29 505.62)"><rect x="-10.35" y="-5.15" width="20.7" height="10.3" rx="1" fill="#fff" stroke="#2b2b2b" stroke-width="1"/><path d="M-5.15 -5.15V5.15M5.15 -5.15V5.15" stroke="#2b2b2b" stroke-width="0.8"/><rect x="-1.6" y="-2.6" width="3.2" height="3.2" fill="#111"/></g>
<rect x="1176.73" y="520.18" width="28.86" height="19.16" rx="0.8" fill="none" stroke="#2b2b2b" stroke-width="0.9"/>
<line x1="1183.08" y1="520.18" x2="1183.08" y2="539.34" stroke="#2b2b2b" stroke-width="0.9"/>
<line x1="1199.24" y1="520.18" x2="1199.24" y2="539.34" stroke="#2b2b2b" stroke-width="0.9"/>
<rect x="1218.36" y="529.89" width="45.21" height="8.94" fill="none" stroke="#2b2b2b" stroke-width="0.9"/>
<rect x="1224.24" y="524.01" width="33.72" height="20.69" rx="1" fill="#fff" stroke="#111" stroke-width="2.2"/>
<rect x="1184.39" y="565.64" width="26.31" height="26.05" fill="none" stroke="#2b2b2b" stroke-width="0.9"/>
<circle cx="1205.08" cy="569.99" r="2.55" fill="none" stroke="#2b2b2b" stroke-width="0.8"/>
<rect x="1223.47" y="559.77" width="18.9" height="28.35" rx="0.8" fill="none" stroke="#2b2b2b" stroke-width="0.9"/>
<line x1="1223.47" y1="565.44" x2="1242.37" y2="565.44" stroke="#2b2b2b" stroke-width="0.9"/>
<line x1="1223.47" y1="582.45" x2="1242.37" y2="582.45" stroke="#2b2b2b" stroke-width="0.9"/>
<g transform="translate(1296.78 591.95) rotate(90)" fill="none" stroke="#2b2b2b" stroke-width="0.9"><rect x="-6.7" y="-3.5" width="13.4" height="7" rx="0.35"/><path d="M-3.89 -3.5V3.5M3.89 -3.5V3.5"/></g>
<g transform="translate(1312.87 591.95) rotate(90)" fill="none" stroke="#2b2b2b" stroke-width="0.9"><rect x="-6.7" y="-3.5" width="13.4" height="7" rx="0.35"/><path d="M-3.89 -3.5V3.5M3.89 -3.5V3.5"/></g>
<g transform="translate(1334.58 593.23) rotate(90)" fill="none" stroke="#2b2b2b" stroke-width="0.9"><rect x="-6.7" y="-3.5" width="13.4" height="7" rx="0.35"/><path d="M-3.89 -3.5V3.5M3.89 -3.5V3.5"/></g>
<g transform="translate(1349.14 593.23) rotate(90)" fill="none" stroke="#2b2b2b" stroke-width="0.9"><rect x="-6.7" y="-3.5" width="13.4" height="7" rx="0.35"/><path d="M-3.89 -3.5V3.5M3.89 -3.5V3.5"/></g>
<g transform="translate(1372.39 585.31)" fill="none" stroke="#2b2b2b" stroke-width="0.9"><rect x="-6.7" y="-3.5" width="13.4" height="7" rx="0.35"/><path d="M-3.89 -3.5V3.5M3.89 -3.5V3.5"/></g>
<g transform="translate(1372.39 599.87)" fill="none" stroke="#2b2b2b" stroke-width="0.9"><rect x="-6.7" y="-3.5" width="13.4" height="7" rx="0.35"/><path d="M-3.89 -3.5V3.5M3.89 -3.5V3.5"/></g>
<rect x="835.43" y="623.5" width="108.05" height="107.54" fill="none" stroke="#2b2b2b" stroke-width="0.9"/>
<line x1="835.43" y1="637.04" x2="848.97" y2="623.5" stroke="#2b2b2b" stroke-width="0.9"/>
<line x1="929.94" y1="623.5" x2="943.47" y2="637.04" stroke="#2b2b2b" stroke-width="0.9"/>
<line x1="835.43" y1="717.5" x2="848.97" y2="731.03" stroke="#2b2b2b" stroke-width="0.9"/>
<line x1="929.94" y1="731.03" x2="943.47" y2="717.5" stroke="#2b2b2b" stroke-width="0.9"/>
<path d="M914.61 692.72 L920.74 692.72 L920.74 702.43 L930.45 702.43 L930.45 708.56 L920.74 708.56 L920.74 718.26 L914.61 718.26 L914.61 708.56 L904.9 708.56 L904.9 702.43 L914.61 702.43 Z" fill="none" stroke="#2b2b2b" stroke-width="0.9"/>
<rect x="973.24" y="637.75" width="5.6" height="6.5" fill="none" stroke="#2b2b2b" stroke-width="0.9"/>
<line x1="973.24" y1="639.55" x2="978.84" y2="639.55" stroke="#2b2b2b" stroke-width="0.8"/>
<rect x="961.54" y="661.25" width="5.6" height="6.5" fill="none" stroke="#2b2b2b" stroke-width="0.9"/>
<line x1="961.54" y1="665.95" x2="967.14" y2="665.95" stroke="#2b2b2b" stroke-width="0.8"/>
<rect x="984.94" y="661.25" width="5.6" height="6.5" fill="none" stroke="#2b2b2b" stroke-width="0.9"/>
<line x1="984.94" y1="665.95" x2="990.54" y2="665.95" stroke="#2b2b2b" stroke-width="0.8"/>
<rect x="958.04" y="644.25" width="36" height="17" rx="1.5" fill="#fff" stroke="#111" stroke-width="2"/>
<g transform="translate(976.42 683.52)" fill="none" stroke="#2b2b2b" stroke-width="0.9"><rect x="-6.7" y="-3.5" width="13.4" height="7" rx="0.35"/><path d="M-3.89 -3.5V3.5M3.89 -3.5V3.5"/></g>
<g transform="translate(969.53 707.54) rotate(90)" fill="none" stroke="#2b2b2b" stroke-width="0.9"><rect x="-6.7" y="-3.5" width="13.4" height="7" rx="0.35"/><path d="M-3.89 -3.5V3.5M3.89 -3.5V3.5"/></g>
<g transform="translate(983.83 720.31) rotate(90)" fill="none" stroke="#2b2b2b" stroke-width="0.9"><rect x="-6.7" y="-3.5" width="13.4" height="7" rx="0.35"/><path d="M-3.89 -3.5V3.5M3.89 -3.5V3.5"/></g>
<g transform="translate(998.39 720.31) rotate(90)" fill="none" stroke="#2b2b2b" stroke-width="0.9"><rect x="-6.7" y="-3.5" width="13.4" height="7" rx="0.35"/><path d="M-3.89 -3.5V3.5M3.89 -3.5V3.5"/></g>
<g transform="translate(1012.95 720.31) rotate(90)" fill="none" stroke="#2b2b2b" stroke-width="0.9"><rect x="-6.7" y="-3.5" width="13.4" height="7" rx="0.35"/><path d="M-3.89 -3.5V3.5M3.89 -3.5V3.5"/></g>
<g transform="translate(956.76 757.34) rotate(90)" fill="none" stroke="#2b2b2b" stroke-width="0.9"><rect x="-6.7" y="-3.5" width="13.4" height="7" rx="0.35"/><path d="M-3.89 -3.5V3.5M3.89 -3.5V3.5"/></g>
<g transform="translate(992.01 786.21)" fill="none" stroke="#2b2b2b" stroke-width="0.9"><rect x="-6.7" y="-3.5" width="13.4" height="7" rx="0.35"/><path d="M-3.89 -3.5V3.5M3.89 -3.5V3.5"/></g>
<g transform="translate(1078.85 750.96)" fill="none" stroke="#2b2b2b" stroke-width="0.9"><rect x="-6.7" y="-3.5" width="13.4" height="7" rx="0.35"/><path d="M-3.89 -3.5V3.5M3.89 -3.5V3.5"/></g>
<g transform="translate(1078.85 765.52)" fill="none" stroke="#2b2b2b" stroke-width="0.9"><rect x="-6.7" y="-3.5" width="13.4" height="7" rx="0.35"/><path d="M-3.89 -3.5V3.5M3.89 -3.5V3.5"/></g>
<rect x="837.73" y="863.09" width="13.79" height="13.28" fill="none" stroke="#2b2b2b" stroke-width="0.9"/>
<circle cx="844.37" cy="909.58" r="6.13" fill="none" stroke="#2b2b2b" stroke-width="0.9"/>
<circle cx="876.55" cy="909.58" r="6.13" fill="none" stroke="#2b2b2b" stroke-width="0.9"/>
<circle cx="1083.7" cy="848.79" r="6.13" fill="none" stroke="#2b2b2b" stroke-width="0.9"/>
<circle cx="1083.7" cy="880.97" r="6.13" fill="none" stroke="#2b2b2b" stroke-width="0.9"/>
<circle cx="1111.03" cy="880.97" r="7.66" fill="none" stroke="#2b2b2b" stroke-width="0.9"/>
<circle cx="1083.7" cy="912.9" r="6.13" fill="none" stroke="#2b2b2b" stroke-width="0.9"/>
<g transform="translate(1107.71 855.17) rotate(90)" fill="none" stroke="#2b2b2b" stroke-width="0.9"><rect x="-6.7" y="-3.5" width="13.4" height="7" rx="0.35"/><path d="M-3.89 -3.5V3.5M3.89 -3.5V3.5"/></g>
<g transform="translate(1128.66 848.79)" fill="none" stroke="#2b2b2b" stroke-width="0.9"><rect x="-6.7" y="-3.5" width="13.4" height="7" rx="0.35"/><path d="M-3.89 -3.5V3.5M3.89 -3.5V3.5"/></g>
<g transform="translate(1131.98 889.4) rotate(90)" fill="none" stroke="#2b2b2b" stroke-width="0.9"><rect x="-6.7" y="-3.5" width="13.4" height="7" rx="0.35"/><path d="M-3.89 -3.5V3.5M3.89 -3.5V3.5"/></g>
<g transform="translate(1147.82 889.4) rotate(90)" fill="none" stroke="#2b2b2b" stroke-width="0.9"><rect x="-6.7" y="-3.5" width="13.4" height="7" rx="0.35"/><path d="M-3.89 -3.5V3.5M3.89 -3.5V3.5"/></g>
<g transform="translate(1164.16 889.4) rotate(90)" fill="none" stroke="#2b2b2b" stroke-width="0.9"><rect x="-6.7" y="-3.5" width="13.4" height="7" rx="0.35"/><path d="M-3.89 -3.5V3.5M3.89 -3.5V3.5"/></g>
<g transform="translate(1167.23 910.34)" fill="none" stroke="#2b2b2b" stroke-width="0.9"><rect x="-6.7" y="-3.5" width="13.4" height="7" rx="0.35"/><path d="M-3.89 -3.5V3.5M3.89 -3.5V3.5"/></g>
<rect x="1189.75" y="609.45" width="18.9" height="28.35" rx="0.8" fill="none" stroke="#2b2b2b" stroke-width="0.9"/>
<line x1="1189.75" y1="612.29" x2="1208.66" y2="612.29" stroke="#2b2b2b" stroke-width="0.9"/>
<line x1="1189.75" y1="634.97" x2="1208.66" y2="634.97" stroke="#2b2b2b" stroke-width="0.9"/>
<g transform="translate(1228.07 605.87)" fill="none" stroke="#2b2b2b" stroke-width="0.9"><rect x="-6.7" y="-3.5" width="13.4" height="7" rx="0.35"/><path d="M-3.89 -3.5V3.5M3.89 -3.5V3.5"/></g>
<g transform="translate(1228.07 620.43)" fill="none" stroke="#2b2b2b" stroke-width="0.9"><rect x="-6.7" y="-3.5" width="13.4" height="7" rx="0.35"/><path d="M-3.89 -3.5V3.5M3.89 -3.5V3.5"/></g>
<g transform="translate(1228.07 634.74)" fill="none" stroke="#2b2b2b" stroke-width="0.9"><rect x="-6.7" y="-3.5" width="13.4" height="7" rx="0.35"/><path d="M-3.89 -3.5V3.5M3.89 -3.5V3.5"/></g>
<g transform="translate(1242.37 656.19)" fill="none" stroke="#2b2b2b" stroke-width="0.9"><rect x="-6.7" y="-3.5" width="13.4" height="7" rx="0.35"/><path d="M-3.89 -3.5V3.5M3.89 -3.5V3.5"/></g>
<g transform="translate(1242.37 672.29)" fill="none" stroke="#2b2b2b" stroke-width="0.9"><rect x="-6.7" y="-3.5" width="13.4" height="7" rx="0.35"/><path d="M-3.89 -3.5V3.5M3.89 -3.5V3.5"/></g>
<rect x="1261.02" y="615.33" width="126.44" height="126.44" fill="none" stroke="#2b2b2b" stroke-width="0.9"/>
<circle cx="1366.26" cy="720.56" r="8.17" fill="none" stroke="#2b2b2b" stroke-width="0.9"/>
<g transform="translate(1403.04 625.8) rotate(90)" fill="none" stroke="#2b2b2b" stroke-width="0.9"><rect x="-6.7" y="-3.5" width="13.4" height="7" rx="0.35"/><path d="M-3.89 -3.5V3.5M3.89 -3.5V3.5"/></g>
<g transform="translate(1418.87 625.8) rotate(90)" fill="none" stroke="#2b2b2b" stroke-width="0.9"><rect x="-6.7" y="-3.5" width="13.4" height="7" rx="0.35"/><path d="M-3.89 -3.5V3.5M3.89 -3.5V3.5"/></g>
<g transform="translate(1434.97 625.8) rotate(90)" fill="none" stroke="#2b2b2b" stroke-width="0.9"><rect x="-6.7" y="-3.5" width="13.4" height="7" rx="0.35"/><path d="M-3.89 -3.5V3.5M3.89 -3.5V3.5"/></g>
<g transform="translate(1402.78 657.73) rotate(90)" fill="none" stroke="#2b2b2b" stroke-width="0.9"><rect x="-6.7" y="-3.5" width="13.4" height="7" rx="0.35"/><path d="M-3.89 -3.5V3.5M3.89 -3.5V3.5"/></g>
<g transform="translate(1402.78 685.06) rotate(90)" fill="none" stroke="#2b2b2b" stroke-width="0.9"><rect x="-6.7" y="-3.5" width="13.4" height="7" rx="0.35"/><path d="M-3.89 -3.5V3.5M3.89 -3.5V3.5"/></g>
<rect x="1418.87" y="650.32" width="32.44" height="40.87" rx="3" fill="none" stroke="#2b2b2b" stroke-width="0.9"/>
<rect x="1422.19" y="653.13" width="25.8" height="35.25" rx="3.5" fill="none" stroke="#111" stroke-width="1.6"/>
<path d="M1418.87 653.64 L1422.19 650.32" fill="none" stroke="#2b2b2b" stroke-width="0.6"/>
<text class="s" x="1432.41" y="660.79" font-size="5.2" text-anchor="start" fill="#111" font-weight="bold" transform="rotate(90 1432.41 660.79)">SX-3225</text>
<g transform="translate(1405.85 712.39) rotate(90)" fill="none" stroke="#2b2b2b" stroke-width="0.9"><rect x="-6.7" y="-3.5" width="13.4" height="7" rx="0.35"/><path d="M-3.89 -3.5V3.5M3.89 -3.5V3.5"/></g>
<g transform="translate(1405.85 739.72) rotate(90)" fill="none" stroke="#2b2b2b" stroke-width="0.9"><rect x="-6.7" y="-3.5" width="13.4" height="7" rx="0.35"/><path d="M-3.89 -3.5V3.5M3.89 -3.5V3.5"/></g>
<rect x="1420.15" y="709.32" width="20.43" height="41.38" rx="0.8" fill="none" stroke="#111" stroke-width="1.3"/>
<line x1="1420.15" y1="718.01" x2="1440.58" y2="718.01" stroke="#2b2b2b" stroke-width="0.9"/>
<line x1="1420.15" y1="742.02" x2="1440.58" y2="742.02" stroke="#2b2b2b" stroke-width="0.9"/>
<g transform="translate(1513.89 644.96)" fill="none" stroke="#2b2b2b" stroke-width="0.9"><rect x="-6.7" y="-3.5" width="13.4" height="7" rx="0.35"/><path d="M-3.89 -3.5V3.5M3.89 -3.5V3.5"/><path d="M-3.89 -3L3.89 3M-3.89 3L3.89 -3" stroke="#e02020" stroke-width="0.7"/></g>
<g transform="translate(1513.89 659.26)" fill="none" stroke="#2b2b2b" stroke-width="0.9"><rect x="-6.7" y="-3.5" width="13.4" height="7" rx="0.35"/><path d="M-3.89 -3.5V3.5M3.89 -3.5V3.5"/><path d="M-3.89 -3L3.89 3M-3.89 3L3.89 -3" stroke="#e02020" stroke-width="0.7"/></g>
<g transform="translate(1513.89 673.82)" fill="none" stroke="#2b2b2b" stroke-width="0.9"><rect x="-6.7" y="-3.5" width="13.4" height="7" rx="0.35"/><path d="M-3.89 -3.5V3.5M3.89 -3.5V3.5"/><path d="M-3.89 -3L3.89 3M-3.89 3L3.89 -3" stroke="#e02020" stroke-width="0.7"/></g>
<g transform="translate(1513.89 688.12)" fill="none" stroke="#2b2b2b" stroke-width="0.9"><rect x="-6.7" y="-3.5" width="13.4" height="7" rx="0.35"/><path d="M-3.89 -3.5V3.5M3.89 -3.5V3.5"/><path d="M-3.89 -3L3.89 3M-3.89 3L3.89 -3" stroke="#e02020" stroke-width="0.7"/></g>
<g transform="translate(1224.49 754.02)" fill="none" stroke="#2b2b2b" stroke-width="0.9"><rect x="-6.7" y="-3.5" width="13.4" height="7" rx="0.35"/><path d="M-3.89 -3.5V3.5M3.89 -3.5V3.5"/></g>
<g transform="translate(1250.04 754.02)" fill="none" stroke="#2b2b2b" stroke-width="0.9"><rect x="-6.7" y="-3.5" width="13.4" height="7" rx="0.35"/><path d="M-3.89 -3.5V3.5M3.89 -3.5V3.5"/></g>
<g transform="translate(1230.62 774.97) rotate(90)" fill="none" stroke="#2b2b2b" stroke-width="0.9"><rect x="-6.7" y="-3.5" width="13.4" height="7" rx="0.35"/><path d="M-3.89 -3.5V3.5M3.89 -3.5V3.5"/></g>
<g transform="translate(1245.18 774.97) rotate(90)" fill="none" stroke="#2b2b2b" stroke-width="0.9"><rect x="-6.7" y="-3.5" width="13.4" height="7" rx="0.35"/><path d="M-3.89 -3.5V3.5M3.89 -3.5V3.5"/></g>
<g transform="translate(1309.81 762.2) rotate(90)" fill="none" stroke="#2b2b2b" stroke-width="0.9"><rect x="-6.7" y="-3.5" width="13.4" height="7" rx="0.35"/><path d="M-3.89 -3.5V3.5M3.89 -3.5V3.5"/></g>
<g transform="translate(1325.9 762.2) rotate(90)" fill="none" stroke="#2b2b2b" stroke-width="0.9"><rect x="-6.7" y="-3.5" width="13.4" height="7" rx="0.35"/><path d="M-3.89 -3.5V3.5M3.89 -3.5V3.5"/></g>
<g transform="translate(1341.99 762.2) rotate(90)" fill="none" stroke="#2b2b2b" stroke-width="0.9"><rect x="-6.7" y="-3.5" width="13.4" height="7" rx="0.35"/><path d="M-3.89 -3.5V3.5M3.89 -3.5V3.5"/></g>
<g transform="translate(1372.64 762.2) rotate(90)" fill="none" stroke="#2b2b2b" stroke-width="0.9"><rect x="-6.7" y="-3.5" width="13.4" height="7" rx="0.35"/><path d="M-3.89 -3.5V3.5M3.89 -3.5V3.5"/></g>
<g transform="translate(1388.48 762.2) rotate(90)" fill="none" stroke="#2b2b2b" stroke-width="0.9"><rect x="-6.7" y="-3.5" width="13.4" height="7" rx="0.35"/><path d="M-3.89 -3.5V3.5M3.89 -3.5V3.5"/></g>
<g transform="translate(1439.82 841.89)" fill="none" stroke="#2b2b2b" stroke-width="0.9"><rect x="-6.7" y="-3.5" width="13.4" height="7" rx="0.35"/><path d="M-3.89 -3.5V3.5M3.89 -3.5V3.5"/></g>
<rect x="1175.71" y="882.25" width="18.9" height="14.56" rx="1" fill="none" stroke="#2b2b2b" stroke-width="0.9"/>
<circle cx="1178.01" cy="894.51" r="0.64" fill="none" stroke="#2b2b2b" stroke-width="0.6"/>
<g transform="translate(1204.31 889.4) rotate(90)" fill="none" stroke="#2b2b2b" stroke-width="0.9"><rect x="-6.7" y="-3.5" width="13.4" height="7" rx="0.35"/><path d="M-3.89 -3.5V3.5M3.89 -3.5V3.5"/></g>
<g transform="translate(1193.08 910.34)" fill="none" stroke="#2b2b2b" stroke-width="0.9"><rect x="-6.7" y="-3.5" width="13.4" height="7" rx="0.35"/><path d="M-3.89 -3.5V3.5M3.89 -3.5V3.5"/></g>
<rect x="1449.94" y="863.13" width="50.74" height="32.98" fill="none" stroke="#2b2b2b" stroke-width="0.9"/>
<line x1="1449.94" y1="874.38" x2="1500.68" y2="874.38" stroke="#111" stroke-width="1.6"/>
<line x1="1449.94" y1="878.98" x2="1500.68" y2="878.98" stroke="#2b2b2b" stroke-width="0.8"/>
<line x1="1449.94" y1="881.52" x2="1500.68" y2="881.52" stroke="#2b2b2b" stroke-width="0.8"/>
<circle cx="1475.31" cy="930.99" r="43.13" fill="#fff" stroke="#2b2b2b" stroke-width="0.9"/>
<circle cx="1475.31" cy="930.99" r="35.67" fill="none" stroke="#2b2b2b" stroke-width="1.1"/>
<circle cx="1475.31" cy="930.99" r="33.93" fill="none" stroke="#2b2b2b" stroke-width="0.9"/>
<circle cx="1475.31" cy="930.99" r="30.13" fill="none" stroke="#2b2b2b" stroke-width="0.9"/>
<line x1="1475.31" y1="888.18" x2="1475.31" y2="901.66" stroke="#2b2b2b" stroke-width="0.9"/>
<rect x="1456.29" y="918.3" width="38.37" height="88.31" rx="4.5" fill="#fff" stroke="#2b2b2b" stroke-width="0.9"/>
<line x1="1456.29" y1="985.69" x2="1494.66" y2="985.69" stroke="#111" stroke-width="1.6"/>
<line x1="1456.29" y1="990.45" x2="1494.66" y2="990.45" stroke="#2b2b2b" stroke-width="0.8"/>
<line x1="1456.29" y1="993.62" x2="1494.66" y2="993.62" stroke="#2b2b2b" stroke-width="0.8"/>
<rect x="1459.82" y="839.4" width="34" height="4.8" fill="none" stroke="#2b2b2b" stroke-width="0.9"/>
<rect x="1465.32" y="833.5" width="23" height="16.6" fill="#fff" stroke="#111" stroke-width="2"/>
<line x1="1472.91" y1="833.5" x2="1472.91" y2="850.1" stroke="#2b2b2b" stroke-width="0.9"/>
<circle cx="1083.59" cy="945.05" r="6.03" fill="none" stroke="#2b2b2b" stroke-width="0.9"/>
<rect x="1043.41" y="910.9" width="19.51" height="29.27" rx="0.8" fill="none" stroke="#2b2b2b" stroke-width="0.9"/>
<line x1="1043.41" y1="913.83" x2="1062.93" y2="913.83" stroke="#2b2b2b" stroke-width="0.9"/>
<line x1="1043.41" y1="937.25" x2="1062.93" y2="937.25" stroke="#2b2b2b" stroke-width="0.9"/>
<g transform="translate(1129.78 928.98) rotate(90)" fill="none" stroke="#2b2b2b" stroke-width="0.9"><rect x="-6.7" y="-3.5" width="13.4" height="7" rx="0.35"/><path d="M-3.89 -3.5V3.5M3.89 -3.5V3.5"/><path d="M-3.89 -3L3.89 3M-3.89 3L3.89 -3" stroke="#e02020" stroke-width="0.7"/></g>
<g transform="translate(1144.42 928.98) rotate(90)" fill="none" stroke="#2b2b2b" stroke-width="0.9"><rect x="-6.7" y="-3.5" width="13.4" height="7" rx="0.35"/><path d="M-3.89 -3.5V3.5M3.89 -3.5V3.5"/></g>
<rect x="835.93" y="965.31" width="13.8" height="5.4" fill="none" stroke="#2b2b2b" stroke-width="0.9"/>
<line x1="841.53" y1="965.31" x2="841.53" y2="970.71" stroke="#2b2b2b" stroke-width="0.8"/>
<line x1="843.93" y1="965.31" x2="843.93" y2="970.71" stroke="#2b2b2b" stroke-width="0.8"/>
<rect x="898.51" y="965.31" width="13.8" height="5.4" fill="none" stroke="#2b2b2b" stroke-width="0.9"/>
<line x1="906.71" y1="965.31" x2="906.71" y2="970.71" stroke="#2b2b2b" stroke-width="0.8"/>
<line x1="904.31" y1="965.31" x2="904.31" y2="970.71" stroke="#2b2b2b" stroke-width="0.8"/>
<rect x="835.93" y="981.09" width="13.8" height="5.4" fill="none" stroke="#2b2b2b" stroke-width="0.9"/>
<line x1="841.53" y1="981.09" x2="841.53" y2="986.49" stroke="#2b2b2b" stroke-width="0.8"/>
<line x1="843.93" y1="981.09" x2="843.93" y2="986.49" stroke="#2b2b2b" stroke-width="0.8"/>
<rect x="898.51" y="981.09" width="13.8" height="5.4" fill="none" stroke="#2b2b2b" stroke-width="0.9"/>
<line x1="906.71" y1="981.09" x2="906.71" y2="986.49" stroke="#2b2b2b" stroke-width="0.8"/>
<line x1="904.31" y1="981.09" x2="904.31" y2="986.49" stroke="#2b2b2b" stroke-width="0.8"/>
<rect x="835.93" y="997.16" width="13.8" height="5.4" fill="none" stroke="#2b2b2b" stroke-width="0.9"/>
<line x1="841.53" y1="997.16" x2="841.53" y2="1002.56" stroke="#2b2b2b" stroke-width="0.8"/>
<line x1="843.93" y1="997.16" x2="843.93" y2="1002.56" stroke="#2b2b2b" stroke-width="0.8"/>
<rect x="898.51" y="997.16" width="13.8" height="5.4" fill="none" stroke="#2b2b2b" stroke-width="0.9"/>
<line x1="906.71" y1="997.16" x2="906.71" y2="1002.56" stroke="#2b2b2b" stroke-width="0.8"/>
<line x1="904.31" y1="997.16" x2="904.31" y2="1002.56" stroke="#2b2b2b" stroke-width="0.8"/>
<rect x="835.93" y="1013.23" width="13.8" height="5.4" fill="none" stroke="#2b2b2b" stroke-width="0.9"/>
<line x1="841.53" y1="1013.23" x2="841.53" y2="1018.63" stroke="#2b2b2b" stroke-width="0.8"/>
<line x1="843.93" y1="1013.23" x2="843.93" y2="1018.63" stroke="#2b2b2b" stroke-width="0.8"/>
<rect x="898.51" y="1013.23" width="13.8" height="5.4" fill="none" stroke="#2b2b2b" stroke-width="0.9"/>
<line x1="906.71" y1="1013.23" x2="906.71" y2="1018.63" stroke="#2b2b2b" stroke-width="0.8"/>
<line x1="904.31" y1="1013.23" x2="904.31" y2="1018.63" stroke="#2b2b2b" stroke-width="0.8"/>
<rect x="849.73" y="960.83" width="48.78" height="61.98" fill="#fff" stroke="#2b2b2b" stroke-width="0.9"/>
<line x1="849.73" y1="960.83" x2="898.51" y2="960.83" stroke="#111" stroke-width="1.6"/>
<line x1="856.03" y1="960.83" x2="856.03" y2="1022.81" stroke="#2b2b2b" stroke-width="0.9"/>
<line x1="896.81" y1="960.83" x2="896.81" y2="1022.81" stroke="#2b2b2b" stroke-width="0.9"/>
<g transform="translate(929.5 993.26) rotate(90)" fill="none" stroke="#2b2b2b" stroke-width="0.9"><rect x="-6.7" y="-3.5" width="13.4" height="7" rx="0.35"/><path d="M-3.89 -3.5V3.5M3.89 -3.5V3.5"/></g>
<text class="s" x="-1.5" y="0" font-size="100" font-weight="bold" fill="#5a5a5a" stroke="#5a5a5a" stroke-width="1.2" textLength="200.5" lengthAdjust="spacingAndGlyphs" transform="translate(830.2 1092.4) scale(1 0.89)">ARK</text>
<text class="s" x="829.7" y="1116.9" font-size="19.97" fill="#5a5a5a" stroke="#5a5a5a" stroke-width="0.55" textLength="199" lengthAdjust="spacingAndGlyphs">ELECTRONICS</text>
<text class="t" dx="-1.04" x="1034.52" y="1043.47" font-size="23.1" text-anchor="start" fill="#111" font-weight="normal" stroke="#fff" stroke-width="0.22">OUT</text>
<g transform="translate(953.6 1128.12)" fill="none" stroke="#2b2b2b" stroke-width="0.9"><rect x="-6.7" y="-3.5" width="13.4" height="7" rx="0.35"/><path d="M-3.89 -3.5V3.5M3.89 -3.5V3.5"/></g>
<text class="t" x="0" y="1178.08" font-size="23.1" fill="#111" stroke="#fff" stroke-width="0.2" textLength="13.86" lengthAdjust="spacingAndGlyphs" transform="translate(1085.16 0) scale(1.7 1) translate(-6.93 0)">-</text>
<text class="t" dx="-1.04" x="1073.54" y="1201.29" font-size="23.1" text-anchor="start" fill="#111" font-weight="normal" stroke="#fff" stroke-width="0.22">IN</text>
<rect x="1146.1" y="972" width="62.3" height="20" fill="none" stroke="#2b2b2b" stroke-width="0.9"/>
<rect x="1149.3" y="964.6" width="55.4" height="34.4" fill="#fff" stroke="#111" stroke-width="1.8"/>
<rect x="1151.8" y="967.1" width="50.4" height="29.4" fill="none" stroke="#2b2b2b" stroke-width="0.8"/>
<rect x="1250.07" y="969.44" width="13.77" height="14.92" fill="none" stroke="#2b2b2b" stroke-width="0.9"/>
<line x1="1251.22" y1="972.31" x2="1254.09" y2="972.31" stroke="#2b2b2b" stroke-width="0.6"/>
<line x1="1252.66" y1="970.88" x2="1252.66" y2="973.74" stroke="#2b2b2b" stroke-width="0.6"/>
<g fill="#9a9a9a"><rect x="1280.2" y="933.6" width="58" height="40.99"/><rect x="1338.2" y="933.6" width="88.9" height="5.5"/><rect x="1338.2" y="945.43" width="88.9" height="5.5"/><rect x="1338.2" y="957.26" width="88.9" height="5.5"/><rect x="1338.2" y="969.09" width="88.9" height="5.5"/><rect x="1280.2" y="980.92" width="146.9" height="5.5"/><rect x="1280.2" y="992.75" width="146.9" height="5.5"/><rect x="1280.2" y="1004.58" width="146.9" height="5.5"/></g><g fill="#fff"><path d="M1285.08 935.65L1285.54 936.96L1286.93 936.99L1285.82 937.83L1286.22 939.16L1285.08 938.37L1283.94 939.16L1284.34 937.83L1283.23 936.99L1284.62 936.96ZM1294.73 935.65L1295.18 936.96L1296.57 936.99L1295.47 937.83L1295.87 939.16L1294.73 938.37L1293.59 939.16L1293.99 937.83L1292.88 936.99L1294.27 936.96ZM1304.38 935.65L1304.83 936.96L1306.22 936.99L1305.11 937.83L1305.52 939.16L1304.38 938.37L1303.24 939.16L1303.64 937.83L1302.53 936.99L1303.92 936.96ZM1314.02 935.65L1314.48 936.96L1315.87 936.99L1314.76 937.83L1315.16 939.16L1314.02 938.37L1312.88 939.16L1313.29 937.83L1312.18 936.99L1313.57 936.96ZM1323.67 935.65L1324.13 936.96L1325.52 936.99L1324.41 937.83L1324.81 939.16L1323.67 938.37L1322.53 939.16L1322.93 937.83L1321.83 936.99L1323.22 936.96ZM1333.32 935.65L1333.78 936.96L1335.17 936.99L1334.06 937.83L1334.46 939.16L1333.32 938.37L1332.18 939.16L1332.58 937.83L1331.47 936.99L1332.86 936.96ZM1289.9 939.78L1290.36 941.09L1291.75 941.12L1290.64 941.96L1291.04 943.29L1289.9 942.49L1288.76 943.29L1289.17 941.96L1288.06 941.12L1289.45 941.09ZM1299.55 939.78L1300.01 941.09L1301.4 941.12L1300.29 941.96L1300.69 943.29L1299.55 942.49L1298.41 943.29L1298.81 941.96L1297.71 941.12L1299.1 941.09ZM1309.2 939.78L1309.66 941.09L1311.05 941.12L1309.94 941.96L1310.34 943.29L1309.2 942.49L1308.06 943.29L1308.46 941.96L1307.35 941.12L1308.74 941.09ZM1318.85 939.78L1319.3 941.09L1320.69 941.12L1319.59 941.96L1319.99 943.29L1318.85 942.49L1317.71 943.29L1318.11 941.96L1317 941.12L1318.39 941.09ZM1328.5 939.78L1328.95 941.09L1330.34 941.12L1329.23 941.96L1329.64 943.29L1328.5 942.49L1327.36 943.29L1327.76 941.96L1326.65 941.12L1328.04 941.09ZM1285.08 943.9L1285.54 945.22L1286.93 945.24L1285.82 946.08L1286.22 947.41L1285.08 946.62L1283.94 947.41L1284.34 946.08L1283.23 945.24L1284.62 945.22ZM1294.73 943.9L1295.18 945.22L1296.57 945.24L1295.47 946.08L1295.87 947.41L1294.73 946.62L1293.59 947.41L1293.99 946.08L1292.88 945.24L1294.27 945.22ZM1304.38 943.9L1304.83 945.22L1306.22 945.24L1305.11 946.08L1305.52 947.41L1304.38 946.62L1303.24 947.41L1303.64 946.08L1302.53 945.24L1303.92 945.22ZM1314.02 943.9L1314.48 945.22L1315.87 945.24L1314.76 946.08L1315.16 947.41L1314.02 946.62L1312.88 947.41L1313.29 946.08L1312.18 945.24L1313.57 945.22ZM1323.67 943.9L1324.13 945.22L1325.52 945.24L1324.41 946.08L1324.81 947.41L1323.67 946.62L1322.53 947.41L1322.93 946.08L1321.83 945.24L1323.22 945.22ZM1333.32 943.9L1333.78 945.22L1335.17 945.24L1334.06 946.08L1334.46 947.41L1333.32 946.62L1332.18 947.41L1332.58 946.08L1331.47 945.24L1332.86 945.22ZM1289.9 948.03L1290.36 949.34L1291.75 949.37L1290.64 950.21L1291.04 951.54L1289.9 950.75L1288.76 951.54L1289.17 950.21L1288.06 949.37L1289.45 949.34ZM1299.55 948.03L1300.01 949.34L1301.4 949.37L1300.29 950.21L1300.69 951.54L1299.55 950.75L1298.41 951.54L1298.81 950.21L1297.71 949.37L1299.1 949.34ZM1309.2 948.03L1309.66 949.34L1311.05 949.37L1309.94 950.21L1310.34 951.54L1309.2 950.75L1308.06 951.54L1308.46 950.21L1307.35 949.37L1308.74 949.34ZM1318.85 948.03L1319.3 949.34L1320.69 949.37L1319.59 950.21L1319.99 951.54L1318.85 950.75L1317.71 951.54L1318.11 950.21L1317 949.37L1318.39 949.34ZM1328.5 948.03L1328.95 949.34L1330.34 949.37L1329.23 950.21L1329.64 951.54L1328.5 950.75L1327.36 951.54L1327.76 950.21L1326.65 949.37L1328.04 949.34ZM1285.08 952.16L1285.54 953.47L1286.93 953.5L1285.82 954.34L1286.22 955.67L1285.08 954.87L1283.94 955.67L1284.34 954.34L1283.23 953.5L1284.62 953.47ZM1294.73 952.16L1295.18 953.47L1296.57 953.5L1295.47 954.34L1295.87 955.67L1294.73 954.87L1293.59 955.67L1293.99 954.34L1292.88 953.5L1294.27 953.47ZM1304.38 952.16L1304.83 953.47L1306.22 953.5L1305.11 954.34L1305.52 955.67L1304.38 954.87L1303.24 955.67L1303.64 954.34L1302.53 953.5L1303.92 953.47ZM1314.02 952.16L1314.48 953.47L1315.87 953.5L1314.76 954.34L1315.16 955.67L1314.02 954.87L1312.88 955.67L1313.29 954.34L1312.18 953.5L1313.57 953.47ZM1323.67 952.16L1324.13 953.47L1325.52 953.5L1324.41 954.34L1324.81 955.67L1323.67 954.87L1322.53 955.67L1322.93 954.34L1321.83 953.5L1323.22 953.47ZM1333.32 952.16L1333.78 953.47L1335.17 953.5L1334.06 954.34L1334.46 955.67L1333.32 954.87L1332.18 955.67L1332.58 954.34L1331.47 953.5L1332.86 953.47ZM1289.9 956.28L1290.36 957.59L1291.75 957.62L1290.64 958.46L1291.04 959.79L1289.9 959L1288.76 959.79L1289.17 958.46L1288.06 957.62L1289.45 957.59ZM1299.55 956.28L1300.01 957.59L1301.4 957.62L1300.29 958.46L1300.69 959.79L1299.55 959L1298.41 959.79L1298.81 958.46L1297.71 957.62L1299.1 957.59ZM1309.2 956.28L1309.66 957.59L1311.05 957.62L1309.94 958.46L1310.34 959.79L1309.2 959L1308.06 959.79L1308.46 958.46L1307.35 957.62L1308.74 957.59ZM1318.85 956.28L1319.3 957.59L1320.69 957.62L1319.59 958.46L1319.99 959.79L1318.85 959L1317.71 959.79L1318.11 958.46L1317 957.62L1318.39 957.59ZM1328.5 956.28L1328.95 957.59L1330.34 957.62L1329.23 958.46L1329.64 959.79L1328.5 959L1327.36 959.79L1327.76 958.46L1326.65 957.62L1328.04 957.59ZM1285.08 960.41L1285.54 961.72L1286.93 961.75L1285.82 962.59L1286.22 963.92L1285.08 963.13L1283.94 963.92L1284.34 962.59L1283.23 961.75L1284.62 961.72ZM1294.73 960.41L1295.18 961.72L1296.57 961.75L1295.47 962.59L1295.87 963.92L1294.73 963.13L1293.59 963.92L1293.99 962.59L1292.88 961.75L1294.27 961.72ZM1304.38 960.41L1304.83 961.72L1306.22 961.75L1305.11 962.59L1305.52 963.92L1304.38 963.13L1303.24 963.92L1303.64 962.59L1302.53 961.75L1303.92 961.72ZM1314.02 960.41L1314.48 961.72L1315.87 961.75L1314.76 962.59L1315.16 963.92L1314.02 963.13L1312.88 963.92L1313.29 962.59L1312.18 961.75L1313.57 961.72ZM1323.67 960.41L1324.13 961.72L1325.52 961.75L1324.41 962.59L1324.81 963.92L1323.67 963.13L1322.53 963.92L1322.93 962.59L1321.83 961.75L1323.22 961.72ZM1333.32 960.41L1333.78 961.72L1335.17 961.75L1334.06 962.59L1334.46 963.92L1333.32 963.13L1332.18 963.92L1332.58 962.59L1331.47 961.75L1332.86 961.72ZM1289.9 964.53L1290.36 965.85L1291.75 965.88L1290.64 966.72L1291.04 968.05L1289.9 967.25L1288.76 968.05L1289.17 966.72L1288.06 965.88L1289.45 965.85ZM1299.55 964.53L1300.01 965.85L1301.4 965.88L1300.29 966.72L1300.69 968.05L1299.55 967.25L1298.41 968.05L1298.81 966.72L1297.71 965.88L1299.1 965.85ZM1309.2 964.53L1309.66 965.85L1311.05 965.88L1309.94 966.72L1310.34 968.05L1309.2 967.25L1308.06 968.05L1308.46 966.72L1307.35 965.88L1308.74 965.85ZM1318.85 964.53L1319.3 965.85L1320.69 965.88L1319.59 966.72L1319.99 968.05L1318.85 967.25L1317.71 968.05L1318.11 966.72L1317 965.88L1318.39 965.85ZM1328.5 964.53L1328.95 965.85L1330.34 965.88L1329.23 966.72L1329.64 968.05L1328.5 967.25L1327.36 968.05L1327.76 966.72L1326.65 965.88L1328.04 965.85ZM1285.08 968.66L1285.54 969.97L1286.93 970L1285.82 970.84L1286.22 972.17L1285.08 971.38L1283.94 972.17L1284.34 970.84L1283.23 970L1284.62 969.97ZM1294.73 968.66L1295.18 969.97L1296.57 970L1295.47 970.84L1295.87 972.17L1294.73 971.38L1293.59 972.17L1293.99 970.84L1292.88 970L1294.27 969.97ZM1304.38 968.66L1304.83 969.97L1306.22 970L1305.11 970.84L1305.52 972.17L1304.38 971.38L1303.24 972.17L1303.64 970.84L1302.53 970L1303.92 969.97ZM1314.02 968.66L1314.48 969.97L1315.87 970L1314.76 970.84L1315.16 972.17L1314.02 971.38L1312.88 972.17L1313.29 970.84L1312.18 970L1313.57 969.97ZM1323.67 968.66L1324.13 969.97L1325.52 970L1324.41 970.84L1324.81 972.17L1323.67 971.38L1322.53 972.17L1322.93 970.84L1321.83 970L1323.22 969.97ZM1333.32 968.66L1333.78 969.97L1335.17 970L1334.06 970.84L1334.46 972.17L1333.32 971.38L1332.18 972.17L1332.58 970.84L1331.47 970L1332.86 969.97Z"/></g>
<text class="t" dx="-1.04" x="1280.2" y="1043.47" font-size="23.1" text-anchor="start" fill="#111" font-weight="normal" stroke="#fff" stroke-width="0.22">OUT</text>
<rect x="1302.87" y="1055.24" width="81.78" height="86.08" fill="none" stroke="#2b2b2b" stroke-width="1"/>
<line x1="1302.87" y1="1082.78" x2="1384.65" y2="1082.78" stroke="#111" stroke-width="1.8"/>
<line x1="1302.87" y1="1113.77" x2="1384.65" y2="1113.77" stroke="#111" stroke-width="1.8"/>
<rect x="1302.87" y="1077.04" width="8.61" height="5.74" fill="none" stroke="#2b2b2b" stroke-width="0.8"/>
<rect x="1376.04" y="1077.04" width="8.61" height="5.74" fill="none" stroke="#2b2b2b" stroke-width="0.8"/>
<rect x="1302.87" y="1113.77" width="8.61" height="5.74" fill="none" stroke="#2b2b2b" stroke-width="0.8"/>
<rect x="1376.04" y="1113.77" width="8.61" height="5.74" fill="none" stroke="#2b2b2b" stroke-width="0.8"/>
<g transform="translate(1401.87 1090.53)" fill="none" stroke="#2b2b2b" stroke-width="0.9"><rect x="-6.7" y="-3.5" width="13.4" height="7" rx="0.35"/><path d="M-3.89 -3.5V3.5M3.89 -3.5V3.5"/></g>
<g transform="translate(1401.87 1105.74)" fill="none" stroke="#2b2b2b" stroke-width="0.9"><rect x="-6.7" y="-3.5" width="13.4" height="7" rx="0.35"/><path d="M-3.89 -3.5V3.5M3.89 -3.5V3.5"/></g>
<g transform="translate(1423.1 1097.99) rotate(90)" fill="none" stroke="#2b2b2b" stroke-width="0.9"><rect x="-6.7" y="-3.5" width="13.4" height="7" rx="0.35"/><path d="M-3.89 -3.5V3.5M3.89 -3.5V3.5"/></g>
<g transform="translate(1449.5 1040.89)" fill="none" stroke="#2b2b2b" stroke-width="0.9"><rect x="-6.7" y="-3.5" width="13.4" height="7" rx="0.35"/><path d="M-3.89 -3.5V3.5M3.89 -3.5V3.5"/></g>
<g transform="translate(1449.5 1055.81)" fill="none" stroke="#2b2b2b" stroke-width="0.9"><rect x="-6.7" y="-3.5" width="13.4" height="7" rx="0.35"/><path d="M-3.89 -3.5V3.5M3.89 -3.5V3.5"/></g>
<g transform="translate(1489.67 1055.81)" fill="none" stroke="#2b2b2b" stroke-width="0.9"><rect x="-6.7" y="-3.5" width="13.4" height="7" rx="0.35"/><path d="M-3.89 -3.5V3.5M3.89 -3.5V3.5"/></g>
<rect x="1438.02" y="1072.17" width="12.34" height="2.87" fill="none" stroke="#2b2b2b" stroke-width="0.8"/>
<line x1="1441.47" y1="1072.17" x2="1441.47" y2="1075.04" stroke="#2b2b2b" stroke-width="0.7"/>
<rect x="1487.38" y="1072.17" width="12.63" height="2.87" fill="none" stroke="#2b2b2b" stroke-width="0.8"/>
<line x1="1496.56" y1="1072.17" x2="1496.56" y2="1075.04" stroke="#2b2b2b" stroke-width="0.7"/>
<rect x="1438.02" y="1078.77" width="12.34" height="2.87" fill="none" stroke="#2b2b2b" stroke-width="0.8"/>
<line x1="1441.47" y1="1078.77" x2="1441.47" y2="1081.64" stroke="#2b2b2b" stroke-width="0.7"/>
<rect x="1487.38" y="1078.77" width="12.63" height="2.87" fill="none" stroke="#2b2b2b" stroke-width="0.8"/>
<line x1="1496.56" y1="1078.77" x2="1496.56" y2="1081.64" stroke="#2b2b2b" stroke-width="0.7"/>
<rect x="1438.02" y="1085.08" width="12.34" height="2.87" fill="none" stroke="#2b2b2b" stroke-width="0.8"/>
<line x1="1441.47" y1="1085.08" x2="1441.47" y2="1087.95" stroke="#2b2b2b" stroke-width="0.7"/>
<rect x="1487.38" y="1085.08" width="12.63" height="2.87" fill="none" stroke="#2b2b2b" stroke-width="0.8"/>
<line x1="1496.56" y1="1085.08" x2="1496.56" y2="1087.95" stroke="#2b2b2b" stroke-width="0.7"/>
<rect x="1438.02" y="1091.39" width="12.34" height="2.87" fill="none" stroke="#2b2b2b" stroke-width="0.8"/>
<line x1="1441.47" y1="1091.39" x2="1441.47" y2="1094.26" stroke="#2b2b2b" stroke-width="0.7"/>
<rect x="1487.38" y="1091.39" width="12.63" height="2.87" fill="none" stroke="#2b2b2b" stroke-width="0.8"/>
<line x1="1496.56" y1="1091.39" x2="1496.56" y2="1094.26" stroke="#2b2b2b" stroke-width="0.7"/>
<rect x="1438.02" y="1097.99" width="12.34" height="2.87" fill="none" stroke="#2b2b2b" stroke-width="0.8"/>
<line x1="1441.47" y1="1097.99" x2="1441.47" y2="1100.86" stroke="#2b2b2b" stroke-width="0.7"/>
<rect x="1487.38" y="1097.99" width="12.63" height="2.87" fill="none" stroke="#2b2b2b" stroke-width="0.8"/>
<line x1="1496.56" y1="1097.99" x2="1496.56" y2="1100.86" stroke="#2b2b2b" stroke-width="0.7"/>
<rect x="1450.36" y="1068.44" width="37.02" height="37.02" fill="#fff" stroke="#111" stroke-width="2"/>
<circle cx="1485.08" cy="1099.43" r="1.15" fill="none" stroke="#2b2b2b" stroke-width="0.7"/>
<g transform="translate(1462.7 1117.22)" fill="none" stroke="#2b2b2b" stroke-width="0.9"><rect x="-6.7" y="-3.5" width="13.4" height="7" rx="0.35"/><path d="M-3.89 -3.5V3.5M3.89 -3.5V3.5"/></g>
<g transform="translate(1488.24 1117.22)" fill="none" stroke="#2b2b2b" stroke-width="0.9"><rect x="-6.7" y="-3.5" width="13.4" height="7" rx="0.35"/><path d="M-3.89 -3.5V3.5M3.89 -3.5V3.5"/><path d="M-3.89 -3L3.89 3M-3.89 3L3.89 -3" stroke="#e02020" stroke-width="0.7"/></g>
<rect x="1416.5" y="1130.42" width="43.62" height="24.39" rx="1" fill="none" stroke="#2b2b2b" stroke-width="0.9"/>
<line x1="1425.68" y1="1130.42" x2="1425.68" y2="1154.81" stroke="#2b2b2b" stroke-width="0.9"/>
<line x1="1427.69" y1="1130.42" x2="1427.69" y2="1154.81" stroke="#2b2b2b" stroke-width="0.9"/>
<line x1="1429.99" y1="1130.42" x2="1429.99" y2="1154.81" stroke="#2b2b2b" stroke-width="0.9"/>
<line x1="1450.65" y1="1130.42" x2="1450.65" y2="1154.81" stroke="#2b2b2b" stroke-width="0.9"/>
<text class="t" x="1277.91" y="1179.07" font-size="23.1" text-anchor="middle" fill="#111" stroke="#fff" stroke-width="0.3">+</text>
<text class="t" dx="-1.04" x="1265.86" y="1201.29" font-size="23.1" text-anchor="start" fill="#111" font-weight="normal" stroke="#fff" stroke-width="0.22">IN</text>
<text class="t" dx="-1.04" x="1361.12" y="1176.04" font-size="23.1" text-anchor="start" fill="#111" font-weight="normal" stroke="#fff" stroke-width="0.22">33V</text>
<text class="t" dx="-1.04" x="1361.12" y="1199.28" font-size="23.1" text-anchor="start" fill="#111" font-weight="normal" stroke="#fff" stroke-width="0.22">MAX</text>
</svg>
</body></html>
